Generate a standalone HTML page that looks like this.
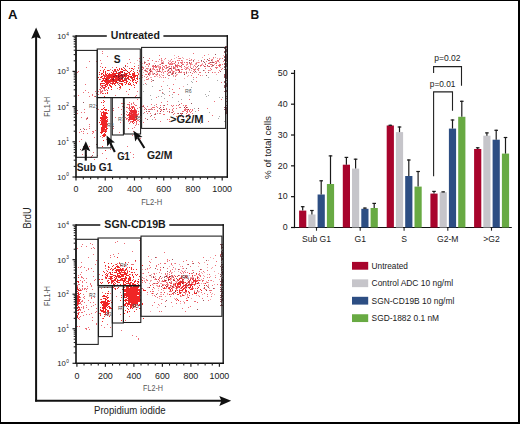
<!DOCTYPE html>
<html><head><meta charset="utf-8"><style>
html,body{margin:0;padding:0;background:#fff;}
body{width:520px;height:424px;overflow:hidden;position:relative;}
svg{position:absolute;left:0;top:0;font-family:"Liberation Sans", sans-serif;}
.frame{position:absolute;left:0;top:0;width:517px;height:421px;border-top:1px solid #000;border-left:1px solid #000;border-right:2px solid #000;border-bottom:2px solid #000;}
</style></head><body>
<svg width="520" height="424" viewBox="0 0 520 424">
<defs><filter id="jb" x="-5%" y="-5%" width="110%" height="110%"><feGaussianBlur stdDeviation="0.5"/></filter></defs><g filter="url(#jb)"><path d="M103 125h1v1h-1zM103 121h1v1h-1zM102 121h1v1h-1zM105 125h1v1h-1zM105 124h1v1h-1zM104 123h1v1h-1zM101 127h1v1h-1zM104 125h1v1h-1zM101 113h1v1h-1zM102 120h1v1h-1zM104 122h1v1h-1zM104 119h1v1h-1zM104 125h1v1h-1zM103 131h1v1h-1zM104 129h1v1h-1zM103 119h1v1h-1zM103 122h1v1h-1zM104 124h1v1h-1zM103 118h1v1h-1zM103 129h1v1h-1zM102 124h1v1h-1zM104 115h1v1h-1zM104 129h1v1h-1zM101 121h1v1h-1zM103 118h1v1h-1zM104 122h1v1h-1zM102 127h1v1h-1zM104 127h1v1h-1zM105 124h1v1h-1zM104 116h1v1h-1zM104 119h1v1h-1zM103 116h1v1h-1zM102 120h1v1h-1zM105 112h1v1h-1zM102 124h1v1h-1zM105 126h1v1h-1zM101 109h1v1h-1zM104 119h1v1h-1zM102 128h1v1h-1zM105 123h1v1h-1zM104 125h1v1h-1zM106 126h1v1h-1zM104 125h1v1h-1zM101 129h1v1h-1zM105 125h1v1h-1zM101 119h1v1h-1zM105 113h1v1h-1zM103 128h1v1h-1zM102 131h1v1h-1zM104 122h1v1h-1zM104 126h1v1h-1zM104 128h1v1h-1zM103 120h1v1h-1zM105 123h1v1h-1zM102 127h1v1h-1zM105 120h1v1h-1zM102 122h1v1h-1zM103 121h1v1h-1zM105 117h1v1h-1zM105 116h1v1h-1zM102 126h1v1h-1zM105 127h1v1h-1zM104 123h1v1h-1zM104 125h1v1h-1zM103 124h1v1h-1zM104 123h1v1h-1zM105 125h1v1h-1zM106 124h1v1h-1zM103 121h1v1h-1zM103 127h1v1h-1zM103 125h1v1h-1zM106 109h1v1h-1zM102 124h1v1h-1zM104 124h1v1h-1zM103 126h1v1h-1zM104 120h1v1h-1zM107 124h1v1h-1zM103 122h1v1h-1zM103 122h1v1h-1zM100 120h1v1h-1zM105 116h1v1h-1zM103 127h1v1h-1zM105 130h1v1h-1zM101 121h1v1h-1zM103 126h1v1h-1zM105 109h1v1h-1zM105 115h1v1h-1zM104 115h1v1h-1zM104 129h1v1h-1zM103 123h1v1h-1zM105 123h1v1h-1zM103 130h1v1h-1zM105 121h1v1h-1zM107 117h1v1h-1zM105 121h1v1h-1zM104 126h1v1h-1zM104 126h1v1h-1zM101 115h1v1h-1zM104 117h1v1h-1zM102 115h1v1h-1zM105 126h1v1h-1zM105 118h1v1h-1zM104 117h1v1h-1zM105 131h1v1h-1zM102 131h1v1h-1zM105 122h1v1h-1zM101 130h1v1h-1zM103 119h1v1h-1zM104 125h1v1h-1zM106 117h1v1h-1zM105 130h1v1h-1zM105 122h1v1h-1zM102 128h1v1h-1zM104 123h1v1h-1zM105 121h1v1h-1zM100 120h1v1h-1zM101 127h1v1h-1zM104 119h1v1h-1zM103 127h1v1h-1zM104 129h1v1h-1zM103 128h1v1h-1zM106 131h1v1h-1zM103 127h1v1h-1zM101 117h1v1h-1zM101 128h1v1h-1zM102 122h1v1h-1zM103 122h1v1h-1zM103 124h1v1h-1zM106 123h1v1h-1zM104 128h1v1h-1zM103 116h1v1h-1zM103 128h1v1h-1zM101 119h1v1h-1zM105 127h1v1h-1zM104 127h1v1h-1zM104 116h1v1h-1zM101 119h1v1h-1zM105 120h1v1h-1zM102 118h1v1h-1zM101 122h1v1h-1zM102 124h1v1h-1zM100 124h1v1h-1zM103 112h1v1h-1zM104 121h1v1h-1zM100 118h1v1h-1zM104 120h1v1h-1zM105 126h1v1h-1zM104 124h1v1h-1zM105 126h1v1h-1zM104 112h1v1h-1zM105 129h1v1h-1zM103 120h1v1h-1zM106 113h1v1h-1zM104 135h1v1h-1zM102 126h1v1h-1zM106 122h1v1h-1zM104 127h1v1h-1zM102 122h1v1h-1zM104 127h1v1h-1zM103 121h1v1h-1zM102 121h1v1h-1zM105 123h1v1h-1zM102 118h1v1h-1zM107 128h1v1h-1zM104 109h1v1h-1zM104 125h1v1h-1zM106 125h1v1h-1zM103 125h1v1h-1zM101 128h1v1h-1zM104 119h1v1h-1zM105 132h1v1h-1zM102 119h1v1h-1zM104 123h1v1h-1zM103 117h1v1h-1zM106 128h1v1h-1zM102 116h1v1h-1zM106 128h1v1h-1zM106 127h1v1h-1zM102 124h1v1h-1zM101 119h1v1h-1zM103 125h1v1h-1zM103 122h1v1h-1zM104 124h1v1h-1zM104 124h1v1h-1zM103 127h1v1h-1zM104 118h1v1h-1zM103 122h1v1h-1zM103 123h1v1h-1zM103 123h1v1h-1zM103 116h1v1h-1zM104 128h1v1h-1zM104 122h1v1h-1zM104 117h1v1h-1zM101 123h1v1h-1zM102 126h1v1h-1zM102 109h1v1h-1zM102 131h1v1h-1zM103 115h1v1h-1zM102 125h1v1h-1zM104 123h1v1h-1zM106 126h1v1h-1zM103 126h1v1h-1zM106 128h1v1h-1zM105 117h1v1h-1zM103 126h1v1h-1zM103 128h1v1h-1zM104 127h1v1h-1zM103 136h1v1h-1zM105 121h1v1h-1zM104 136h1v1h-1zM103 127h1v1h-1zM105 123h1v1h-1zM102 123h1v1h-1zM104 128h1v1h-1zM105 123h1v1h-1zM105 125h1v1h-1zM104 123h1v1h-1zM103 126h1v1h-1zM102 119h1v1h-1zM104 115h1v1h-1zM103 112h1v1h-1zM103 125h1v1h-1zM104 122h1v1h-1zM103 115h1v1h-1zM106 125h1v1h-1zM105 118h1v1h-1zM103 113h1v1h-1zM105 127h1v1h-1zM101 122h1v1h-1zM104 113h1v1h-1zM101 117h1v1h-1zM103 115h1v1h-1zM104 124h1v1h-1zM104 126h1v1h-1zM106 129h1v1h-1zM102 120h1v1h-1zM102 117h1v1h-1zM103 123h1v1h-1zM104 114h1v1h-1zM102 122h1v1h-1zM103 121h1v1h-1zM103 119h1v1h-1zM104 124h1v1h-1zM103 119h1v1h-1zM103 108h1v1h-1zM102 123h1v1h-1zM101 124h1v1h-1zM104 115h1v1h-1zM103 121h1v1h-1zM104 126h1v1h-1zM103 118h1v1h-1zM103 122h1v1h-1zM104 124h1v1h-1zM103 115h1v1h-1zM103 119h1v1h-1zM102 122h1v1h-1zM103 123h1v1h-1zM104 120h1v1h-1zM107 121h1v1h-1zM105 123h1v1h-1zM105 110h1v1h-1zM102 124h1v1h-1zM104 135h1v1h-1zM104 129h1v1h-1zM105 127h1v1h-1zM104 122h1v1h-1zM104 117h1v1h-1zM105 117h1v1h-1zM104 134h1v1h-1zM103 123h1v1h-1zM105 123h1v1h-1zM102 124h1v1h-1zM104 126h1v1h-1zM102 132h1v1h-1zM106 123h1v1h-1zM104 120h1v1h-1zM105 119h1v1h-1zM104 120h1v1h-1zM103 126h1v1h-1zM105 122h1v1h-1zM103 127h1v1h-1zM103 124h1v1h-1zM106 128h1v1h-1zM103 134h1v1h-1zM104 127h1v1h-1zM103 122h1v1h-1zM101 132h1v1h-1zM105 116h1v1h-1zM101 114h1v1h-1zM105 120h1v1h-1zM103 121h1v1h-1zM103 117h1v1h-1zM104 115h1v1h-1zM103 124h1v1h-1zM104 121h1v1h-1zM102 123h1v1h-1zM103 131h1v1h-1zM105 122h1v1h-1zM103 119h1v1h-1zM102 121h1v1h-1zM104 125h1v1h-1zM104 133h1v1h-1zM103 123h1v1h-1zM107 113h1v1h-1zM103 123h1v1h-1zM104 125h1v1h-1zM103 124h1v1h-1zM104 127h1v1h-1zM101 118h1v1h-1zM103 117h1v1h-1zM102 126h1v1h-1zM103 126h1v1h-1zM105 124h1v1h-1zM104 122h1v1h-1zM102 122h1v1h-1zM104 120h1v1h-1zM103 126h1v1h-1zM102 126h1v1h-1zM106 120h1v1h-1zM104 122h1v1h-1zM106 124h1v1h-1zM105 119h1v1h-1zM103 122h1v1h-1zM101 130h1v1h-1zM105 113h1v1h-1zM105 122h1v1h-1zM104 124h1v1h-1zM101 121h1v1h-1zM106 120h1v1h-1zM102 115h1v1h-1zM102 124h1v1h-1zM106 125h1v1h-1zM104 134h1v1h-1zM103 119h1v1h-1zM104 125h1v1h-1zM102 116h1v1h-1zM104 124h1v1h-1zM102 121h1v1h-1zM103 125h1v1h-1zM103 122h1v1h-1zM103 128h1v1h-1zM105 121h1v1h-1zM105 119h1v1h-1zM104 126h1v1h-1zM106 121h1v1h-1zM103 124h1v1h-1zM101 123h1v1h-1zM103 124h1v1h-1zM102 112h1v1h-1zM104 124h1v1h-1zM103 127h1v1h-1zM103 119h1v1h-1zM104 114h1v1h-1zM103 122h1v1h-1zM105 122h1v1h-1zM104 119h1v1h-1zM104 131h1v1h-1zM103 135h1v1h-1zM103 123h1v1h-1zM104 128h1v1h-1zM102 112h1v1h-1zM104 127h1v1h-1zM104 136h1v1h-1zM104 124h1v1h-1zM105 124h1v1h-1zM106 116h1v1h-1zM103 105h1v1h-1zM105 121h1v1h-1zM105 134h1v1h-1zM103 121h1v1h-1zM103 118h1v1h-1zM103 126h1v1h-1zM104 123h1v1h-1zM103 127h1v1h-1zM104 122h1v1h-1zM104 122h1v1h-1zM102 130h1v1h-1zM104 118h1v1h-1zM105 124h1v1h-1zM101 131h1v1h-1zM104 127h1v1h-1zM104 122h1v1h-1zM101 128h1v1h-1zM104 121h1v1h-1zM104 123h1v1h-1zM104 121h1v1h-1zM103 111h1v1h-1zM103 126h1v1h-1zM105 121h1v1h-1zM103 131h1v1h-1zM103 126h1v1h-1zM106 123h1v1h-1zM105 119h1v1h-1zM104 122h1v1h-1zM104 128h1v1h-1zM107 119h1v1h-1zM103 125h1v1h-1zM102 125h1v1h-1zM104 121h1v1h-1zM104 114h1v1h-1zM105 114h1v1h-1zM103 120h1v1h-1zM103 127h1v1h-1zM104 120h1v1h-1zM104 131h1v1h-1zM104 124h1v1h-1zM105 124h1v1h-1zM102 135h1v1h-1zM106 112h1v1h-1zM103 125h1v1h-1zM105 126h1v1h-1zM103 117h1v1h-1zM104 128h1v1h-1zM102 117h1v1h-1zM103 112h1v1h-1zM103 120h1v1h-1zM104 119h1v1h-1zM102 120h1v1h-1zM103 119h1v1h-1zM104 126h1v1h-1zM105 131h1v1h-1zM102 120h1v1h-1zM100 132h1v1h-1zM103 122h1v1h-1zM104 115h1v1h-1zM104 122h1v1h-1zM101 124h1v1h-1zM105 113h1v1h-1zM105 124h1v1h-1zM104 125h1v1h-1zM106 118h1v1h-1zM105 116h1v1h-1zM105 112h1v1h-1zM103 140h1v1h-1zM104 119h1v1h-1zM102 112h1v1h-1zM104 131h1v1h-1zM104 126h1v1h-1zM103 135h1v1h-1zM103 114h1v1h-1zM105 121h1v1h-1zM103 114h1v1h-1zM103 127h1v1h-1zM104 107h1v1h-1zM104 122h1v1h-1zM102 129h1v1h-1zM103 117h1v1h-1zM105 135h1v1h-1zM102 125h1v1h-1zM102 146h1v1h-1zM103 134h1v1h-1zM102 129h1v1h-1zM107 93h1v1h-1zM103 126h1v1h-1zM103 113h1v1h-1zM107 121h1v1h-1zM101 130h1v1h-1zM101 133h1v1h-1zM103 122h1v1h-1zM106 122h1v1h-1zM101 102h1v1h-1zM105 129h1v1h-1zM102 130h1v1h-1zM104 128h1v1h-1zM100 117h1v1h-1zM105 129h1v1h-1zM105 93h1v1h-1zM104 126h1v1h-1zM108 110h1v1h-1zM103 121h1v1h-1zM105 116h1v1h-1zM105 112h1v1h-1zM104 115h1v1h-1zM104 113h1v1h-1zM101 133h1v1h-1zM104 114h1v1h-1zM104 131h1v1h-1zM102 119h1v1h-1zM104 126h1v1h-1zM103 97h1v1h-1zM105 124h1v1h-1zM104 117h1v1h-1zM104 116h1v1h-1zM102 112h1v1h-1zM103 114h1v1h-1zM102 127h1v1h-1zM101 128h1v1h-1zM102 124h1v1h-1zM106 123h1v1h-1zM102 121h1v1h-1zM104 101h1v1h-1zM103 122h1v1h-1zM103 121h1v1h-1zM105 129h1v1h-1zM105 127h1v1h-1zM103 120h1v1h-1zM103 117h1v1h-1zM103 102h1v1h-1zM103 120h1v1h-1zM102 120h1v1h-1zM104 119h1v1h-1zM107 92h1v1h-1zM103 100h1v1h-1zM105 150h1v1h-1zM99 122h1v1h-1zM104 117h1v1h-1zM104 96h1v1h-1zM105 125h1v1h-1zM104 114h1v1h-1zM105 115h1v1h-1zM128 114h1v1h-1zM133 116h1v1h-1zM132 114h1v1h-1zM134 115h1v1h-1zM134 116h1v1h-1zM133 119h1v1h-1zM131 113h1v1h-1zM131 112h1v1h-1zM135 120h1v1h-1zM132 116h1v1h-1zM135 117h1v1h-1zM135 110h1v1h-1zM131 116h1v1h-1zM135 115h1v1h-1zM131 113h1v1h-1zM131 112h1v1h-1zM135 112h1v1h-1zM132 121h1v1h-1zM135 116h1v1h-1zM131 116h1v1h-1zM136 116h1v1h-1zM135 115h1v1h-1zM133 114h1v1h-1zM133 119h1v1h-1zM129 114h1v1h-1zM133 113h1v1h-1zM132 117h1v1h-1zM136 117h1v1h-1zM133 110h1v1h-1zM136 115h1v1h-1zM132 111h1v1h-1zM132 111h1v1h-1zM132 116h1v1h-1zM132 115h1v1h-1zM131 119h1v1h-1zM131 109h1v1h-1zM132 112h1v1h-1zM130 113h1v1h-1zM133 111h1v1h-1zM132 119h1v1h-1zM134 114h1v1h-1zM133 114h1v1h-1zM132 117h1v1h-1zM132 107h1v1h-1zM132 112h1v1h-1zM134 113h1v1h-1zM133 121h1v1h-1zM130 111h1v1h-1zM129 107h1v1h-1zM129 116h1v1h-1zM131 109h1v1h-1zM129 116h1v1h-1zM131 113h1v1h-1zM133 119h1v1h-1zM136 118h1v1h-1zM133 115h1v1h-1zM136 119h1v1h-1zM132 116h1v1h-1zM133 115h1v1h-1zM131 110h1v1h-1zM131 110h1v1h-1zM135 116h1v1h-1zM130 119h1v1h-1zM134 108h1v1h-1zM136 117h1v1h-1zM136 111h1v1h-1zM133 116h1v1h-1zM133 115h1v1h-1zM134 110h1v1h-1zM130 110h1v1h-1zM131 113h1v1h-1zM133 115h1v1h-1zM132 112h1v1h-1zM131 118h1v1h-1zM134 115h1v1h-1zM132 119h1v1h-1zM131 117h1v1h-1zM135 114h1v1h-1zM134 111h1v1h-1zM134 115h1v1h-1zM129 117h1v1h-1zM131 119h1v1h-1zM131 114h1v1h-1zM133 113h1v1h-1zM133 113h1v1h-1zM134 115h1v1h-1zM133 106h1v1h-1zM135 115h1v1h-1zM129 115h1v1h-1zM133 118h1v1h-1zM130 119h1v1h-1zM132 122h1v1h-1zM132 117h1v1h-1zM132 111h1v1h-1zM134 117h1v1h-1zM135 117h1v1h-1zM131 109h1v1h-1zM131 112h1v1h-1zM131 116h1v1h-1zM133 114h1v1h-1zM133 114h1v1h-1zM133 117h1v1h-1zM134 112h1v1h-1zM129 119h1v1h-1zM133 118h1v1h-1zM129 113h1v1h-1zM132 110h1v1h-1zM131 117h1v1h-1zM134 120h1v1h-1zM131 110h1v1h-1zM133 118h1v1h-1zM133 110h1v1h-1zM134 117h1v1h-1zM133 113h1v1h-1zM133 117h1v1h-1zM131 109h1v1h-1zM133 116h1v1h-1zM132 117h1v1h-1zM131 114h1v1h-1zM132 116h1v1h-1zM135 114h1v1h-1zM136 119h1v1h-1zM134 116h1v1h-1zM136 114h1v1h-1zM132 111h1v1h-1zM133 119h1v1h-1zM133 116h1v1h-1zM132 115h1v1h-1zM129 118h1v1h-1zM131 111h1v1h-1zM131 112h1v1h-1zM134 118h1v1h-1zM130 117h1v1h-1zM134 113h1v1h-1zM129 112h1v1h-1zM131 116h1v1h-1zM132 108h1v1h-1zM133 110h1v1h-1zM134 111h1v1h-1zM131 112h1v1h-1zM131 119h1v1h-1zM134 116h1v1h-1zM133 110h1v1h-1zM131 113h1v1h-1zM130 116h1v1h-1zM131 112h1v1h-1zM130 108h1v1h-1zM133 119h1v1h-1zM133 111h1v1h-1zM127 115h1v1h-1zM135 115h1v1h-1zM134 119h1v1h-1zM135 113h1v1h-1zM134 117h1v1h-1zM129 113h1v1h-1zM129 114h1v1h-1zM133 111h1v1h-1zM128 119h1v1h-1zM133 119h1v1h-1zM130 118h1v1h-1zM136 121h1v1h-1zM132 115h1v1h-1zM132 118h1v1h-1zM134 115h1v1h-1zM130 117h1v1h-1zM131 117h1v1h-1zM133 120h1v1h-1zM135 113h1v1h-1zM133 120h1v1h-1zM131 116h1v1h-1zM135 119h1v1h-1zM133 110h1v1h-1zM130 115h1v1h-1zM133 123h1v1h-1zM131 118h1v1h-1zM134 109h1v1h-1zM131 115h1v1h-1zM131 114h1v1h-1zM133 112h1v1h-1zM133 112h1v1h-1zM131 116h1v1h-1zM131 115h1v1h-1zM135 115h1v1h-1zM132 117h1v1h-1zM132 118h1v1h-1zM130 116h1v1h-1zM131 112h1v1h-1zM136 112h1v1h-1zM136 117h1v1h-1zM135 111h1v1h-1zM118 78h1v1h-1zM101 74h1v1h-1zM118 76h1v1h-1zM109 74h1v1h-1zM129 84h1v1h-1zM115 83h1v1h-1zM104 69h1v1h-1zM112 73h1v1h-1zM111 78h1v1h-1zM138 74h1v1h-1zM116 78h1v1h-1zM115 81h1v1h-1zM129 72h1v1h-1zM117 76h1v1h-1zM118 70h1v1h-1zM102 67h1v1h-1zM119 78h1v1h-1zM116 67h1v1h-1zM113 74h1v1h-1zM105 73h1v1h-1zM121 79h1v1h-1zM115 79h1v1h-1zM111 77h1v1h-1zM116 79h1v1h-1zM115 76h1v1h-1zM114 74h1v1h-1zM132 79h1v1h-1zM119 87h1v1h-1zM126 70h1v1h-1zM121 81h1v1h-1zM130 83h1v1h-1zM121 72h1v1h-1zM109 78h1v1h-1zM119 73h1v1h-1zM113 75h1v1h-1zM116 78h1v1h-1zM113 72h1v1h-1zM125 84h1v1h-1zM115 81h1v1h-1zM119 80h1v1h-1zM119 74h1v1h-1zM120 81h1v1h-1zM109 85h1v1h-1zM131 85h1v1h-1zM130 80h1v1h-1zM113 74h1v1h-1zM109 77h1v1h-1zM115 80h1v1h-1zM100 87h1v1h-1zM133 77h1v1h-1zM121 79h1v1h-1zM118 76h1v1h-1zM115 73h1v1h-1zM117 77h1v1h-1zM118 73h1v1h-1zM116 77h1v1h-1zM120 72h1v1h-1zM119 81h1v1h-1zM120 75h1v1h-1zM112 76h1v1h-1zM121 84h1v1h-1zM114 74h1v1h-1zM118 78h1v1h-1zM109 74h1v1h-1zM115 80h1v1h-1zM107 73h1v1h-1zM119 72h1v1h-1zM116 79h1v1h-1zM115 73h1v1h-1zM115 76h1v1h-1zM118 73h1v1h-1zM124 70h1v1h-1zM114 77h1v1h-1zM123 74h1v1h-1zM120 75h1v1h-1zM121 84h1v1h-1zM112 79h1v1h-1zM109 81h1v1h-1zM125 77h1v1h-1zM107 79h1v1h-1zM124 82h1v1h-1zM122 69h1v1h-1zM110 83h1v1h-1zM106 82h1v1h-1zM130 80h1v1h-1zM124 76h1v1h-1zM106 77h1v1h-1zM114 77h1v1h-1zM121 76h1v1h-1zM117 79h1v1h-1zM115 85h1v1h-1zM119 77h1v1h-1zM114 74h1v1h-1zM126 78h1v1h-1zM107 75h1v1h-1zM114 75h1v1h-1zM124 72h1v1h-1zM119 78h1v1h-1zM107 77h1v1h-1zM115 79h1v1h-1zM112 78h1v1h-1zM103 72h1v1h-1zM121 81h1v1h-1zM115 74h1v1h-1zM124 68h1v1h-1zM110 80h1v1h-1zM120 73h1v1h-1zM101 83h1v1h-1zM117 73h1v1h-1zM116 81h1v1h-1zM121 68h1v1h-1zM121 69h1v1h-1zM124 79h1v1h-1zM132 74h1v1h-1zM116 82h1v1h-1zM111 74h1v1h-1zM113 77h1v1h-1zM107 79h1v1h-1zM120 77h1v1h-1zM128 76h1v1h-1zM125 75h1v1h-1zM121 69h1v1h-1zM117 76h1v1h-1zM112 74h1v1h-1zM113 74h1v1h-1zM99 74h1v1h-1zM111 75h1v1h-1zM108 76h1v1h-1zM121 76h1v1h-1zM112 83h1v1h-1zM123 81h1v1h-1zM124 76h1v1h-1zM115 82h1v1h-1zM111 76h1v1h-1zM118 79h1v1h-1zM113 81h1v1h-1zM114 80h1v1h-1zM124 80h1v1h-1zM121 72h1v1h-1zM106 74h1v1h-1zM119 83h1v1h-1zM106 78h1v1h-1zM109 74h1v1h-1zM113 80h1v1h-1zM117 82h1v1h-1zM108 81h1v1h-1zM122 77h1v1h-1zM119 75h1v1h-1zM107 75h1v1h-1zM111 89h1v1h-1zM112 84h1v1h-1zM117 78h1v1h-1zM121 74h1v1h-1zM122 79h1v1h-1zM104 80h1v1h-1zM120 79h1v1h-1zM127 75h1v1h-1zM119 80h1v1h-1zM109 82h1v1h-1zM105 71h1v1h-1zM119 72h1v1h-1zM115 70h1v1h-1zM116 72h1v1h-1zM118 70h1v1h-1zM119 76h1v1h-1zM116 77h1v1h-1zM116 71h1v1h-1zM108 75h1v1h-1zM119 68h1v1h-1zM110 74h1v1h-1zM108 78h1v1h-1zM114 73h1v1h-1zM108 80h1v1h-1zM111 80h1v1h-1zM119 69h1v1h-1zM107 77h1v1h-1zM118 80h1v1h-1zM122 81h1v1h-1zM113 76h1v1h-1zM121 75h1v1h-1zM123 70h1v1h-1zM120 76h1v1h-1zM101 81h1v1h-1zM118 77h1v1h-1zM107 75h1v1h-1zM127 73h1v1h-1zM107 76h1v1h-1zM113 73h1v1h-1zM109 82h1v1h-1zM105 85h1v1h-1zM111 72h1v1h-1zM121 79h1v1h-1zM108 80h1v1h-1zM102 73h1v1h-1zM124 76h1v1h-1zM106 79h1v1h-1zM122 77h1v1h-1zM102 76h1v1h-1zM119 80h1v1h-1zM129 76h1v1h-1zM112 77h1v1h-1zM125 73h1v1h-1zM125 65h1v1h-1zM121 74h1v1h-1zM119 80h1v1h-1zM107 77h1v1h-1zM117 80h1v1h-1zM109 73h1v1h-1zM101 88h1v1h-1zM114 76h1v1h-1zM104 81h1v1h-1zM111 83h1v1h-1zM122 77h1v1h-1zM121 72h1v1h-1zM113 75h1v1h-1zM106 77h1v1h-1zM114 83h1v1h-1zM109 75h1v1h-1zM119 79h1v1h-1zM116 75h1v1h-1zM119 79h1v1h-1zM102 76h1v1h-1zM105 72h1v1h-1zM117 77h1v1h-1zM116 73h1v1h-1zM114 73h1v1h-1zM118 80h1v1h-1zM129 82h1v1h-1zM109 75h1v1h-1zM108 78h1v1h-1zM130 80h1v1h-1zM99 72h1v1h-1zM106 79h1v1h-1zM116 78h1v1h-1zM129 73h1v1h-1zM109 85h1v1h-1zM118 74h1v1h-1zM100 70h1v1h-1zM116 81h1v1h-1zM114 74h1v1h-1zM110 85h1v1h-1zM102 78h1v1h-1zM116 80h1v1h-1zM112 79h1v1h-1zM122 76h1v1h-1zM112 76h1v1h-1zM108 76h1v1h-1zM113 78h1v1h-1zM126 83h1v1h-1zM112 80h1v1h-1zM118 80h1v1h-1zM116 78h1v1h-1zM112 74h1v1h-1zM122 83h1v1h-1zM120 79h1v1h-1zM117 75h1v1h-1zM102 80h1v1h-1zM117 75h1v1h-1zM108 82h1v1h-1zM102 85h1v1h-1zM120 87h1v1h-1zM110 77h1v1h-1zM112 78h1v1h-1zM114 74h1v1h-1zM124 74h1v1h-1zM112 79h1v1h-1zM111 75h1v1h-1zM118 75h1v1h-1zM106 77h1v1h-1zM114 84h1v1h-1zM107 81h1v1h-1zM110 75h1v1h-1zM113 78h1v1h-1zM122 85h1v1h-1zM111 83h1v1h-1zM123 80h1v1h-1zM110 81h1v1h-1zM115 79h1v1h-1zM113 80h1v1h-1zM124 82h1v1h-1zM114 81h1v1h-1zM126 73h1v1h-1zM127 71h1v1h-1zM120 80h1v1h-1zM127 78h1v1h-1zM112 74h1v1h-1zM106 80h1v1h-1zM114 74h1v1h-1zM119 74h1v1h-1zM112 75h1v1h-1zM128 83h1v1h-1zM114 70h1v1h-1zM118 77h1v1h-1zM118 79h1v1h-1zM113 81h1v1h-1zM122 78h1v1h-1zM112 75h1v1h-1zM121 72h1v1h-1zM114 74h1v1h-1zM105 80h1v1h-1zM115 77h1v1h-1zM122 71h1v1h-1zM115 78h1v1h-1zM122 72h1v1h-1zM121 78h1v1h-1zM126 82h1v1h-1zM120 86h1v1h-1zM115 75h1v1h-1zM113 73h1v1h-1zM115 69h1v1h-1zM115 79h1v1h-1zM123 76h1v1h-1zM126 74h1v1h-1zM114 69h1v1h-1zM110 74h1v1h-1zM126 79h1v1h-1zM107 79h1v1h-1zM119 76h1v1h-1zM116 76h1v1h-1zM112 70h1v1h-1zM115 82h1v1h-1zM126 76h1v1h-1zM110 76h1v1h-1zM122 78h1v1h-1zM111 79h1v1h-1zM114 79h1v1h-1zM113 71h1v1h-1zM116 80h1v1h-1zM107 77h1v1h-1zM122 75h1v1h-1zM111 86h1v1h-1zM122 81h1v1h-1zM109 84h1v1h-1zM103 75h1v1h-1zM121 83h1v1h-1zM109 74h1v1h-1zM117 69h1v1h-1zM120 79h1v1h-1zM112 79h1v1h-1zM121 78h1v1h-1zM119 83h1v1h-1zM112 78h1v1h-1zM112 81h1v1h-1zM113 79h1v1h-1zM116 77h1v1h-1zM128 77h1v1h-1zM126 80h1v1h-1zM125 76h1v1h-1zM122 80h1v1h-1zM111 78h1v1h-1zM115 77h1v1h-1zM125 74h1v1h-1zM103 70h1v1h-1zM112 74h1v1h-1zM116 79h1v1h-1zM128 78h1v1h-1zM119 74h1v1h-1zM120 83h1v1h-1zM125 69h1v1h-1zM122 84h1v1h-1zM121 71h1v1h-1zM113 79h1v1h-1zM119 74h1v1h-1zM109 81h1v1h-1zM106 83h1v1h-1zM116 78h1v1h-1zM106 75h1v1h-1zM120 71h1v1h-1zM130 71h1v1h-1zM107 77h1v1h-1zM119 80h1v1h-1zM113 76h1v1h-1zM114 75h1v1h-1zM117 78h1v1h-1zM111 78h1v1h-1zM115 77h1v1h-1zM123 70h1v1h-1zM117 73h1v1h-1zM113 83h1v1h-1zM108 77h1v1h-1zM111 81h1v1h-1zM108 70h1v1h-1zM119 76h1v1h-1zM113 81h1v1h-1zM109 75h1v1h-1zM117 79h1v1h-1zM112 81h1v1h-1zM132 75h1v1h-1zM129 68h1v1h-1zM126 76h1v1h-1zM116 76h1v1h-1zM111 72h1v1h-1zM113 82h1v1h-1zM124 76h1v1h-1zM112 74h1v1h-1zM107 84h1v1h-1zM120 77h1v1h-1zM112 73h1v1h-1zM125 80h1v1h-1zM109 81h1v1h-1zM102 83h1v1h-1zM103 78h1v1h-1zM107 82h1v1h-1zM108 75h1v1h-1zM110 86h1v1h-1zM105 82h1v1h-1zM103 79h1v1h-1zM102 80h1v1h-1zM106 86h1v1h-1zM108 83h1v1h-1zM104 78h1v1h-1zM105 81h1v1h-1zM100 83h1v1h-1zM101 77h1v1h-1zM106 77h1v1h-1zM110 79h1v1h-1zM110 85h1v1h-1zM104 81h1v1h-1zM109 78h1v1h-1zM106 77h1v1h-1zM106 78h1v1h-1zM106 84h1v1h-1zM110 80h1v1h-1zM106 84h1v1h-1zM105 74h1v1h-1zM109 75h1v1h-1zM108 75h1v1h-1zM111 74h1v1h-1zM108 87h1v1h-1zM103 87h1v1h-1zM103 71h1v1h-1zM108 83h1v1h-1zM105 67h1v1h-1zM105 78h1v1h-1zM104 78h1v1h-1zM100 77h1v1h-1zM111 87h1v1h-1zM104 76h1v1h-1zM107 85h1v1h-1zM108 74h1v1h-1zM106 80h1v1h-1zM110 85h1v1h-1zM107 85h1v1h-1zM104 87h1v1h-1zM104 81h1v1h-1zM108 75h1v1h-1zM103 71h1v1h-1zM106 79h1v1h-1zM105 82h1v1h-1zM99 79h1v1h-1zM106 78h1v1h-1zM108 88h1v1h-1zM104 75h1v1h-1zM104 80h1v1h-1zM107 75h1v1h-1zM108 75h1v1h-1zM108 82h1v1h-1zM107 90h1v1h-1zM105 79h1v1h-1zM107 84h1v1h-1zM102 81h1v1h-1zM103 83h1v1h-1zM109 80h1v1h-1zM105 80h1v1h-1zM107 80h1v1h-1zM104 76h1v1h-1zM105 85h1v1h-1zM105 86h1v1h-1zM98 77h1v1h-1zM106 79h1v1h-1zM101 76h1v1h-1zM109 73h1v1h-1zM103 74h1v1h-1zM104 83h1v1h-1zM107 70h1v1h-1zM110 77h1v1h-1zM104 88h1v1h-1zM105 74h1v1h-1zM104 76h1v1h-1zM103 78h1v1h-1zM108 81h1v1h-1zM102 93h1v1h-1zM103 80h1v1h-1zM106 83h1v1h-1zM105 82h1v1h-1zM112 80h1v1h-1zM102 81h1v1h-1zM103 78h1v1h-1zM106 81h1v1h-1zM105 84h1v1h-1zM105 73h1v1h-1zM108 78h1v1h-1zM109 76h1v1h-1zM107 81h1v1h-1zM102 86h1v1h-1zM100 84h1v1h-1zM109 82h1v1h-1zM107 77h1v1h-1zM105 81h1v1h-1zM107 83h1v1h-1zM105 76h1v1h-1zM104 81h1v1h-1zM101 73h1v1h-1zM104 77h1v1h-1zM105 67h1v1h-1zM105 78h1v1h-1zM108 70h1v1h-1zM105 82h1v1h-1zM107 85h1v1h-1zM109 74h1v1h-1zM107 78h1v1h-1zM103 87h1v1h-1zM104 75h1v1h-1zM104 75h1v1h-1zM108 81h1v1h-1zM110 81h1v1h-1zM104 85h1v1h-1zM104 77h1v1h-1zM105 80h1v1h-1zM109 77h1v1h-1zM134 76h1v1h-1zM128 72h1v1h-1zM132 78h1v1h-1zM134 78h1v1h-1zM133 75h1v1h-1zM134 73h1v1h-1zM128 75h1v1h-1zM128 75h1v1h-1zM130 74h1v1h-1zM132 73h1v1h-1zM131 70h1v1h-1zM133 73h1v1h-1zM134 66h1v1h-1zM130 77h1v1h-1zM124 75h1v1h-1zM133 77h1v1h-1zM127 77h1v1h-1zM133 73h1v1h-1zM135 76h1v1h-1zM133 75h1v1h-1zM134 77h1v1h-1zM136 78h1v1h-1zM130 76h1v1h-1zM136 75h1v1h-1zM134 79h1v1h-1zM132 68h1v1h-1zM133 77h1v1h-1zM133 74h1v1h-1zM137 76h1v1h-1zM130 74h1v1h-1zM134 72h1v1h-1zM129 84h1v1h-1zM137 81h1v1h-1zM137 79h1v1h-1zM127 81h1v1h-1zM137 78h1v1h-1zM126 81h1v1h-1zM137 75h1v1h-1zM133 80h1v1h-1zM132 81h1v1h-1zM133 79h1v1h-1zM133 71h1v1h-1zM129 89h1v1h-1zM133 82h1v1h-1zM136 83h1v1h-1zM134 74h1v1h-1zM133 69h1v1h-1zM132 80h1v1h-1zM125 77h1v1h-1zM135 82h1v1h-1zM129 74h1v1h-1zM126 73h1v1h-1zM134 85h1v1h-1zM129 82h1v1h-1zM134 75h1v1h-1zM132 77h1v1h-1zM136 82h1v1h-1zM134 78h1v1h-1zM132 75h1v1h-1zM128 84h1v1h-1zM131 68h1v1h-1zM133 76h1v1h-1zM133 84h1v1h-1zM132 75h1v1h-1zM130 76h1v1h-1zM131 77h1v1h-1zM130 84h1v1h-1zM135 80h1v1h-1zM135 80h1v1h-1zM135 82h1v1h-1zM136 82h1v1h-1zM131 76h1v1h-1zM130 80h1v1h-1zM135 75h1v1h-1zM134 87h1v1h-1zM137 72h1v1h-1zM132 79h1v1h-1zM132 78h1v1h-1zM137 78h1v1h-1zM129 79h1v1h-1zM129 297h1v1h-1zM137 303h1v1h-1zM128 301h1v1h-1zM127 296h1v1h-1zM132 298h1v1h-1zM129 301h1v1h-1zM131 294h1v1h-1zM131 289h1v1h-1zM134 296h1v1h-1zM133 304h1v1h-1zM128 293h1v1h-1zM132 299h1v1h-1zM131 299h1v1h-1zM133 286h1v1h-1zM129 284h1v1h-1zM130 292h1v1h-1zM134 295h1v1h-1zM131 301h1v1h-1zM134 288h1v1h-1zM129 296h1v1h-1zM138 294h1v1h-1zM131 296h1v1h-1zM134 294h1v1h-1zM133 292h1v1h-1zM129 290h1v1h-1zM134 292h1v1h-1zM134 297h1v1h-1zM135 281h1v1h-1zM128 288h1v1h-1zM131 299h1v1h-1zM137 296h1v1h-1zM130 297h1v1h-1zM123 299h1v1h-1zM132 298h1v1h-1zM128 289h1v1h-1zM129 294h1v1h-1zM133 293h1v1h-1zM133 298h1v1h-1zM127 294h1v1h-1zM126 292h1v1h-1zM135 291h1v1h-1zM138 297h1v1h-1zM135 295h1v1h-1zM135 300h1v1h-1zM132 292h1v1h-1zM129 304h1v1h-1zM131 292h1v1h-1zM129 286h1v1h-1zM130 296h1v1h-1zM130 291h1v1h-1zM133 297h1v1h-1zM130 296h1v1h-1zM128 299h1v1h-1zM128 293h1v1h-1zM132 292h1v1h-1zM127 305h1v1h-1zM137 286h1v1h-1zM132 288h1v1h-1zM133 288h1v1h-1zM134 297h1v1h-1zM138 301h1v1h-1zM130 299h1v1h-1zM130 294h1v1h-1zM130 286h1v1h-1zM134 284h1v1h-1zM131 297h1v1h-1zM132 287h1v1h-1zM129 298h1v1h-1zM136 303h1v1h-1zM125 297h1v1h-1zM130 298h1v1h-1zM125 294h1v1h-1zM134 291h1v1h-1zM130 290h1v1h-1zM136 288h1v1h-1zM128 293h1v1h-1zM130 305h1v1h-1zM133 290h1v1h-1zM134 296h1v1h-1zM133 294h1v1h-1zM133 289h1v1h-1zM127 292h1v1h-1zM127 298h1v1h-1zM139 301h1v1h-1zM133 296h1v1h-1zM129 288h1v1h-1zM134 287h1v1h-1zM133 294h1v1h-1zM134 295h1v1h-1zM132 292h1v1h-1zM125 293h1v1h-1zM134 300h1v1h-1zM137 289h1v1h-1zM128 298h1v1h-1zM130 308h1v1h-1zM133 287h1v1h-1zM129 302h1v1h-1zM125 295h1v1h-1zM126 303h1v1h-1zM130 289h1v1h-1zM125 291h1v1h-1zM140 295h1v1h-1zM131 289h1v1h-1zM133 292h1v1h-1zM128 302h1v1h-1zM133 290h1v1h-1zM137 294h1v1h-1zM133 295h1v1h-1zM136 298h1v1h-1zM130 298h1v1h-1zM130 295h1v1h-1zM138 289h1v1h-1zM128 292h1v1h-1zM130 301h1v1h-1zM126 306h1v1h-1zM137 292h1v1h-1zM132 293h1v1h-1zM134 298h1v1h-1zM134 298h1v1h-1zM139 294h1v1h-1zM134 294h1v1h-1zM132 296h1v1h-1zM131 296h1v1h-1zM128 294h1v1h-1zM129 289h1v1h-1zM129 292h1v1h-1zM131 287h1v1h-1zM131 289h1v1h-1zM128 295h1v1h-1zM136 296h1v1h-1zM130 292h1v1h-1zM136 286h1v1h-1zM136 287h1v1h-1zM129 295h1v1h-1zM131 303h1v1h-1zM133 294h1v1h-1zM135 295h1v1h-1zM129 300h1v1h-1zM137 301h1v1h-1zM127 304h1v1h-1zM130 298h1v1h-1zM136 307h1v1h-1zM125 289h1v1h-1zM136 297h1v1h-1zM130 280h1v1h-1zM133 294h1v1h-1zM131 296h1v1h-1zM134 293h1v1h-1zM128 293h1v1h-1zM124 289h1v1h-1zM139 291h1v1h-1zM131 304h1v1h-1zM135 295h1v1h-1zM134 293h1v1h-1zM128 300h1v1h-1zM132 303h1v1h-1zM131 293h1v1h-1zM133 294h1v1h-1zM130 290h1v1h-1zM132 296h1v1h-1zM138 294h1v1h-1zM125 297h1v1h-1zM140 292h1v1h-1zM129 294h1v1h-1zM131 287h1v1h-1zM134 290h1v1h-1zM125 291h1v1h-1zM134 304h1v1h-1zM136 295h1v1h-1zM130 293h1v1h-1zM135 292h1v1h-1zM133 299h1v1h-1zM128 292h1v1h-1zM133 295h1v1h-1zM131 292h1v1h-1zM131 304h1v1h-1zM137 286h1v1h-1zM132 295h1v1h-1zM132 287h1v1h-1zM131 295h1v1h-1zM129 296h1v1h-1zM132 296h1v1h-1zM131 292h1v1h-1zM132 300h1v1h-1zM135 294h1v1h-1zM130 300h1v1h-1zM134 299h1v1h-1zM130 290h1v1h-1zM132 291h1v1h-1zM136 299h1v1h-1zM123 298h1v1h-1zM136 300h1v1h-1zM130 290h1v1h-1zM135 300h1v1h-1zM132 289h1v1h-1zM126 296h1v1h-1zM128 291h1v1h-1zM133 300h1v1h-1zM124 291h1v1h-1zM136 294h1v1h-1zM130 298h1v1h-1zM127 288h1v1h-1zM132 302h1v1h-1zM135 294h1v1h-1zM135 292h1v1h-1zM127 286h1v1h-1zM133 299h1v1h-1zM133 294h1v1h-1zM130 300h1v1h-1zM131 287h1v1h-1zM137 291h1v1h-1zM133 295h1v1h-1zM135 296h1v1h-1zM136 296h1v1h-1zM130 292h1v1h-1zM134 290h1v1h-1zM135 293h1v1h-1zM128 290h1v1h-1zM131 304h1v1h-1zM134 295h1v1h-1zM128 304h1v1h-1zM130 294h1v1h-1zM130 301h1v1h-1zM132 292h1v1h-1zM132 289h1v1h-1zM128 294h1v1h-1zM139 289h1v1h-1zM131 286h1v1h-1zM132 296h1v1h-1zM134 288h1v1h-1zM129 291h1v1h-1zM131 306h1v1h-1zM131 294h1v1h-1zM130 299h1v1h-1zM137 289h1v1h-1zM135 295h1v1h-1zM136 300h1v1h-1zM134 286h1v1h-1zM132 292h1v1h-1zM133 295h1v1h-1zM135 286h1v1h-1zM129 294h1v1h-1zM133 292h1v1h-1zM131 295h1v1h-1zM135 294h1v1h-1zM132 285h1v1h-1zM133 283h1v1h-1zM133 294h1v1h-1zM132 291h1v1h-1zM130 299h1v1h-1zM133 294h1v1h-1zM130 296h1v1h-1zM136 294h1v1h-1zM130 288h1v1h-1zM132 290h1v1h-1zM126 299h1v1h-1zM129 284h1v1h-1zM129 304h1v1h-1zM131 288h1v1h-1zM127 298h1v1h-1zM133 296h1v1h-1zM131 297h1v1h-1zM137 297h1v1h-1zM131 287h1v1h-1zM133 303h1v1h-1zM134 288h1v1h-1zM132 301h1v1h-1zM129 297h1v1h-1zM136 303h1v1h-1zM126 286h1v1h-1zM133 298h1v1h-1zM130 294h1v1h-1zM130 301h1v1h-1zM127 291h1v1h-1zM126 290h1v1h-1zM131 295h1v1h-1zM138 293h1v1h-1zM133 296h1v1h-1zM132 302h1v1h-1zM132 295h1v1h-1zM131 295h1v1h-1zM131 300h1v1h-1zM132 295h1v1h-1zM131 298h1v1h-1zM130 299h1v1h-1zM129 298h1v1h-1zM139 296h1v1h-1zM131 288h1v1h-1zM134 295h1v1h-1zM135 291h1v1h-1zM133 304h1v1h-1zM133 293h1v1h-1zM127 294h1v1h-1zM134 298h1v1h-1zM127 289h1v1h-1zM128 289h1v1h-1zM130 296h1v1h-1zM139 296h1v1h-1zM137 286h1v1h-1zM137 299h1v1h-1zM133 299h1v1h-1zM134 304h1v1h-1zM135 286h1v1h-1zM125 303h1v1h-1zM131 301h1v1h-1zM130 291h1v1h-1zM130 296h1v1h-1zM132 291h1v1h-1zM134 298h1v1h-1zM128 289h1v1h-1zM124 293h1v1h-1zM132 291h1v1h-1zM129 294h1v1h-1zM132 297h1v1h-1zM135 297h1v1h-1zM136 290h1v1h-1zM134 296h1v1h-1zM128 291h1v1h-1zM133 295h1v1h-1zM127 292h1v1h-1zM137 299h1v1h-1zM132 301h1v1h-1zM128 294h1v1h-1zM135 293h1v1h-1zM127 298h1v1h-1zM138 281h1v1h-1zM132 288h1v1h-1zM130 287h1v1h-1zM132 291h1v1h-1zM128 292h1v1h-1zM132 304h1v1h-1zM133 303h1v1h-1zM127 295h1v1h-1zM130 286h1v1h-1zM132 291h1v1h-1zM129 289h1v1h-1zM135 292h1v1h-1zM131 295h1v1h-1zM127 296h1v1h-1zM131 297h1v1h-1zM130 295h1v1h-1zM133 299h1v1h-1zM129 299h1v1h-1zM128 294h1v1h-1zM132 295h1v1h-1zM131 299h1v1h-1zM129 302h1v1h-1zM125 295h1v1h-1zM134 295h1v1h-1zM132 299h1v1h-1zM128 298h1v1h-1zM135 293h1v1h-1zM128 289h1v1h-1zM133 290h1v1h-1zM127 293h1v1h-1zM137 298h1v1h-1zM128 300h1v1h-1zM130 306h1v1h-1zM129 298h1v1h-1zM134 292h1v1h-1zM131 300h1v1h-1zM133 294h1v1h-1zM133 303h1v1h-1zM135 297h1v1h-1zM133 286h1v1h-1zM132 292h1v1h-1zM134 291h1v1h-1zM133 289h1v1h-1zM135 291h1v1h-1zM131 297h1v1h-1zM130 295h1v1h-1zM135 304h1v1h-1zM125 290h1v1h-1zM134 299h1v1h-1zM130 295h1v1h-1zM131 306h1v1h-1zM131 288h1v1h-1zM126 288h1v1h-1zM136 293h1v1h-1zM139 298h1v1h-1zM133 298h1v1h-1zM134 299h1v1h-1zM128 292h1v1h-1zM129 295h1v1h-1zM131 288h1v1h-1zM129 304h1v1h-1zM139 290h1v1h-1zM133 294h1v1h-1zM128 298h1v1h-1zM131 303h1v1h-1zM133 293h1v1h-1zM135 291h1v1h-1zM135 298h1v1h-1zM125 293h1v1h-1zM133 298h1v1h-1zM132 294h1v1h-1zM130 293h1v1h-1zM132 289h1v1h-1zM134 293h1v1h-1zM133 292h1v1h-1zM133 295h1v1h-1zM135 297h1v1h-1zM135 294h1v1h-1zM131 293h1v1h-1zM127 294h1v1h-1zM136 298h1v1h-1zM128 296h1v1h-1zM134 288h1v1h-1zM133 296h1v1h-1zM134 296h1v1h-1zM125 284h1v1h-1zM139 292h1v1h-1zM136 301h1v1h-1zM132 289h1v1h-1zM137 294h1v1h-1zM133 297h1v1h-1zM135 300h1v1h-1zM126 287h1v1h-1zM132 295h1v1h-1zM134 294h1v1h-1zM131 305h1v1h-1zM137 300h1v1h-1zM135 290h1v1h-1zM131 294h1v1h-1zM127 290h1v1h-1zM132 288h1v1h-1zM134 297h1v1h-1zM131 293h1v1h-1zM134 297h1v1h-1zM133 288h1v1h-1zM125 305h1v1h-1zM129 293h1v1h-1zM125 290h1v1h-1zM129 299h1v1h-1zM130 292h1v1h-1zM129 292h1v1h-1zM126 296h1v1h-1zM136 295h1v1h-1zM129 301h1v1h-1zM133 289h1v1h-1zM129 291h1v1h-1zM131 301h1v1h-1zM129 294h1v1h-1zM132 288h1v1h-1zM130 298h1v1h-1zM136 285h1v1h-1zM134 293h1v1h-1zM136 298h1v1h-1zM139 296h1v1h-1zM130 290h1v1h-1zM126 297h1v1h-1zM133 299h1v1h-1zM133 287h1v1h-1zM130 293h1v1h-1zM132 298h1v1h-1zM137 296h1v1h-1zM124 289h1v1h-1zM123 291h1v1h-1zM127 296h1v1h-1zM131 300h1v1h-1zM136 292h1v1h-1zM135 295h1v1h-1zM133 301h1v1h-1zM127 294h1v1h-1zM137 291h1v1h-1zM132 295h1v1h-1zM130 288h1v1h-1zM129 289h1v1h-1zM136 296h1v1h-1zM134 288h1v1h-1zM133 295h1v1h-1zM135 291h1v1h-1zM135 301h1v1h-1zM138 290h1v1h-1zM127 287h1v1h-1zM135 298h1v1h-1zM133 290h1v1h-1zM136 303h1v1h-1zM131 294h1v1h-1zM136 297h1v1h-1zM137 292h1v1h-1zM133 293h1v1h-1zM129 293h1v1h-1zM130 297h1v1h-1zM130 295h1v1h-1zM128 288h1v1h-1zM137 289h1v1h-1zM138 299h1v1h-1zM130 295h1v1h-1zM131 291h1v1h-1zM136 294h1v1h-1zM135 291h1v1h-1zM129 301h1v1h-1zM130 289h1v1h-1zM131 300h1v1h-1zM131 291h1v1h-1zM134 300h1v1h-1zM131 293h1v1h-1zM130 308h1v1h-1zM131 303h1v1h-1zM131 297h1v1h-1zM124 295h1v1h-1zM132 293h1v1h-1zM130 288h1v1h-1zM126 295h1v1h-1zM129 294h1v1h-1zM131 292h1v1h-1zM129 304h1v1h-1zM127 292h1v1h-1zM130 289h1v1h-1zM128 299h1v1h-1zM135 295h1v1h-1zM136 290h1v1h-1zM136 303h1v1h-1zM130 304h1v1h-1zM128 289h1v1h-1zM131 290h1v1h-1zM134 289h1v1h-1zM132 285h1v1h-1zM131 300h1v1h-1zM131 296h1v1h-1zM136 289h1v1h-1zM127 295h1v1h-1zM133 293h1v1h-1zM128 301h1v1h-1zM127 293h1v1h-1zM131 298h1v1h-1zM130 290h1v1h-1zM139 290h1v1h-1zM135 294h1v1h-1zM130 294h1v1h-1zM131 296h1v1h-1zM132 290h1v1h-1zM130 306h1v1h-1zM138 298h1v1h-1zM132 293h1v1h-1zM137 292h1v1h-1zM128 298h1v1h-1zM128 290h1v1h-1zM137 286h1v1h-1zM131 295h1v1h-1zM132 287h1v1h-1zM131 293h1v1h-1zM139 300h1v1h-1zM129 299h1v1h-1zM134 294h1v1h-1zM131 293h1v1h-1zM126 291h1v1h-1zM135 302h1v1h-1zM138 293h1v1h-1zM134 282h1v1h-1zM131 288h1v1h-1zM135 286h1v1h-1zM128 289h1v1h-1zM133 299h1v1h-1zM128 304h1v1h-1zM132 290h1v1h-1zM133 294h1v1h-1zM135 296h1v1h-1zM140 300h1v1h-1zM129 298h1v1h-1zM134 289h1v1h-1zM129 290h1v1h-1zM131 301h1v1h-1zM129 295h1v1h-1zM134 299h1v1h-1zM133 289h1v1h-1zM140 299h1v1h-1zM137 303h1v1h-1zM137 297h1v1h-1zM133 298h1v1h-1zM126 299h1v1h-1zM128 297h1v1h-1zM128 298h1v1h-1zM130 307h1v1h-1zM132 297h1v1h-1zM128 293h1v1h-1zM131 293h1v1h-1zM130 290h1v1h-1zM134 293h1v1h-1zM128 296h1v1h-1zM128 294h1v1h-1zM130 290h1v1h-1zM131 290h1v1h-1zM127 296h1v1h-1zM130 287h1v1h-1zM130 295h1v1h-1zM133 296h1v1h-1zM132 298h1v1h-1zM130 290h1v1h-1zM134 292h1v1h-1zM132 298h1v1h-1zM135 301h1v1h-1zM129 293h1v1h-1zM134 287h1v1h-1zM127 298h1v1h-1zM129 290h1v1h-1zM135 297h1v1h-1zM135 293h1v1h-1zM130 293h1v1h-1zM133 284h1v1h-1zM129 298h1v1h-1zM129 294h1v1h-1zM132 297h1v1h-1zM130 289h1v1h-1zM138 286h1v1h-1zM132 294h1v1h-1zM139 305h1v1h-1zM135 289h1v1h-1zM129 291h1v1h-1zM130 296h1v1h-1zM129 293h1v1h-1zM137 302h1v1h-1zM125 290h1v1h-1zM130 301h1v1h-1zM130 304h1v1h-1zM133 302h1v1h-1zM128 293h1v1h-1zM135 297h1v1h-1zM125 293h1v1h-1zM132 298h1v1h-1zM129 303h1v1h-1zM132 302h1v1h-1zM133 295h1v1h-1zM130 289h1v1h-1zM135 298h1v1h-1zM135 293h1v1h-1zM128 293h1v1h-1zM130 294h1v1h-1zM135 290h1v1h-1zM130 298h1v1h-1zM135 306h1v1h-1zM134 290h1v1h-1zM128 291h1v1h-1zM132 296h1v1h-1zM131 291h1v1h-1zM131 294h1v1h-1zM134 295h1v1h-1zM129 289h1v1h-1zM137 294h1v1h-1zM131 294h1v1h-1zM136 293h1v1h-1zM132 293h1v1h-1zM134 289h1v1h-1zM132 300h1v1h-1zM136 298h1v1h-1zM133 302h1v1h-1zM134 302h1v1h-1zM127 289h1v1h-1zM135 293h1v1h-1zM130 290h1v1h-1zM137 288h1v1h-1zM132 287h1v1h-1zM131 306h1v1h-1zM128 303h1v1h-1zM128 286h1v1h-1zM133 289h1v1h-1zM126 300h1v1h-1zM129 289h1v1h-1zM132 294h1v1h-1zM136 295h1v1h-1zM137 300h1v1h-1zM138 300h1v1h-1zM132 297h1v1h-1zM132 287h1v1h-1zM127 298h1v1h-1zM127 294h1v1h-1zM128 296h1v1h-1zM131 292h1v1h-1zM128 283h1v1h-1zM132 288h1v1h-1zM130 296h1v1h-1zM135 298h1v1h-1zM137 287h1v1h-1zM134 302h1v1h-1zM133 289h1v1h-1zM133 292h1v1h-1zM129 300h1v1h-1zM131 289h1v1h-1zM129 304h1v1h-1zM128 298h1v1h-1zM132 300h1v1h-1zM131 290h1v1h-1zM129 289h1v1h-1zM130 301h1v1h-1zM134 294h1v1h-1zM134 296h1v1h-1zM136 303h1v1h-1zM130 294h1v1h-1zM131 301h1v1h-1zM133 298h1v1h-1zM135 291h1v1h-1zM132 301h1v1h-1zM135 299h1v1h-1zM131 293h1v1h-1zM128 293h1v1h-1zM131 287h1v1h-1zM136 291h1v1h-1zM132 298h1v1h-1zM130 285h1v1h-1zM135 297h1v1h-1zM131 300h1v1h-1zM135 290h1v1h-1zM131 286h1v1h-1zM131 302h1v1h-1zM128 299h1v1h-1zM126 293h1v1h-1zM135 303h1v1h-1zM133 298h1v1h-1zM138 282h1v1h-1zM125 304h1v1h-1zM132 296h1v1h-1zM132 291h1v1h-1zM132 294h1v1h-1zM134 298h1v1h-1zM135 297h1v1h-1zM128 302h1v1h-1zM133 292h1v1h-1zM139 289h1v1h-1zM127 292h1v1h-1zM133 299h1v1h-1zM132 298h1v1h-1zM129 291h1v1h-1zM132 288h1v1h-1zM132 293h1v1h-1zM134 289h1v1h-1zM130 292h1v1h-1zM130 289h1v1h-1zM131 288h1v1h-1zM134 298h1v1h-1zM132 294h1v1h-1zM128 290h1v1h-1zM131 290h1v1h-1zM127 295h1v1h-1zM131 292h1v1h-1zM129 294h1v1h-1zM129 292h1v1h-1zM132 298h1v1h-1zM134 291h1v1h-1zM136 289h1v1h-1zM131 301h1v1h-1zM140 295h1v1h-1zM130 293h1v1h-1zM127 294h1v1h-1zM130 291h1v1h-1zM136 291h1v1h-1zM138 299h1v1h-1zM134 292h1v1h-1zM130 284h1v1h-1zM133 293h1v1h-1zM133 291h1v1h-1zM133 287h1v1h-1zM124 297h1v1h-1zM136 293h1v1h-1zM131 287h1v1h-1zM128 298h1v1h-1zM129 294h1v1h-1zM131 305h1v1h-1zM135 288h1v1h-1zM130 289h1v1h-1zM126 291h1v1h-1zM136 295h1v1h-1zM134 294h1v1h-1zM130 295h1v1h-1zM131 304h1v1h-1zM138 296h1v1h-1zM134 285h1v1h-1zM131 307h1v1h-1zM129 299h1v1h-1zM136 293h1v1h-1zM131 292h1v1h-1zM134 295h1v1h-1zM137 300h1v1h-1zM132 308h1v1h-1zM130 291h1v1h-1zM131 290h1v1h-1zM130 294h1v1h-1zM135 287h1v1h-1zM126 291h1v1h-1zM130 297h1v1h-1zM129 302h1v1h-1zM130 293h1v1h-1zM132 300h1v1h-1zM133 295h1v1h-1zM130 295h1v1h-1zM133 293h1v1h-1zM131 285h1v1h-1zM130 300h1v1h-1zM137 294h1v1h-1zM124 304h1v1h-1zM131 307h1v1h-1zM130 300h1v1h-1zM129 301h1v1h-1zM136 289h1v1h-1zM136 309h1v1h-1zM131 288h1v1h-1zM133 292h1v1h-1zM126 289h1v1h-1zM132 287h1v1h-1zM136 297h1v1h-1zM131 302h1v1h-1zM128 298h1v1h-1zM127 293h1v1h-1zM134 292h1v1h-1zM131 298h1v1h-1zM137 301h1v1h-1zM133 293h1v1h-1zM126 303h1v1h-1zM138 284h1v1h-1zM135 294h1v1h-1zM134 296h1v1h-1zM131 294h1v1h-1zM131 300h1v1h-1zM131 292h1v1h-1zM134 298h1v1h-1zM133 296h1v1h-1zM137 300h1v1h-1zM132 293h1v1h-1zM134 285h1v1h-1zM130 291h1v1h-1zM132 293h1v1h-1zM133 306h1v1h-1zM132 293h1v1h-1zM136 299h1v1h-1zM135 301h1v1h-1zM130 291h1v1h-1zM129 295h1v1h-1zM135 289h1v1h-1zM130 288h1v1h-1zM139 299h1v1h-1zM132 288h1v1h-1zM128 291h1v1h-1zM132 288h1v1h-1zM131 301h1v1h-1zM132 295h1v1h-1zM124 293h1v1h-1zM131 291h1v1h-1zM126 294h1v1h-1zM128 292h1v1h-1zM126 294h1v1h-1zM135 290h1v1h-1zM133 287h1v1h-1zM134 297h1v1h-1zM130 299h1v1h-1zM128 295h1v1h-1zM138 294h1v1h-1zM127 300h1v1h-1zM133 293h1v1h-1zM125 285h1v1h-1zM126 302h1v1h-1zM133 290h1v1h-1zM136 302h1v1h-1zM128 297h1v1h-1zM126 296h1v1h-1zM138 287h1v1h-1zM132 291h1v1h-1zM131 295h1v1h-1zM133 299h1v1h-1zM133 300h1v1h-1zM135 300h1v1h-1zM129 297h1v1h-1zM130 290h1v1h-1zM139 296h1v1h-1zM132 284h1v1h-1zM131 298h1v1h-1zM131 292h1v1h-1zM137 293h1v1h-1zM130 294h1v1h-1zM131 300h1v1h-1zM134 294h1v1h-1zM130 293h1v1h-1zM138 293h1v1h-1zM134 287h1v1h-1zM133 298h1v1h-1zM136 296h1v1h-1zM134 296h1v1h-1zM135 305h1v1h-1zM132 290h1v1h-1zM134 294h1v1h-1zM134 298h1v1h-1zM132 292h1v1h-1zM133 288h1v1h-1zM133 290h1v1h-1zM133 295h1v1h-1zM131 288h1v1h-1zM132 291h1v1h-1zM131 298h1v1h-1zM135 288h1v1h-1zM135 301h1v1h-1zM136 296h1v1h-1zM131 303h1v1h-1zM130 287h1v1h-1zM132 296h1v1h-1zM128 288h1v1h-1zM139 295h1v1h-1zM134 292h1v1h-1zM126 294h1v1h-1zM136 291h1v1h-1zM125 294h1v1h-1zM131 295h1v1h-1zM125 293h1v1h-1zM128 303h1v1h-1zM131 303h1v1h-1zM130 277h1v1h-1zM120 300h1v1h-1zM135 303h1v1h-1zM130 280h1v1h-1zM128 299h1v1h-1zM138 292h1v1h-1zM128 289h1v1h-1zM136 303h1v1h-1zM121 306h1v1h-1zM126 283h1v1h-1zM122 289h1v1h-1zM143 318h1v1h-1zM124 290h1v1h-1zM131 299h1v1h-1zM128 282h1v1h-1zM128 290h1v1h-1zM121 297h1v1h-1zM123 280h1v1h-1zM139 304h1v1h-1zM138 297h1v1h-1zM128 295h1v1h-1zM123 302h1v1h-1zM132 293h1v1h-1zM121 295h1v1h-1zM139 308h1v1h-1zM135 292h1v1h-1zM131 300h1v1h-1zM132 305h1v1h-1zM127 275h1v1h-1zM118 287h1v1h-1zM123 301h1v1h-1zM136 296h1v1h-1zM133 296h1v1h-1zM131 291h1v1h-1zM128 306h1v1h-1zM129 295h1v1h-1zM137 304h1v1h-1zM129 298h1v1h-1zM125 297h1v1h-1zM132 295h1v1h-1zM131 299h1v1h-1zM117 288h1v1h-1zM131 291h1v1h-1zM125 293h1v1h-1zM139 293h1v1h-1zM127 291h1v1h-1zM124 300h1v1h-1zM125 304h1v1h-1zM135 301h1v1h-1zM136 295h1v1h-1zM121 295h1v1h-1zM134 282h1v1h-1zM124 305h1v1h-1zM133 307h1v1h-1zM134 296h1v1h-1zM133 303h1v1h-1zM130 294h1v1h-1zM132 293h1v1h-1zM143 289h1v1h-1zM123 284h1v1h-1zM136 292h1v1h-1zM131 294h1v1h-1zM132 283h1v1h-1zM131 290h1v1h-1zM136 301h1v1h-1zM124 287h1v1h-1zM134 306h1v1h-1zM135 294h1v1h-1zM136 275h1v1h-1zM128 287h1v1h-1zM125 300h1v1h-1zM132 298h1v1h-1zM130 301h1v1h-1zM135 290h1v1h-1zM136 287h1v1h-1zM140 284h1v1h-1zM129 286h1v1h-1zM131 307h1v1h-1zM127 311h1v1h-1zM138 299h1v1h-1zM127 303h1v1h-1zM115 289h1v1h-1zM136 295h1v1h-1zM144 290h1v1h-1zM124 294h1v1h-1zM134 311h1v1h-1zM121 297h1v1h-1zM137 290h1v1h-1zM128 285h1v1h-1zM135 303h1v1h-1zM134 298h1v1h-1zM136 294h1v1h-1zM134 303h1v1h-1zM137 300h1v1h-1zM131 302h1v1h-1zM122 280h1v1h-1zM139 297h1v1h-1zM125 290h1v1h-1zM130 296h1v1h-1zM127 304h1v1h-1zM121 320h1v1h-1zM125 310h1v1h-1zM134 281h1v1h-1zM124 296h1v1h-1zM132 292h1v1h-1zM131 297h1v1h-1zM124 296h1v1h-1zM143 290h1v1h-1zM125 301h1v1h-1zM138 305h1v1h-1zM127 295h1v1h-1zM132 294h1v1h-1zM133 305h1v1h-1zM134 295h1v1h-1zM129 311h1v1h-1zM124 313h1v1h-1zM135 296h1v1h-1zM127 312h1v1h-1zM137 304h1v1h-1zM142 280h1v1h-1zM131 293h1v1h-1zM127 296h1v1h-1zM133 300h1v1h-1zM130 284h1v1h-1zM134 301h1v1h-1zM142 304h1v1h-1zM131 285h1v1h-1zM145 290h1v1h-1zM132 302h1v1h-1zM133 307h1v1h-1zM125 289h1v1h-1zM132 285h1v1h-1zM127 308h1v1h-1zM132 295h1v1h-1zM127 296h1v1h-1zM130 286h1v1h-1zM135 284h1v1h-1zM138 292h1v1h-1zM118 282h1v1h-1zM132 288h1v1h-1zM140 308h1v1h-1zM142 303h1v1h-1zM138 290h1v1h-1zM138 292h1v1h-1zM130 283h1v1h-1zM131 299h1v1h-1zM130 286h1v1h-1zM135 304h1v1h-1zM130 302h1v1h-1zM136 287h1v1h-1zM130 279h1v1h-1zM125 299h1v1h-1zM126 299h1v1h-1zM133 277h1v1h-1zM128 309h1v1h-1zM131 297h1v1h-1zM127 281h1v1h-1zM108 291h1v1h-1zM118 271h1v1h-1zM120 265h1v1h-1zM130 285h1v1h-1zM114 277h1v1h-1zM113 280h1v1h-1zM113 275h1v1h-1zM129 278h1v1h-1zM117 267h1v1h-1zM108 282h1v1h-1zM123 276h1v1h-1zM129 276h1v1h-1zM114 275h1v1h-1zM119 275h1v1h-1zM138 279h1v1h-1zM122 274h1v1h-1zM115 270h1v1h-1zM106 273h1v1h-1zM108 266h1v1h-1zM113 265h1v1h-1zM130 282h1v1h-1zM112 286h1v1h-1zM125 262h1v1h-1zM120 270h1v1h-1zM107 274h1v1h-1zM128 278h1v1h-1zM109 272h1v1h-1zM114 282h1v1h-1zM119 270h1v1h-1zM113 265h1v1h-1zM113 280h1v1h-1zM105 277h1v1h-1zM119 280h1v1h-1zM111 280h1v1h-1zM131 288h1v1h-1zM107 275h1v1h-1zM118 276h1v1h-1zM112 280h1v1h-1zM137 283h1v1h-1zM112 272h1v1h-1zM125 276h1v1h-1zM114 282h1v1h-1zM123 281h1v1h-1zM118 282h1v1h-1zM116 270h1v1h-1zM120 268h1v1h-1zM129 279h1v1h-1zM107 276h1v1h-1zM126 274h1v1h-1zM123 272h1v1h-1zM119 275h1v1h-1zM123 270h1v1h-1zM111 277h1v1h-1zM116 278h1v1h-1zM116 269h1v1h-1zM125 277h1v1h-1zM125 274h1v1h-1zM117 282h1v1h-1zM107 285h1v1h-1zM123 275h1v1h-1zM120 279h1v1h-1zM114 277h1v1h-1zM112 266h1v1h-1zM121 276h1v1h-1zM124 278h1v1h-1zM125 280h1v1h-1zM112 282h1v1h-1zM140 272h1v1h-1zM110 279h1v1h-1zM126 281h1v1h-1zM131 268h1v1h-1zM122 278h1v1h-1zM129 271h1v1h-1zM120 274h1v1h-1zM118 275h1v1h-1zM118 266h1v1h-1zM119 276h1v1h-1zM117 257h1v1h-1zM114 272h1v1h-1zM113 284h1v1h-1zM127 275h1v1h-1zM124 293h1v1h-1zM112 278h1v1h-1zM115 283h1v1h-1zM128 275h1v1h-1zM124 271h1v1h-1zM108 280h1v1h-1zM132 274h1v1h-1zM116 266h1v1h-1zM136 269h1v1h-1zM112 274h1v1h-1zM129 276h1v1h-1zM119 276h1v1h-1zM126 275h1v1h-1zM121 275h1v1h-1zM111 283h1v1h-1zM114 268h1v1h-1zM116 276h1v1h-1zM126 268h1v1h-1zM110 276h1v1h-1zM122 270h1v1h-1zM111 276h1v1h-1zM118 267h1v1h-1zM113 283h1v1h-1zM112 281h1v1h-1zM108 283h1v1h-1zM132 272h1v1h-1zM114 279h1v1h-1zM110 278h1v1h-1zM129 277h1v1h-1zM122 275h1v1h-1zM127 271h1v1h-1zM132 275h1v1h-1zM117 267h1v1h-1zM116 277h1v1h-1zM129 267h1v1h-1zM119 272h1v1h-1zM110 276h1v1h-1zM114 280h1v1h-1zM99 279h1v1h-1zM105 265h1v1h-1zM123 274h1v1h-1zM120 270h1v1h-1zM112 272h1v1h-1zM119 271h1v1h-1zM116 271h1v1h-1zM121 269h1v1h-1zM104 262h1v1h-1zM119 276h1v1h-1zM127 272h1v1h-1zM111 268h1v1h-1zM125 272h1v1h-1zM127 275h1v1h-1zM117 266h1v1h-1zM114 280h1v1h-1zM115 279h1v1h-1zM107 281h1v1h-1zM140 281h1v1h-1zM122 269h1v1h-1zM116 272h1v1h-1zM121 265h1v1h-1zM113 280h1v1h-1zM121 279h1v1h-1zM126 269h1v1h-1zM109 278h1v1h-1zM120 276h1v1h-1zM113 281h1v1h-1zM123 282h1v1h-1zM117 279h1v1h-1zM119 270h1v1h-1zM119 267h1v1h-1zM118 276h1v1h-1zM125 270h1v1h-1zM110 272h1v1h-1zM104 272h1v1h-1zM139 276h1v1h-1zM114 272h1v1h-1zM133 269h1v1h-1zM119 275h1v1h-1zM114 272h1v1h-1zM107 271h1v1h-1zM129 283h1v1h-1zM117 279h1v1h-1zM123 276h1v1h-1zM118 282h1v1h-1zM124 274h1v1h-1zM118 280h1v1h-1zM115 272h1v1h-1zM117 273h1v1h-1zM129 277h1v1h-1zM119 273h1v1h-1zM130 278h1v1h-1zM135 280h1v1h-1zM118 273h1v1h-1zM117 276h1v1h-1zM125 278h1v1h-1zM131 267h1v1h-1zM120 268h1v1h-1zM112 272h1v1h-1zM115 270h1v1h-1zM108 282h1v1h-1zM117 281h1v1h-1zM111 263h1v1h-1zM115 280h1v1h-1zM115 278h1v1h-1zM111 283h1v1h-1zM123 281h1v1h-1zM117 282h1v1h-1zM120 273h1v1h-1zM115 276h1v1h-1zM113 269h1v1h-1zM120 279h1v1h-1zM117 280h1v1h-1zM131 269h1v1h-1zM121 270h1v1h-1zM115 276h1v1h-1zM102 279h1v1h-1zM126 278h1v1h-1zM124 285h1v1h-1zM117 281h1v1h-1zM130 278h1v1h-1zM106 275h1v1h-1zM117 267h1v1h-1zM119 280h1v1h-1zM118 275h1v1h-1zM131 272h1v1h-1zM112 276h1v1h-1zM128 279h1v1h-1zM120 273h1v1h-1zM129 280h1v1h-1zM106 277h1v1h-1zM101 283h1v1h-1zM124 272h1v1h-1zM110 274h1v1h-1zM106 278h1v1h-1zM116 266h1v1h-1zM119 282h1v1h-1zM110 274h1v1h-1zM133 276h1v1h-1zM115 276h1v1h-1zM125 270h1v1h-1zM119 267h1v1h-1zM108 267h1v1h-1zM126 277h1v1h-1zM125 282h1v1h-1zM120 277h1v1h-1zM123 278h1v1h-1zM111 274h1v1h-1zM118 276h1v1h-1zM114 275h1v1h-1zM122 276h1v1h-1zM124 280h1v1h-1zM124 281h1v1h-1zM126 283h1v1h-1zM124 272h1v1h-1zM137 281h1v1h-1zM129 279h1v1h-1zM120 269h1v1h-1zM123 274h1v1h-1zM116 264h1v1h-1zM131 269h1v1h-1zM111 278h1v1h-1zM124 271h1v1h-1zM119 277h1v1h-1zM121 278h1v1h-1zM125 274h1v1h-1zM107 287h1v1h-1zM117 270h1v1h-1zM125 279h1v1h-1zM115 288h1v1h-1zM102 282h1v1h-1zM119 277h1v1h-1zM122 274h1v1h-1zM122 269h1v1h-1zM116 285h1v1h-1zM100 282h1v1h-1zM103 271h1v1h-1zM126 273h1v1h-1zM115 268h1v1h-1zM119 275h1v1h-1zM115 267h1v1h-1zM121 278h1v1h-1zM128 278h1v1h-1zM131 282h1v1h-1zM98 284h1v1h-1zM119 270h1v1h-1zM123 281h1v1h-1zM108 269h1v1h-1zM125 273h1v1h-1zM130 277h1v1h-1zM115 268h1v1h-1zM124 266h1v1h-1zM110 269h1v1h-1zM132 285h1v1h-1zM118 273h1v1h-1zM125 282h1v1h-1zM113 287h1v1h-1zM118 282h1v1h-1zM102 275h1v1h-1zM114 286h1v1h-1zM118 269h1v1h-1zM134 272h1v1h-1zM119 269h1v1h-1zM125 277h1v1h-1zM117 273h1v1h-1zM115 272h1v1h-1zM109 282h1v1h-1zM126 268h1v1h-1zM111 278h1v1h-1zM137 274h1v1h-1zM117 274h1v1h-1zM121 275h1v1h-1zM128 281h1v1h-1zM124 284h1v1h-1zM118 273h1v1h-1zM142 265h1v1h-1zM108 263h1v1h-1zM122 270h1v1h-1zM127 264h1v1h-1zM118 273h1v1h-1zM111 281h1v1h-1zM116 278h1v1h-1zM116 276h1v1h-1zM116 276h1v1h-1zM119 272h1v1h-1zM123 275h1v1h-1zM112 270h1v1h-1zM123 283h1v1h-1zM110 273h1v1h-1zM123 281h1v1h-1zM125 269h1v1h-1zM120 280h1v1h-1zM121 274h1v1h-1zM111 276h1v1h-1zM119 276h1v1h-1zM131 282h1v1h-1zM114 277h1v1h-1zM117 276h1v1h-1zM132 280h1v1h-1zM120 272h1v1h-1zM118 277h1v1h-1zM116 281h1v1h-1zM120 269h1v1h-1zM135 260h1v1h-1zM117 275h1v1h-1zM127 281h1v1h-1zM130 284h1v1h-1zM122 276h1v1h-1zM127 275h1v1h-1zM110 273h1v1h-1zM124 279h1v1h-1zM111 282h1v1h-1zM122 268h1v1h-1zM123 281h1v1h-1zM124 274h1v1h-1zM113 281h1v1h-1zM121 275h1v1h-1zM116 270h1v1h-1zM105 274h1v1h-1zM128 280h1v1h-1zM114 284h1v1h-1zM118 270h1v1h-1zM127 283h1v1h-1zM117 269h1v1h-1zM119 263h1v1h-1zM120 284h1v1h-1zM122 272h1v1h-1zM125 273h1v1h-1zM129 274h1v1h-1zM135 274h1v1h-1zM121 271h1v1h-1zM110 277h1v1h-1zM122 270h1v1h-1zM124 273h1v1h-1zM115 275h1v1h-1zM122 279h1v1h-1zM129 278h1v1h-1zM114 272h1v1h-1zM122 269h1v1h-1zM118 273h1v1h-1zM106 305h1v1h-1zM105 310h1v1h-1zM103 310h1v1h-1zM106 303h1v1h-1zM102 301h1v1h-1zM105 310h1v1h-1zM100 309h1v1h-1zM105 298h1v1h-1zM107 307h1v1h-1zM106 299h1v1h-1zM102 310h1v1h-1zM109 307h1v1h-1zM104 302h1v1h-1zM101 311h1v1h-1zM105 312h1v1h-1zM103 311h1v1h-1zM103 308h1v1h-1zM109 301h1v1h-1zM107 305h1v1h-1zM103 306h1v1h-1zM107 301h1v1h-1zM104 302h1v1h-1zM103 304h1v1h-1zM107 302h1v1h-1zM108 303h1v1h-1zM103 311h1v1h-1zM109 301h1v1h-1zM107 298h1v1h-1zM104 303h1v1h-1zM107 298h1v1h-1zM104 301h1v1h-1zM105 298h1v1h-1zM102 321h1v1h-1zM106 296h1v1h-1zM107 297h1v1h-1zM100 315h1v1h-1zM108 300h1v1h-1zM102 308h1v1h-1zM110 308h1v1h-1zM107 298h1v1h-1zM100 307h1v1h-1zM108 306h1v1h-1zM105 313h1v1h-1zM103 311h1v1h-1zM107 301h1v1h-1zM105 306h1v1h-1zM106 299h1v1h-1zM104 306h1v1h-1zM105 305h1v1h-1zM106 304h1v1h-1zM104 311h1v1h-1zM103 303h1v1h-1zM103 298h1v1h-1zM106 305h1v1h-1zM105 308h1v1h-1zM105 309h1v1h-1zM110 307h1v1h-1zM104 314h1v1h-1zM107 295h1v1h-1zM108 306h1v1h-1zM107 298h1v1h-1zM103 301h1v1h-1zM106 299h1v1h-1zM103 310h1v1h-1zM103 306h1v1h-1zM103 295h1v1h-1zM105 304h1v1h-1zM101 311h1v1h-1zM107 310h1v1h-1zM104 298h1v1h-1zM105 306h1v1h-1zM105 302h1v1h-1zM102 301h1v1h-1zM105 302h1v1h-1zM109 303h1v1h-1zM106 302h1v1h-1zM105 299h1v1h-1zM104 296h1v1h-1zM100 313h1v1h-1zM102 307h1v1h-1zM105 302h1v1h-1zM107 302h1v1h-1zM106 303h1v1h-1zM107 310h1v1h-1zM105 311h1v1h-1zM106 314h1v1h-1zM105 296h1v1h-1zM106 306h1v1h-1zM104 304h1v1h-1zM104 298h1v1h-1zM109 301h1v1h-1zM102 296h1v1h-1zM103 305h1v1h-1zM109 308h1v1h-1zM103 298h1v1h-1zM102 305h1v1h-1zM107 302h1v1h-1zM109 316h1v1h-1zM105 293h1v1h-1zM108 304h1v1h-1zM107 311h1v1h-1zM102 305h1v1h-1zM105 301h1v1h-1zM107 304h1v1h-1zM104 316h1v1h-1zM105 314h1v1h-1zM105 311h1v1h-1zM103 306h1v1h-1zM108 293h1v1h-1zM106 303h1v1h-1zM108 306h1v1h-1zM105 298h1v1h-1zM104 301h1v1h-1zM104 306h1v1h-1zM102 311h1v1h-1zM104 308h1v1h-1zM100 302h1v1h-1zM104 303h1v1h-1zM103 307h1v1h-1zM106 299h1v1h-1zM100 309h1v1h-1zM104 311h1v1h-1zM107 304h1v1h-1zM101 303h1v1h-1zM103 312h1v1h-1zM101 310h1v1h-1zM101 302h1v1h-1zM101 301h1v1h-1zM104 307h1v1h-1zM103 309h1v1h-1zM109 306h1v1h-1zM102 304h1v1h-1zM105 303h1v1h-1zM108 312h1v1h-1zM110 308h1v1h-1zM107 300h1v1h-1zM103 310h1v1h-1zM105 299h1v1h-1zM104 287h1v1h-1zM105 298h1v1h-1zM105 298h1v1h-1zM103 302h1v1h-1zM102 302h1v1h-1zM108 310h1v1h-1zM107 303h1v1h-1zM105 301h1v1h-1zM105 300h1v1h-1zM101 299h1v1h-1zM110 307h1v1h-1zM103 304h1v1h-1zM104 312h1v1h-1zM105 301h1v1h-1zM107 307h1v1h-1zM103 301h1v1h-1zM105 296h1v1h-1zM103 311h1v1h-1zM107 311h1v1h-1zM104 302h1v1h-1zM104 302h1v1h-1zM108 304h1v1h-1zM108 301h1v1h-1zM106 314h1v1h-1zM103 301h1v1h-1zM103 296h1v1h-1zM104 301h1v1h-1zM111 302h1v1h-1zM100 310h1v1h-1zM107 305h1v1h-1zM106 309h1v1h-1zM104 305h1v1h-1zM105 314h1v1h-1zM109 306h1v1h-1zM102 310h1v1h-1zM105 312h1v1h-1zM105 306h1v1h-1zM107 301h1v1h-1zM103 318h1v1h-1zM103 310h1v1h-1zM107 310h1v1h-1zM108 297h1v1h-1zM107 293h1v1h-1zM105 307h1v1h-1zM108 311h1v1h-1zM103 303h1v1h-1zM105 301h1v1h-1zM103 301h1v1h-1zM108 313h1v1h-1zM107 315h1v1h-1zM105 299h1v1h-1zM103 306h1v1h-1zM108 312h1v1h-1zM103 310h1v1h-1zM104 308h1v1h-1zM107 313h1v1h-1zM104 306h1v1h-1zM106 303h1v1h-1zM105 308h1v1h-1zM101 301h1v1h-1zM111 308h1v1h-1zM104 295h1v1h-1zM77 304h1v1h-1zM77 281h1v1h-1zM77 307h1v1h-1zM78 307h1v1h-1zM77 295h1v1h-1zM78 300h1v1h-1zM77 301h1v1h-1zM79 309h1v1h-1zM79 294h1v1h-1zM78 290h1v1h-1zM77 300h1v1h-1zM78 282h1v1h-1zM77 300h1v1h-1zM77 293h1v1h-1zM79 301h1v1h-1zM78 313h1v1h-1zM77 297h1v1h-1zM78 318h1v1h-1zM78 300h1v1h-1zM77 301h1v1h-1zM77 303h1v1h-1zM78 294h1v1h-1zM77 289h1v1h-1zM77 316h1v1h-1zM77 305h1v1h-1zM78 310h1v1h-1zM77 291h1v1h-1zM78 306h1v1h-1zM77 307h1v1h-1zM77 298h1v1h-1zM79 303h1v1h-1zM78 296h1v1h-1zM77 307h1v1h-1zM78 293h1v1h-1zM78 298h1v1h-1zM78 297h1v1h-1zM77 281h1v1h-1zM78 295h1v1h-1zM78 281h1v1h-1zM78 306h1v1h-1zM77 288h1v1h-1zM78 294h1v1h-1zM77 300h1v1h-1zM77 315h1v1h-1zM77 315h1v1h-1zM78 289h1v1h-1zM77 299h1v1h-1zM79 309h1v1h-1zM80 293h1v1h-1zM77 317h1v1h-1zM79 290h1v1h-1zM77 293h1v1h-1zM78 302h1v1h-1zM77 304h1v1h-1zM77 296h1v1h-1zM78 314h1v1h-1zM77 299h1v1h-1zM79 299h1v1h-1zM79 300h1v1h-1zM78 300h1v1h-1zM78 313h1v1h-1zM79 296h1v1h-1zM80 290h1v1h-1zM78 303h1v1h-1zM78 298h1v1h-1zM78 299h1v1h-1zM78 296h1v1h-1zM78 292h1v1h-1zM79 297h1v1h-1zM77 308h1v1h-1zM77 287h1v1h-1zM77 291h1v1h-1zM77 291h1v1h-1zM77 302h1v1h-1zM77 297h1v1h-1zM77 305h1v1h-1zM77 304h1v1h-1zM79 297h1v1h-1zM77 303h1v1h-1zM77 302h1v1h-1zM77 301h1v1h-1zM79 307h1v1h-1zM77 295h1v1h-1zM77 297h1v1h-1zM77 291h1v1h-1zM77 301h1v1h-1zM78 298h1v1h-1zM77 317h1v1h-1zM78 301h1v1h-1zM78 277h1v1h-1zM77 302h1v1h-1zM77 299h1v1h-1zM77 310h1v1h-1zM78 296h1v1h-1zM77 315h1v1h-1zM78 300h1v1h-1zM78 309h1v1h-1zM78 302h1v1h-1zM77 298h1v1h-1zM77 307h1v1h-1zM177 279h1v1h-1zM198 282h1v1h-1zM196 273h1v1h-1zM169 294h1v1h-1zM199 285h1v1h-1zM192 288h1v1h-1zM178 286h1v1h-1zM170 278h1v1h-1zM183 289h1v1h-1zM183 279h1v1h-1zM190 285h1v1h-1zM189 284h1v1h-1zM179 290h1v1h-1zM195 279h1v1h-1zM170 290h1v1h-1zM185 285h1v1h-1zM172 290h1v1h-1zM183 286h1v1h-1zM185 282h1v1h-1zM185 286h1v1h-1zM189 287h1v1h-1zM169 282h1v1h-1zM179 291h1v1h-1zM175 291h1v1h-1zM192 289h1v1h-1zM204 285h1v1h-1zM185 291h1v1h-1zM186 290h1v1h-1zM180 292h1v1h-1zM185 276h1v1h-1zM192 284h1v1h-1zM173 284h1v1h-1zM179 291h1v1h-1zM185 285h1v1h-1zM181 281h1v1h-1zM175 283h1v1h-1zM179 279h1v1h-1zM177 290h1v1h-1zM186 285h1v1h-1zM185 284h1v1h-1zM170 289h1v1h-1zM204 288h1v1h-1zM188 297h1v1h-1zM169 288h1v1h-1zM178 284h1v1h-1zM165 285h1v1h-1zM186 277h1v1h-1zM179 283h1v1h-1zM171 288h1v1h-1zM198 287h1v1h-1zM192 289h1v1h-1zM181 288h1v1h-1zM195 283h1v1h-1zM180 278h1v1h-1zM163 281h1v1h-1zM190 287h1v1h-1zM184 292h1v1h-1zM164 292h1v1h-1zM182 289h1v1h-1zM195 281h1v1h-1zM173 287h1v1h-1zM181 282h1v1h-1zM180 281h1v1h-1zM183 283h1v1h-1zM199 280h1v1h-1zM187 285h1v1h-1zM197 280h1v1h-1zM177 294h1v1h-1zM175 283h1v1h-1zM178 280h1v1h-1zM194 293h1v1h-1zM180 281h1v1h-1zM168 288h1v1h-1zM176 288h1v1h-1zM157 283h1v1h-1zM188 287h1v1h-1zM153 287h1v1h-1zM183 285h1v1h-1zM178 283h1v1h-1zM183 288h1v1h-1zM150 285h1v1h-1zM191 284h1v1h-1zM194 280h1v1h-1zM201 290h1v1h-1zM177 299h1v1h-1zM196 293h1v1h-1zM170 285h1v1h-1zM186 290h1v1h-1zM182 279h1v1h-1zM194 284h1v1h-1zM186 283h1v1h-1zM180 278h1v1h-1zM188 282h1v1h-1zM164 287h1v1h-1zM181 290h1v1h-1zM190 279h1v1h-1zM180 285h1v1h-1zM182 280h1v1h-1zM182 290h1v1h-1zM194 292h1v1h-1zM189 273h1v1h-1zM179 282h1v1h-1zM152 293h1v1h-1zM191 285h1v1h-1zM185 287h1v1h-1zM179 292h1v1h-1zM200 289h1v1h-1zM176 286h1v1h-1zM191 289h1v1h-1zM175 290h1v1h-1zM189 288h1v1h-1zM177 285h1v1h-1zM162 285h1v1h-1zM177 284h1v1h-1zM179 283h1v1h-1zM182 286h1v1h-1zM175 284h1v1h-1zM181 287h1v1h-1zM186 283h1v1h-1zM173 277h1v1h-1zM169 287h1v1h-1zM172 293h1v1h-1zM180 283h1v1h-1zM180 282h1v1h-1zM175 285h1v1h-1zM167 286h1v1h-1zM181 281h1v1h-1zM192 287h1v1h-1zM192 282h1v1h-1zM169 279h1v1h-1zM166 276h1v1h-1zM197 283h1v1h-1zM183 282h1v1h-1zM180 293h1v1h-1zM164 280h1v1h-1zM183 281h1v1h-1zM188 291h1v1h-1zM190 289h1v1h-1zM180 290h1v1h-1zM173 279h1v1h-1zM179 284h1v1h-1zM194 280h1v1h-1zM193 281h1v1h-1zM169 277h1v1h-1zM181 278h1v1h-1zM184 285h1v1h-1zM177 276h1v1h-1zM176 287h1v1h-1zM164 288h1v1h-1zM182 282h1v1h-1zM184 288h1v1h-1zM181 281h1v1h-1zM189 282h1v1h-1zM185 290h1v1h-1zM195 293h1v1h-1zM192 286h1v1h-1zM179 286h1v1h-1zM187 300h1v1h-1zM188 281h1v1h-1zM197 277h1v1h-1zM192 279h1v1h-1zM171 283h1v1h-1zM179 278h1v1h-1zM188 284h1v1h-1zM195 280h1v1h-1zM163 288h1v1h-1zM179 290h1v1h-1zM158 279h1v1h-1zM182 295h1v1h-1zM169 276h1v1h-1zM177 292h1v1h-1zM197 278h1v1h-1zM175 276h1v1h-1zM173 280h1v1h-1zM186 291h1v1h-1zM205 283h1v1h-1zM190 286h1v1h-1zM183 295h1v1h-1zM189 293h1v1h-1zM185 289h1v1h-1zM187 285h1v1h-1zM175 283h1v1h-1zM182 283h1v1h-1zM178 282h1v1h-1zM190 284h1v1h-1zM180 284h1v1h-1zM195 282h1v1h-1zM196 281h1v1h-1zM197 288h1v1h-1zM177 287h1v1h-1zM193 280h1v1h-1zM179 287h1v1h-1zM179 284h1v1h-1zM182 287h1v1h-1zM189 292h1v1h-1zM178 300h1v1h-1zM178 294h1v1h-1zM180 278h1v1h-1zM177 283h1v1h-1zM192 275h1v1h-1z" fill="#ee1010" fill-opacity="0.9"/>
<path d="M104 114h1v1h-1zM97 120h1v1h-1zM104 130h1v1h-1zM101 120h1v1h-1zM105 122h1v1h-1zM107 144h1v1h-1zM101 97h1v1h-1zM106 139h1v1h-1zM106 130h1v1h-1zM102 112h1v1h-1zM106 110h1v1h-1zM98 109h1v1h-1zM111 144h1v1h-1zM101 112h1v1h-1zM104 112h1v1h-1zM107 120h1v1h-1zM100 136h1v1h-1zM102 123h1v1h-1zM103 117h1v1h-1zM104 112h1v1h-1zM98 94h1v1h-1zM100 111h1v1h-1zM103 121h1v1h-1zM105 122h1v1h-1zM101 112h1v1h-1zM136 122h1v1h-1zM132 113h1v1h-1zM140 115h1v1h-1zM131 111h1v1h-1zM134 116h1v1h-1zM133 123h1v1h-1zM131 117h1v1h-1zM137 108h1v1h-1zM136 124h1v1h-1zM128 108h1v1h-1zM129 104h1v1h-1zM134 104h1v1h-1zM134 122h1v1h-1zM127 112h1v1h-1zM126 118h1v1h-1zM130 113h1v1h-1zM132 117h1v1h-1zM131 114h1v1h-1zM131 115h1v1h-1zM129 114h1v1h-1zM126 111h1v1h-1zM138 114h1v1h-1zM128 115h1v1h-1zM129 105h1v1h-1zM130 118h1v1h-1zM134 113h1v1h-1zM129 108h1v1h-1zM137 115h1v1h-1zM129 102h1v1h-1zM128 128h1v1h-1zM129 114h1v1h-1zM133 113h1v1h-1zM131 106h1v1h-1zM129 123h1v1h-1zM130 119h1v1h-1zM127 112h1v1h-1zM133 120h1v1h-1zM129 117h1v1h-1zM134 110h1v1h-1zM134 109h1v1h-1zM130 114h1v1h-1zM124 113h1v1h-1zM129 106h1v1h-1zM131 118h1v1h-1zM131 121h1v1h-1zM129 107h1v1h-1zM137 116h1v1h-1zM135 109h1v1h-1zM135 115h1v1h-1zM134 114h1v1h-1zM136 110h1v1h-1zM129 106h1v1h-1zM136 110h1v1h-1zM129 109h1v1h-1zM131 107h1v1h-1zM131 111h1v1h-1zM131 109h1v1h-1zM132 111h1v1h-1zM133 115h1v1h-1zM133 102h1v1h-1zM131 110h1v1h-1zM135 105h1v1h-1zM130 112h1v1h-1zM131 119h1v1h-1zM131 119h1v1h-1zM128 104h1v1h-1zM136 116h1v1h-1zM134 115h1v1h-1zM134 107h1v1h-1zM135 111h1v1h-1zM135 114h1v1h-1zM126 107h1v1h-1zM136 113h1v1h-1zM131 115h1v1h-1zM131 111h1v1h-1zM133 115h1v1h-1zM137 114h1v1h-1zM138 124h1v1h-1zM138 120h1v1h-1zM133 115h1v1h-1zM132 110h1v1h-1zM132 110h1v1h-1zM138 117h1v1h-1zM131 103h1v1h-1zM132 112h1v1h-1zM129 108h1v1h-1zM125 117h1v1h-1zM132 128h1v1h-1zM132 113h1v1h-1zM137 115h1v1h-1zM133 112h1v1h-1zM130 122h1v1h-1zM136 123h1v1h-1zM131 114h1v1h-1zM129 119h1v1h-1zM128 117h1v1h-1zM136 122h1v1h-1zM129 120h1v1h-1zM130 110h1v1h-1zM128 120h1v1h-1zM138 111h1v1h-1zM130 112h1v1h-1zM140 120h1v1h-1zM131 104h1v1h-1zM130 121h1v1h-1zM138 113h1v1h-1zM130 111h1v1h-1zM126 119h1v1h-1zM129 120h1v1h-1zM127 107h1v1h-1zM133 106h1v1h-1zM136 113h1v1h-1zM127 118h1v1h-1zM136 95h1v1h-1zM140 117h1v1h-1zM135 96h1v1h-1zM129 109h1v1h-1zM137 99h1v1h-1zM128 94h1v1h-1zM131 116h1v1h-1zM124 107h1v1h-1zM134 127h1v1h-1zM135 110h1v1h-1zM127 104h1v1h-1zM129 114h1v1h-1zM132 128h1v1h-1zM133 103h1v1h-1zM139 121h1v1h-1zM132 106h1v1h-1zM124 103h1v1h-1zM136 105h1v1h-1zM126 114h1v1h-1zM133 118h1v1h-1zM135 125h1v1h-1zM128 121h1v1h-1zM128 119h1v1h-1zM133 115h1v1h-1zM136 112h1v1h-1zM137 120h1v1h-1zM133 107h1v1h-1zM129 108h1v1h-1zM131 112h1v1h-1zM145 118h1v1h-1zM135 105h1v1h-1zM129 110h1v1h-1zM133 103h1v1h-1zM139 107h1v1h-1zM137 91h1v1h-1zM132 115h1v1h-1zM133 118h1v1h-1zM117 78h1v1h-1zM112 67h1v1h-1zM105 75h1v1h-1zM107 56h1v1h-1zM129 68h1v1h-1zM110 82h1v1h-1zM110 83h1v1h-1zM113 80h1v1h-1zM119 77h1v1h-1zM100 66h1v1h-1zM117 88h1v1h-1zM112 82h1v1h-1zM119 81h1v1h-1zM127 66h1v1h-1zM120 76h1v1h-1zM114 71h1v1h-1zM110 69h1v1h-1zM134 78h1v1h-1zM125 70h1v1h-1zM119 89h1v1h-1zM117 70h1v1h-1zM115 70h1v1h-1zM104 76h1v1h-1zM114 71h1v1h-1zM109 70h1v1h-1zM120 88h1v1h-1zM115 95h1v1h-1zM102 80h1v1h-1zM106 76h1v1h-1zM118 82h1v1h-1zM129 73h1v1h-1zM105 76h1v1h-1zM120 72h1v1h-1zM126 91h1v1h-1zM104 80h1v1h-1zM127 63h1v1h-1zM120 76h1v1h-1zM104 88h1v1h-1zM120 74h1v1h-1zM122 83h1v1h-1zM125 82h1v1h-1zM121 68h1v1h-1zM113 79h1v1h-1zM114 69h1v1h-1zM100 79h1v1h-1zM118 73h1v1h-1zM113 71h1v1h-1zM110 77h1v1h-1zM111 83h1v1h-1zM116 79h1v1h-1zM103 93h1v1h-1zM104 90h1v1h-1zM102 87h1v1h-1zM102 91h1v1h-1zM103 88h1v1h-1zM100 85h1v1h-1zM103 93h1v1h-1zM103 85h1v1h-1zM102 90h1v1h-1zM101 91h1v1h-1zM102 87h1v1h-1zM100 92h1v1h-1zM103 87h1v1h-1zM101 92h1v1h-1zM104 89h1v1h-1zM106 89h1v1h-1zM100 93h1v1h-1zM102 91h1v1h-1zM103 87h1v1h-1zM100 89h1v1h-1zM105 87h1v1h-1zM105 90h1v1h-1zM100 90h1v1h-1zM104 87h1v1h-1zM98 91h1v1h-1zM100 91h1v1h-1zM99 89h1v1h-1zM101 85h1v1h-1zM102 90h1v1h-1zM101 86h1v1h-1zM130 62h1v1h-1zM102 53h1v1h-1zM101 63h1v1h-1zM102 51h1v1h-1zM129 59h1v1h-1zM100 60h1v1h-1zM160 71h1v1h-1zM138 67h1v1h-1zM166 68h1v1h-1zM169 72h1v1h-1zM143 67h1v1h-1zM156 66h1v1h-1zM153 67h1v1h-1zM181 63h1v1h-1zM156 74h1v1h-1zM141 69h1v1h-1zM144 70h1v1h-1zM160 68h1v1h-1zM147 71h1v1h-1zM148 78h1v1h-1zM164 67h1v1h-1zM174 67h1v1h-1zM165 65h1v1h-1zM176 70h1v1h-1zM138 73h1v1h-1zM156 67h1v1h-1zM167 74h1v1h-1zM175 66h1v1h-1zM141 61h1v1h-1zM138 65h1v1h-1zM172 74h1v1h-1zM162 68h1v1h-1zM178 69h1v1h-1zM146 77h1v1h-1zM173 71h1v1h-1zM149 72h1v1h-1zM171 66h1v1h-1zM170 68h1v1h-1zM181 63h1v1h-1zM171 74h1v1h-1zM178 65h1v1h-1zM171 70h1v1h-1zM179 60h1v1h-1zM152 60h1v1h-1zM180 58h1v1h-1zM172 64h1v1h-1zM179 58h1v1h-1zM160 67h1v1h-1zM191 75h1v1h-1zM175 76h1v1h-1zM153 74h1v1h-1zM142 69h1v1h-1zM170 63h1v1h-1zM177 60h1v1h-1zM184 62h1v1h-1zM140 62h1v1h-1zM149 63h1v1h-1zM181 67h1v1h-1zM149 75h1v1h-1zM155 65h1v1h-1zM157 73h1v1h-1zM175 64h1v1h-1zM144 76h1v1h-1zM156 61h1v1h-1zM146 68h1v1h-1zM178 70h1v1h-1zM181 69h1v1h-1zM172 61h1v1h-1zM147 68h1v1h-1zM166 68h1v1h-1zM180 72h1v1h-1zM147 79h1v1h-1zM162 65h1v1h-1zM161 72h1v1h-1zM174 67h1v1h-1zM187 62h1v1h-1zM141 66h1v1h-1zM178 72h1v1h-1zM165 71h1v1h-1zM175 64h1v1h-1zM159 68h1v1h-1zM175 62h1v1h-1zM161 58h1v1h-1zM173 66h1v1h-1zM163 77h1v1h-1zM184 72h1v1h-1zM171 69h1v1h-1zM171 64h1v1h-1zM173 73h1v1h-1zM166 67h1v1h-1zM174 63h1v1h-1zM181 60h1v1h-1zM157 74h1v1h-1zM178 63h1v1h-1zM138 68h1v1h-1zM148 66h1v1h-1zM159 70h1v1h-1zM169 66h1v1h-1zM146 79h1v1h-1zM148 73h1v1h-1zM146 74h1v1h-1zM162 67h1v1h-1zM154 66h1v1h-1zM172 61h1v1h-1zM159 75h1v1h-1zM155 66h1v1h-1zM173 72h1v1h-1zM177 66h1v1h-1zM168 75h1v1h-1zM146 64h1v1h-1zM160 67h1v1h-1zM157 71h1v1h-1zM172 63h1v1h-1zM179 70h1v1h-1zM176 66h1v1h-1zM172 63h1v1h-1zM182 62h1v1h-1zM160 64h1v1h-1zM153 65h1v1h-1zM159 59h1v1h-1zM146 71h1v1h-1zM150 68h1v1h-1zM166 65h1v1h-1zM165 77h1v1h-1zM177 65h1v1h-1zM171 62h1v1h-1zM186 62h1v1h-1zM171 59h1v1h-1zM145 62h1v1h-1zM168 69h1v1h-1zM169 64h1v1h-1zM151 71h1v1h-1zM179 66h1v1h-1zM156 67h1v1h-1zM177 67h1v1h-1zM171 70h1v1h-1zM139 71h1v1h-1zM185 69h1v1h-1zM147 76h1v1h-1zM153 74h1v1h-1zM152 66h1v1h-1zM180 62h1v1h-1zM143 68h1v1h-1zM162 69h1v1h-1zM168 62h1v1h-1zM153 68h1v1h-1zM161 58h1v1h-1zM180 66h1v1h-1zM189 69h1v1h-1zM141 71h1v1h-1zM168 69h1v1h-1zM147 71h1v1h-1zM149 63h1v1h-1zM163 75h1v1h-1zM149 75h1v1h-1zM179 66h1v1h-1zM189 63h1v1h-1zM175 69h1v1h-1zM147 64h1v1h-1zM168 72h1v1h-1zM139 58h1v1h-1zM157 69h1v1h-1zM163 63h1v1h-1zM163 69h1v1h-1zM149 64h1v1h-1zM191 62h1v1h-1zM163 66h1v1h-1zM141 67h1v1h-1zM150 70h1v1h-1zM178 56h1v1h-1zM177 69h1v1h-1zM161 60h1v1h-1zM150 69h1v1h-1zM166 68h1v1h-1zM178 62h1v1h-1zM148 66h1v1h-1zM142 75h1v1h-1zM173 67h1v1h-1zM151 79h1v1h-1zM163 72h1v1h-1zM148 74h1v1h-1zM162 62h1v1h-1zM167 71h1v1h-1zM139 70h1v1h-1zM170 64h1v1h-1zM168 63h1v1h-1zM153 66h1v1h-1zM145 83h1v1h-1zM145 74h1v1h-1zM172 61h1v1h-1zM154 76h1v1h-1zM177 67h1v1h-1zM155 67h1v1h-1zM176 65h1v1h-1zM181 69h1v1h-1zM142 67h1v1h-1zM183 64h1v1h-1zM179 72h1v1h-1zM148 60h1v1h-1zM190 67h1v1h-1zM168 63h1v1h-1zM161 63h1v1h-1zM150 71h1v1h-1zM154 69h1v1h-1zM182 69h1v1h-1zM174 68h1v1h-1zM205 66h1v1h-1zM195 66h1v1h-1zM216 68h1v1h-1zM204 55h1v1h-1zM191 59h1v1h-1zM209 60h1v1h-1zM201 61h1v1h-1zM182 62h1v1h-1zM201 65h1v1h-1zM218 60h1v1h-1zM192 73h1v1h-1zM219 70h1v1h-1zM182 64h1v1h-1zM211 64h1v1h-1zM209 58h1v1h-1zM200 72h1v1h-1zM218 72h1v1h-1zM220 64h1v1h-1zM216 62h1v1h-1zM193 71h1v1h-1zM187 64h1v1h-1zM218 72h1v1h-1zM217 60h1v1h-1zM196 63h1v1h-1zM218 60h1v1h-1zM222 64h1v1h-1zM212 59h1v1h-1zM213 62h1v1h-1zM211 69h1v1h-1zM211 66h1v1h-1zM194 70h1v1h-1zM203 65h1v1h-1zM181 72h1v1h-1zM215 67h1v1h-1zM208 70h1v1h-1zM222 68h1v1h-1zM213 57h1v1h-1zM212 72h1v1h-1zM204 66h1v1h-1zM215 61h1v1h-1zM193 53h1v1h-1zM198 62h1v1h-1zM195 69h1v1h-1zM208 66h1v1h-1zM196 67h1v1h-1zM194 65h1v1h-1zM193 69h1v1h-1zM209 63h1v1h-1zM190 64h1v1h-1zM197 69h1v1h-1zM220 65h1v1h-1zM198 70h1v1h-1zM205 72h1v1h-1zM216 65h1v1h-1zM210 68h1v1h-1zM218 65h1v1h-1zM190 63h1v1h-1zM216 63h1v1h-1zM204 59h1v1h-1zM206 61h1v1h-1zM218 61h1v1h-1zM199 72h1v1h-1zM220 64h1v1h-1zM200 65h1v1h-1zM217 67h1v1h-1zM219 59h1v1h-1zM193 69h1v1h-1zM216 67h1v1h-1zM194 72h1v1h-1zM205 68h1v1h-1zM221 69h1v1h-1zM186 68h1v1h-1zM219 66h1v1h-1zM186 73h1v1h-1zM222 58h1v1h-1zM208 63h1v1h-1zM219 64h1v1h-1zM217 60h1v1h-1zM193 61h1v1h-1zM210 64h1v1h-1zM187 67h1v1h-1zM211 62h1v1h-1zM193 71h1v1h-1zM215 63h1v1h-1zM220 64h1v1h-1zM196 77h1v1h-1zM224 60h1v1h-1zM194 69h1v1h-1zM219 65h1v1h-1zM216 65h1v1h-1zM178 94h1v1h-1zM149 73h1v1h-1zM159 55h1v1h-1zM149 58h1v1h-1zM172 72h1v1h-1zM184 66h1v1h-1zM200 75h1v1h-1zM223 61h1v1h-1zM184 74h1v1h-1zM172 89h1v1h-1zM159 90h1v1h-1zM171 68h1v1h-1zM193 77h1v1h-1zM165 58h1v1h-1zM221 69h1v1h-1zM151 81h1v1h-1zM186 68h1v1h-1zM169 88h1v1h-1zM170 71h1v1h-1zM221 69h1v1h-1zM175 61h1v1h-1zM196 81h1v1h-1zM179 71h1v1h-1zM161 86h1v1h-1zM179 88h1v1h-1zM173 84h1v1h-1zM144 63h1v1h-1zM221 82h1v1h-1zM198 74h1v1h-1zM181 62h1v1h-1zM147 106h1v1h-1zM154 109h1v1h-1zM177 113h1v1h-1zM157 110h1v1h-1zM166 109h1v1h-1zM156 106h1v1h-1zM176 105h1v1h-1zM147 113h1v1h-1zM172 106h1v1h-1zM172 109h1v1h-1zM181 113h1v1h-1zM152 107h1v1h-1zM180 116h1v1h-1zM153 107h1v1h-1zM145 108h1v1h-1zM185 105h1v1h-1zM190 116h1v1h-1zM163 111h1v1h-1zM150 113h1v1h-1zM150 113h1v1h-1zM163 107h1v1h-1zM192 109h1v1h-1zM183 117h1v1h-1zM185 106h1v1h-1zM151 108h1v1h-1zM176 108h1v1h-1zM173 111h1v1h-1zM169 119h1v1h-1zM156 104h1v1h-1zM154 107h1v1h-1zM155 119h1v1h-1zM157 110h1v1h-1zM143 105h1v1h-1zM187 111h1v1h-1zM160 105h1v1h-1zM161 110h1v1h-1zM187 109h1v1h-1zM186 115h1v1h-1zM161 109h1v1h-1zM154 107h1v1h-1zM160 109h1v1h-1zM172 110h1v1h-1zM157 107h1v1h-1zM173 108h1v1h-1zM182 116h1v1h-1zM181 103h1v1h-1zM161 102h1v1h-1zM155 113h1v1h-1zM171 112h1v1h-1zM187 110h1v1h-1zM149 109h1v1h-1zM163 109h1v1h-1zM169 109h1v1h-1zM192 110h1v1h-1zM179 107h1v1h-1zM154 107h1v1h-1zM181 114h1v1h-1zM174 113h1v1h-1zM142 106h1v1h-1zM144 109h1v1h-1zM151 104h1v1h-1zM144 112h1v1h-1zM159 113h1v1h-1zM154 114h1v1h-1zM163 105h1v1h-1zM148 111h1v1h-1zM164 114h1v1h-1zM186 109h1v1h-1zM144 107h1v1h-1zM189 111h1v1h-1zM150 109h1v1h-1zM160 113h1v1h-1zM184 109h1v1h-1zM166 108h1v1h-1zM173 108h1v1h-1zM173 114h1v1h-1zM191 111h1v1h-1zM190 109h1v1h-1zM171 105h1v1h-1zM169 112h1v1h-1zM180 107h1v1h-1zM173 105h1v1h-1zM140 112h1v1h-1zM173 111h1v1h-1zM176 116h1v1h-1zM152 109h1v1h-1zM148 109h1v1h-1zM198 110h1v1h-1zM163 114h1v1h-1zM167 111h1v1h-1zM167 119h1v1h-1zM160 111h1v1h-1zM192 113h1v1h-1zM182 113h1v1h-1zM157 111h1v1h-1zM182 111h1v1h-1zM186 113h1v1h-1zM186 105h1v1h-1zM187 112h1v1h-1zM181 113h1v1h-1zM187 107h1v1h-1zM184 107h1v1h-1zM188 109h1v1h-1zM187 107h1v1h-1zM183 105h1v1h-1zM190 112h1v1h-1zM187 111h1v1h-1zM185 108h1v1h-1zM185 110h1v1h-1zM185 109h1v1h-1zM186 111h1v1h-1zM186 109h1v1h-1zM186 113h1v1h-1zM188 114h1v1h-1zM184 110h1v1h-1zM186 116h1v1h-1zM189 110h1v1h-1zM189 114h1v1h-1zM183 111h1v1h-1zM186 107h1v1h-1zM214 101h1v1h-1zM207 108h1v1h-1zM167 104h1v1h-1zM208 121h1v1h-1zM212 115h1v1h-1zM156 97h1v1h-1zM189 99h1v1h-1zM169 95h1v1h-1zM154 117h1v1h-1zM160 121h1v1h-1zM169 121h1v1h-1zM167 101h1v1h-1zM174 92h1v1h-1zM178 105h1v1h-1zM143 122h1v1h-1zM173 92h1v1h-1zM221 99h1v1h-1zM162 92h1v1h-1zM150 116h1v1h-1zM190 109h1v1h-1zM86 67h1v1h-1zM95 91h1v1h-1zM85 84h1v1h-1zM89 61h1v1h-1zM96 61h1v1h-1zM78 71h1v1h-1zM77 72h1v1h-1zM85 90h1v1h-1zM85 149h1v1h-1zM92 131h1v1h-1zM81 112h1v1h-1zM86 118h1v1h-1zM89 126h1v1h-1zM83 133h1v1h-1zM96 105h1v1h-1zM83 92h1v1h-1zM78 95h1v1h-1zM85 148h1v1h-1zM90 157h1v1h-1zM93 131h1v1h-1zM88 92h1v1h-1zM84 109h1v1h-1zM89 96h1v1h-1zM87 117h1v1h-1zM86 119h1v1h-1zM79 141h1v1h-1zM93 132h1v1h-1zM79 132h1v1h-1zM94 159h1v1h-1zM92 95h1v1h-1zM94 137h1v1h-1zM82 154h1v1h-1zM93 152h1v1h-1zM81 131h1v1h-1zM84 112h1v1h-1zM92 133h1v1h-1zM83 128h1v1h-1zM95 130h1v1h-1zM95 130h1v1h-1zM96 93h1v1h-1zM86 129h1v1h-1zM91 157h1v1h-1zM89 124h1v1h-1zM89 128h1v1h-1zM91 156h1v1h-1zM77 113h1v1h-1zM94 96h1v1h-1zM92 94h1v1h-1zM89 146h1v1h-1zM81 117h1v1h-1zM81 139h1v1h-1zM87 133h1v1h-1zM83 131h1v1h-1zM102 137h1v1h-1zM127 146h1v1h-1zM102 153h1v1h-1zM119 132h1v1h-1zM133 154h1v1h-1zM106 158h1v1h-1zM132 135h1v1h-1zM97 155h1v1h-1zM133 131h1v1h-1zM130 152h1v1h-1zM124 154h1v1h-1zM140 138h1v1h-1zM133 157h1v1h-1zM110 149h1v1h-1zM127 155h1v1h-1zM118 107h1v1h-1zM115 117h1v1h-1zM113 128h1v1h-1zM122 106h1v1h-1zM120 122h1v1h-1zM113 126h1v1h-1zM121 109h1v1h-1zM113 108h1v1h-1zM121 114h1v1h-1zM121 103h1v1h-1zM113 110h1v1h-1zM122 103h1v1h-1zM118 273h1v1h-1zM132 285h1v1h-1zM130 280h1v1h-1zM107 280h1v1h-1zM135 261h1v1h-1zM150 267h1v1h-1zM91 286h1v1h-1zM120 265h1v1h-1zM113 280h1v1h-1zM123 268h1v1h-1zM133 264h1v1h-1zM109 267h1v1h-1zM110 277h1v1h-1zM117 263h1v1h-1zM114 256h1v1h-1zM121 272h1v1h-1zM127 270h1v1h-1zM124 264h1v1h-1zM120 273h1v1h-1zM105 276h1v1h-1zM121 272h1v1h-1zM114 288h1v1h-1zM120 265h1v1h-1zM109 276h1v1h-1zM117 265h1v1h-1zM111 279h1v1h-1zM121 280h1v1h-1zM119 262h1v1h-1zM130 274h1v1h-1zM112 269h1v1h-1zM108 278h1v1h-1zM114 275h1v1h-1zM123 269h1v1h-1zM124 270h1v1h-1zM105 268h1v1h-1zM105 278h1v1h-1zM127 267h1v1h-1zM127 273h1v1h-1zM131 264h1v1h-1zM120 264h1v1h-1zM111 282h1v1h-1zM95 264h1v1h-1zM125 278h1v1h-1zM110 255h1v1h-1zM99 274h1v1h-1zM133 279h1v1h-1zM111 282h1v1h-1zM117 276h1v1h-1zM117 284h1v1h-1zM113 254h1v1h-1zM115 242h1v1h-1zM132 251h1v1h-1zM128 262h1v1h-1zM117 241h1v1h-1zM108 273h1v1h-1zM117 279h1v1h-1zM132 264h1v1h-1zM139 240h1v1h-1zM115 264h1v1h-1zM101 279h1v1h-1zM105 266h1v1h-1zM110 257h1v1h-1zM118 253h1v1h-1zM106 270h1v1h-1zM124 243h1v1h-1zM104 308h1v1h-1zM100 299h1v1h-1zM110 300h1v1h-1zM110 327h1v1h-1zM110 293h1v1h-1zM104 327h1v1h-1zM103 298h1v1h-1zM99 313h1v1h-1zM106 297h1v1h-1zM102 318h1v1h-1zM101 325h1v1h-1zM110 307h1v1h-1zM100 314h1v1h-1zM102 292h1v1h-1zM108 314h1v1h-1zM77 285h1v1h-1zM77 313h1v1h-1zM77 285h1v1h-1zM78 312h1v1h-1zM83 294h1v1h-1zM80 310h1v1h-1zM78 312h1v1h-1zM77 295h1v1h-1zM79 307h1v1h-1zM81 301h1v1h-1zM77 286h1v1h-1zM79 299h1v1h-1zM78 284h1v1h-1zM78 304h1v1h-1zM78 301h1v1h-1zM78 318h1v1h-1zM79 284h1v1h-1zM80 289h1v1h-1zM80 299h1v1h-1zM82 285h1v1h-1zM80 303h1v1h-1zM84 302h1v1h-1zM77 296h1v1h-1zM82 301h1v1h-1zM82 289h1v1h-1zM82 277h1v1h-1zM78 294h1v1h-1zM77 313h1v1h-1zM77 302h1v1h-1zM83 308h1v1h-1zM77 288h1v1h-1zM81 312h1v1h-1zM79 326h1v1h-1zM80 267h1v1h-1zM77 308h1v1h-1zM85 288h1v1h-1zM84 296h1v1h-1zM81 290h1v1h-1zM82 286h1v1h-1zM78 309h1v1h-1zM78 290h1v1h-1zM78 306h1v1h-1zM83 315h1v1h-1zM83 297h1v1h-1zM77 285h1v1h-1zM77 297h1v1h-1zM79 309h1v1h-1zM79 307h1v1h-1zM82 281h1v1h-1zM82 288h1v1h-1zM79 312h1v1h-1zM81 277h1v1h-1zM79 312h1v1h-1zM78 296h1v1h-1zM79 319h1v1h-1zM77 285h1v1h-1zM78 302h1v1h-1zM78 275h1v1h-1zM80 280h1v1h-1zM81 266h1v1h-1zM77 326h1v1h-1zM86 314h1v1h-1zM91 268h1v1h-1zM88 268h1v1h-1zM91 285h1v1h-1zM84 280h1v1h-1zM93 305h1v1h-1zM82 312h1v1h-1zM80 316h1v1h-1zM89 314h1v1h-1zM89 329h1v1h-1zM90 293h1v1h-1zM88 300h1v1h-1zM82 282h1v1h-1zM92 317h1v1h-1zM96 308h1v1h-1zM87 288h1v1h-1zM91 306h1v1h-1zM95 312h1v1h-1zM84 280h1v1h-1zM77 315h1v1h-1zM85 288h1v1h-1zM78 295h1v1h-1zM94 280h1v1h-1zM91 313h1v1h-1zM90 302h1v1h-1zM81 307h1v1h-1zM88 327h1v1h-1zM87 286h1v1h-1zM95 304h1v1h-1zM83 306h1v1h-1zM80 274h1v1h-1zM94 293h1v1h-1zM93 276h1v1h-1zM86 278h1v1h-1zM93 302h1v1h-1zM84 288h1v1h-1zM81 276h1v1h-1zM90 283h1v1h-1zM79 288h1v1h-1zM86 329h1v1h-1zM84 289h1v1h-1zM96 311h1v1h-1zM86 289h1v1h-1zM81 272h1v1h-1zM86 305h1v1h-1zM79 294h1v1h-1zM80 302h1v1h-1zM83 307h1v1h-1zM92 289h1v1h-1zM84 267h1v1h-1zM81 304h1v1h-1zM93 271h1v1h-1zM96 324h1v1h-1zM84 298h1v1h-1zM90 284h1v1h-1zM84 311h1v1h-1zM86 291h1v1h-1zM88 269h1v1h-1zM86 282h1v1h-1zM80 297h1v1h-1zM91 297h1v1h-1zM86 307h1v1h-1zM85 328h1v1h-1zM81 262h1v1h-1zM88 309h1v1h-1zM84 289h1v1h-1zM83 278h1v1h-1zM92 320h1v1h-1zM82 300h1v1h-1zM86 270h1v1h-1zM91 298h1v1h-1zM96 323h1v1h-1zM95 279h1v1h-1zM79 317h1v1h-1zM79 308h1v1h-1zM80 309h1v1h-1zM78 267h1v1h-1zM94 297h1v1h-1zM86 328h1v1h-1zM92 244h1v1h-1zM91 248h1v1h-1zM86 246h1v1h-1zM81 246h1v1h-1zM82 244h1v1h-1zM94 248h1v1h-1zM88 257h1v1h-1zM90 243h1v1h-1zM96 260h1v1h-1zM93 247h1v1h-1zM93 254h1v1h-1zM77 248h1v1h-1zM165 280h1v1h-1zM191 285h1v1h-1zM195 280h1v1h-1zM173 293h1v1h-1zM212 285h1v1h-1zM181 273h1v1h-1zM220 285h1v1h-1zM190 266h1v1h-1zM190 306h1v1h-1zM174 280h1v1h-1zM208 280h1v1h-1zM194 301h1v1h-1zM154 273h1v1h-1zM191 283h1v1h-1zM178 280h1v1h-1zM180 285h1v1h-1zM168 279h1v1h-1zM182 271h1v1h-1zM186 260h1v1h-1zM190 280h1v1h-1zM154 295h1v1h-1zM154 302h1v1h-1zM163 294h1v1h-1zM176 298h1v1h-1zM173 292h1v1h-1zM171 263h1v1h-1zM185 286h1v1h-1zM186 298h1v1h-1zM163 267h1v1h-1zM183 275h1v1h-1zM176 282h1v1h-1zM161 292h1v1h-1zM175 299h1v1h-1zM183 292h1v1h-1zM172 275h1v1h-1zM167 273h1v1h-1zM187 283h1v1h-1zM156 266h1v1h-1zM160 263h1v1h-1zM160 267h1v1h-1zM192 270h1v1h-1zM166 280h1v1h-1zM178 286h1v1h-1zM193 288h1v1h-1zM171 294h1v1h-1zM185 275h1v1h-1zM207 270h1v1h-1zM187 294h1v1h-1zM180 285h1v1h-1zM180 288h1v1h-1zM182 282h1v1h-1zM192 263h1v1h-1zM183 279h1v1h-1zM217 284h1v1h-1zM165 288h1v1h-1zM170 270h1v1h-1zM172 287h1v1h-1zM201 292h1v1h-1zM182 280h1v1h-1zM182 294h1v1h-1zM175 293h1v1h-1zM162 281h1v1h-1zM193 288h1v1h-1zM182 276h1v1h-1zM142 277h1v1h-1zM161 278h1v1h-1zM209 274h1v1h-1zM194 281h1v1h-1zM156 283h1v1h-1zM192 270h1v1h-1zM155 278h1v1h-1zM192 276h1v1h-1zM186 286h1v1h-1zM178 286h1v1h-1zM203 280h1v1h-1zM184 271h1v1h-1zM163 281h1v1h-1zM194 275h1v1h-1zM150 291h1v1h-1zM157 283h1v1h-1zM187 272h1v1h-1zM184 292h1v1h-1zM172 289h1v1h-1zM180 272h1v1h-1zM166 275h1v1h-1zM204 293h1v1h-1zM182 266h1v1h-1zM168 278h1v1h-1zM183 268h1v1h-1zM169 277h1v1h-1zM214 288h1v1h-1zM193 282h1v1h-1zM152 291h1v1h-1zM164 263h1v1h-1zM192 278h1v1h-1zM178 287h1v1h-1zM173 286h1v1h-1zM203 278h1v1h-1zM171 282h1v1h-1zM190 278h1v1h-1zM179 275h1v1h-1zM176 287h1v1h-1zM162 280h1v1h-1zM149 275h1v1h-1zM179 287h1v1h-1zM157 281h1v1h-1zM159 285h1v1h-1zM183 286h1v1h-1zM173 267h1v1h-1zM167 268h1v1h-1zM164 281h1v1h-1zM199 275h1v1h-1zM162 284h1v1h-1zM147 292h1v1h-1zM197 291h1v1h-1zM176 289h1v1h-1zM171 291h1v1h-1zM165 273h1v1h-1zM185 277h1v1h-1zM191 273h1v1h-1zM183 272h1v1h-1zM176 303h1v1h-1zM157 269h1v1h-1zM146 279h1v1h-1zM209 277h1v1h-1zM196 280h1v1h-1zM165 301h1v1h-1zM199 263h1v1h-1zM159 286h1v1h-1zM190 279h1v1h-1zM184 287h1v1h-1zM171 291h1v1h-1zM161 289h1v1h-1zM195 284h1v1h-1zM171 281h1v1h-1zM150 262h1v1h-1zM192 273h1v1h-1zM184 282h1v1h-1zM143 273h1v1h-1zM172 286h1v1h-1zM179 269h1v1h-1zM167 283h1v1h-1zM153 277h1v1h-1zM167 261h1v1h-1zM211 290h1v1h-1zM169 291h1v1h-1zM157 297h1v1h-1zM170 283h1v1h-1zM166 282h1v1h-1zM184 282h1v1h-1zM161 289h1v1h-1zM188 282h1v1h-1zM198 274h1v1h-1zM202 280h1v1h-1zM207 277h1v1h-1zM173 284h1v1h-1zM199 296h1v1h-1zM169 274h1v1h-1zM192 294h1v1h-1zM191 278h1v1h-1zM202 281h1v1h-1zM181 288h1v1h-1zM167 259h1v1h-1zM182 289h1v1h-1zM186 287h1v1h-1zM181 292h1v1h-1zM180 296h1v1h-1zM179 289h1v1h-1zM167 284h1v1h-1zM186 283h1v1h-1zM207 282h1v1h-1zM199 285h1v1h-1zM199 273h1v1h-1zM170 291h1v1h-1zM162 285h1v1h-1zM189 283h1v1h-1zM186 287h1v1h-1zM173 286h1v1h-1zM168 277h1v1h-1zM147 280h1v1h-1zM145 282h1v1h-1zM182 271h1v1h-1zM179 284h1v1h-1zM171 273h1v1h-1zM175 286h1v1h-1zM195 301h1v1h-1zM186 275h1v1h-1zM184 302h1v1h-1zM180 295h1v1h-1zM198 277h1v1h-1zM207 264h1v1h-1zM174 275h1v1h-1zM181 282h1v1h-1zM200 276h1v1h-1zM215 265h1v1h-1zM182 308h1v1h-1zM176 288h1v1h-1zM195 278h1v1h-1zM192 261h1v1h-1zM168 287h1v1h-1zM147 268h1v1h-1zM185 293h1v1h-1zM200 275h1v1h-1zM187 264h1v1h-1zM149 287h1v1h-1zM170 271h1v1h-1zM141 279h1v1h-1zM157 293h1v1h-1zM179 293h1v1h-1zM176 300h1v1h-1zM177 280h1v1h-1zM186 285h1v1h-1zM148 272h1v1h-1zM173 285h1v1h-1zM154 274h1v1h-1zM163 285h1v1h-1zM169 287h1v1h-1zM185 272h1v1h-1zM172 269h1v1h-1zM180 290h1v1h-1zM158 264h1v1h-1zM188 279h1v1h-1zM177 286h1v1h-1zM185 291h1v1h-1zM169 260h1v1h-1zM168 278h1v1h-1zM170 285h1v1h-1zM173 294h1v1h-1zM165 281h1v1h-1zM171 302h1v1h-1zM159 272h1v1h-1zM170 289h1v1h-1zM178 280h1v1h-1zM149 261h1v1h-1zM173 279h1v1h-1zM212 285h1v1h-1zM186 291h1v1h-1zM160 269h1v1h-1zM170 296h1v1h-1zM197 276h1v1h-1zM153 291h1v1h-1zM199 271h1v1h-1zM209 274h1v1h-1zM192 279h1v1h-1zM171 275h1v1h-1zM191 288h1v1h-1zM193 279h1v1h-1zM161 303h1v1h-1zM211 280h1v1h-1zM155 296h1v1h-1zM180 282h1v1h-1zM194 285h1v1h-1zM180 301h1v1h-1zM141 288h1v1h-1zM158 282h1v1h-1zM174 284h1v1h-1zM195 288h1v1h-1zM183 277h1v1h-1zM190 284h1v1h-1zM206 290h1v1h-1zM164 252h1v1h-1zM207 286h1v1h-1zM181 275h1v1h-1zM179 278h1v1h-1zM189 295h1v1h-1zM188 291h1v1h-1zM183 285h1v1h-1zM153 283h1v1h-1zM179 281h1v1h-1zM173 285h1v1h-1zM166 280h1v1h-1zM152 305h1v1h-1zM160 270h1v1h-1zM167 277h1v1h-1zM156 257h1v1h-1zM210 292h1v1h-1zM170 287h1v1h-1zM156 265h1v1h-1zM184 287h1v1h-1zM164 281h1v1h-1zM198 283h1v1h-1zM181 287h1v1h-1zM152 284h1v1h-1zM165 263h1v1h-1zM195 280h1v1h-1zM197 302h1v1h-1zM145 269h1v1h-1zM199 296h1v1h-1zM185 285h1v1h-1zM191 288h1v1h-1zM152 289h1v1h-1zM197 277h1v1h-1zM159 277h1v1h-1zM166 287h1v1h-1zM193 282h1v1h-1zM171 264h1v1h-1zM169 272h1v1h-1zM167 285h1v1h-1zM160 276h1v1h-1zM155 279h1v1h-1zM215 255h1v1h-1zM193 284h1v1h-1zM188 307h1v1h-1zM159 311h1v1h-1zM186 300h1v1h-1zM161 311h1v1h-1zM198 280h1v1h-1zM158 304h1v1h-1zM185 311h1v1h-1zM211 296h1v1h-1zM198 262h1v1h-1zM207 294h1v1h-1zM148 256h1v1h-1zM149 265h1v1h-1zM202 298h1v1h-1zM196 274h1v1h-1zM216 261h1v1h-1zM159 278h1v1h-1zM161 296h1v1h-1zM207 296h1v1h-1zM166 286h1v1h-1zM166 284h1v1h-1zM183 261h1v1h-1zM208 300h1v1h-1zM203 257h1v1h-1zM159 296h1v1h-1zM205 289h1v1h-1zM215 277h1v1h-1zM159 280h1v1h-1zM165 274h1v1h-1zM203 271h1v1h-1zM198 287h1v1h-1zM142 282h1v1h-1zM210 290h1v1h-1zM209 290h1v1h-1zM220 254h1v1h-1zM175 263h1v1h-1zM201 269h1v1h-1zM194 291h1v1h-1zM142 288h1v1h-1zM112 299h1v1h-1zM125 320h1v1h-1zM107 324h1v1h-1zM101 288h1v1h-1zM136 336h1v1h-1zM138 339h1v1h-1zM129 316h1v1h-1zM120 314h1v1h-1zM138 338h1v1h-1zM116 296h1v1h-1zM121 308h1v1h-1zM132 335h1v1h-1zM124 290h1v1h-1zM120 292h1v1h-1zM121 330h1v1h-1z" fill="#e4303c" fill-opacity="0.7"/>
<path d="M118 72h1v1h-1zM128 79h1v1h-1zM113 79h1v1h-1zM131 76h1v1h-1zM122 75h1v1h-1zM116 81h1v1h-1zM137 77h1v1h-1zM119 80h1v1h-1zM118 79h1v1h-1zM124 73h1v1h-1zM113 76h1v1h-1zM124 78h1v1h-1zM127 71h1v1h-1zM122 74h1v1h-1zM120 78h1v1h-1zM114 76h1v1h-1zM113 78h1v1h-1zM115 75h1v1h-1zM121 74h1v1h-1zM126 74h1v1h-1zM124 78h1v1h-1zM113 76h1v1h-1zM115 75h1v1h-1zM118 84h1v1h-1zM117 83h1v1h-1zM122 71h1v1h-1zM106 79h1v1h-1zM108 79h1v1h-1zM125 78h1v1h-1zM118 76h1v1h-1zM121 75h1v1h-1zM116 75h1v1h-1zM126 74h1v1h-1zM122 72h1v1h-1zM115 71h1v1h-1zM118 79h1v1h-1zM121 75h1v1h-1zM123 75h1v1h-1zM122 78h1v1h-1zM123 67h1v1h-1zM112 79h1v1h-1zM119 85h1v1h-1zM118 74h1v1h-1zM128 79h1v1h-1zM131 78h1v1h-1zM118 79h1v1h-1zM115 75h1v1h-1zM116 76h1v1h-1zM124 75h1v1h-1zM121 75h1v1h-1zM125 66h1v1h-1zM118 77h1v1h-1zM113 80h1v1h-1zM121 81h1v1h-1zM125 79h1v1h-1zM119 72h1v1h-1zM118 75h1v1h-1zM121 75h1v1h-1zM137 70h1v1h-1zM126 75h1v1h-1zM121 77h1v1h-1zM122 74h1v1h-1zM122 75h1v1h-1zM119 76h1v1h-1zM120 75h1v1h-1zM122 76h1v1h-1zM121 78h1v1h-1zM122 75h1v1h-1zM122 75h1v1h-1zM118 74h1v1h-1zM119 78h1v1h-1zM121 75h1v1h-1zM121 77h1v1h-1zM122 77h1v1h-1zM123 77h1v1h-1zM210 62h1v1h-1zM198 68h1v1h-1zM175 73h1v1h-1zM198 65h1v1h-1zM191 68h1v1h-1zM149 70h1v1h-1zM158 71h1v1h-1zM143 57h1v1h-1zM169 75h1v1h-1zM154 73h1v1h-1zM178 69h1v1h-1zM197 66h1v1h-1zM145 70h1v1h-1zM155 65h1v1h-1zM206 75h1v1h-1zM207 65h1v1h-1zM186 72h1v1h-1zM189 60h1v1h-1zM144 62h1v1h-1zM150 71h1v1h-1zM189 62h1v1h-1zM195 71h1v1h-1zM169 68h1v1h-1zM148 74h1v1h-1zM212 62h1v1h-1zM213 62h1v1h-1zM173 68h1v1h-1zM139 78h1v1h-1zM220 71h1v1h-1zM211 60h1v1h-1zM215 54h1v1h-1zM190 72h1v1h-1zM179 71h1v1h-1zM181 65h1v1h-1zM159 69h1v1h-1zM175 65h1v1h-1zM184 74h1v1h-1zM201 60h1v1h-1zM167 67h1v1h-1zM172 73h1v1h-1zM203 61h1v1h-1zM203 70h1v1h-1zM170 72h1v1h-1zM204 62h1v1h-1zM162 63h1v1h-1zM193 60h1v1h-1zM168 70h1v1h-1zM150 69h1v1h-1zM205 64h1v1h-1zM159 71h1v1h-1zM207 59h1v1h-1zM172 73h1v1h-1zM208 60h1v1h-1zM209 66h1v1h-1zM170 68h1v1h-1zM153 80h1v1h-1zM208 72h1v1h-1zM213 65h1v1h-1zM204 66h1v1h-1zM212 65h1v1h-1zM143 106h1v1h-1zM180 113h1v1h-1zM149 111h1v1h-1zM172 112h1v1h-1zM182 113h1v1h-1zM169 111h1v1h-1zM163 109h1v1h-1zM155 114h1v1h-1zM164 109h1v1h-1zM198 108h1v1h-1zM184 107h1v1h-1zM191 103h1v1h-1zM178 113h1v1h-1zM151 115h1v1h-1zM146 111h1v1h-1zM146 109h1v1h-1zM164 105h1v1h-1zM147 119h1v1h-1zM160 111h1v1h-1zM179 104h1v1h-1zM159 108h1v1h-1zM160 107h1v1h-1zM188 109h1v1h-1zM187 115h1v1h-1zM186 107h1v1h-1zM96 144h1v1h-1zM96 108h1v1h-1zM87 118h1v1h-1zM83 146h1v1h-1zM80 129h1v1h-1zM92 155h1v1h-1zM77 110h1v1h-1zM86 155h1v1h-1zM80 149h1v1h-1zM84 129h1v1h-1zM95 96h1v1h-1zM83 102h1v1h-1zM224 77h1v1h-1zM224 74h1v1h-1zM224 56h1v1h-1zM225 82h1v1h-1zM225 64h1v1h-1zM224 60h1v1h-1zM225 79h1v1h-1zM226 78h1v1h-1zM225 75h1v1h-1zM225 62h1v1h-1zM225 57h1v1h-1zM226 54h1v1h-1zM225 57h1v1h-1zM226 72h1v1h-1zM225 61h1v1h-1zM226 85h1v1h-1zM225 69h1v1h-1zM226 56h1v1h-1zM225 50h1v1h-1zM225 78h1v1h-1zM225 64h1v1h-1zM226 66h1v1h-1zM225 81h1v1h-1zM226 61h1v1h-1zM225 72h1v1h-1zM226 84h1v1h-1zM225 58h1v1h-1zM225 58h1v1h-1zM225 65h1v1h-1zM226 84h1v1h-1zM226 66h1v1h-1zM226 51h1v1h-1zM226 72h1v1h-1zM226 63h1v1h-1zM226 47h1v1h-1zM226 80h1v1h-1zM225 80h1v1h-1zM225 77h1v1h-1zM225 63h1v1h-1zM225 79h1v1h-1zM226 49h1v1h-1zM226 55h1v1h-1zM225 63h1v1h-1zM225 83h1v1h-1zM226 72h1v1h-1zM225 50h1v1h-1zM224 67h1v1h-1zM225 64h1v1h-1zM226 63h1v1h-1zM225 63h1v1h-1zM225 85h1v1h-1zM225 68h1v1h-1zM225 56h1v1h-1zM225 66h1v1h-1zM225 87h1v1h-1zM225 54h1v1h-1zM224 52h1v1h-1zM225 78h1v1h-1zM226 55h1v1h-1zM226 64h1v1h-1zM225 68h1v1h-1zM224 48h1v1h-1zM226 74h1v1h-1zM225 84h1v1h-1zM226 58h1v1h-1zM224 69h1v1h-1zM225 55h1v1h-1zM224 66h1v1h-1zM224 76h1v1h-1zM225 57h1v1h-1zM225 55h1v1h-1zM225 53h1v1h-1zM226 65h1v1h-1zM226 60h1v1h-1zM226 71h1v1h-1zM225 62h1v1h-1zM225 54h1v1h-1zM226 74h1v1h-1zM225 72h1v1h-1zM224 60h1v1h-1zM225 81h1v1h-1zM224 64h1v1h-1zM226 78h1v1h-1zM226 58h1v1h-1zM225 75h1v1h-1zM225 76h1v1h-1zM225 77h1v1h-1zM225 80h1v1h-1zM226 61h1v1h-1zM226 46h1v1h-1zM226 47h1v1h-1zM225 62h1v1h-1zM226 59h1v1h-1zM225 78h1v1h-1zM225 77h1v1h-1zM225 47h1v1h-1zM226 55h1v1h-1zM225 46h1v1h-1zM225 73h1v1h-1zM226 72h1v1h-1zM225 76h1v1h-1zM226 54h1v1h-1zM225 71h1v1h-1zM226 54h1v1h-1zM225 60h1v1h-1zM224 60h1v1h-1zM226 70h1v1h-1zM225 76h1v1h-1zM225 77h1v1h-1zM225 50h1v1h-1zM225 67h1v1h-1zM225 83h1v1h-1zM226 57h1v1h-1zM226 75h1v1h-1zM225 56h1v1h-1zM226 86h1v1h-1zM224 59h1v1h-1zM225 54h1v1h-1zM225 83h1v1h-1zM224 81h1v1h-1zM225 46h1v1h-1zM226 57h1v1h-1zM225 50h1v1h-1zM225 51h1v1h-1zM225 56h1v1h-1zM225 64h1v1h-1zM225 68h1v1h-1zM226 76h1v1h-1zM225 84h1v1h-1zM226 69h1v1h-1zM225 59h1v1h-1zM225 83h1v1h-1zM225 50h1v1h-1zM226 83h1v1h-1zM224 75h1v1h-1zM225 68h1v1h-1zM226 60h1v1h-1zM225 73h1v1h-1zM225 72h1v1h-1zM225 87h1v1h-1zM225 75h1v1h-1zM224 57h1v1h-1zM225 52h1v1h-1zM225 53h1v1h-1zM226 50h1v1h-1zM225 82h1v1h-1zM225 55h1v1h-1zM226 65h1v1h-1zM226 60h1v1h-1zM225 86h1v1h-1zM225 86h1v1h-1zM226 54h1v1h-1zM225 85h1v1h-1zM225 81h1v1h-1zM226 77h1v1h-1zM225 50h1v1h-1zM226 50h1v1h-1zM226 76h1v1h-1zM225 74h1v1h-1zM225 77h1v1h-1zM224 85h1v1h-1zM225 79h1v1h-1zM225 80h1v1h-1zM225 68h1v1h-1zM224 66h1v1h-1zM224 82h1v1h-1zM226 63h1v1h-1zM226 85h1v1h-1zM226 49h1v1h-1zM226 76h1v1h-1zM225 46h1v1h-1zM226 64h1v1h-1zM225 80h1v1h-1zM225 47h1v1h-1zM226 57h1v1h-1zM224 51h1v1h-1zM226 77h1v1h-1zM225 52h1v1h-1zM226 73h1v1h-1zM225 51h1v1h-1zM225 85h1v1h-1zM224 63h1v1h-1zM224 87h1v1h-1zM224 86h1v1h-1zM226 76h1v1h-1zM224 75h1v1h-1zM225 66h1v1h-1zM225 67h1v1h-1zM226 51h1v1h-1zM226 63h1v1h-1zM225 56h1v1h-1zM225 73h1v1h-1zM225 83h1v1h-1zM225 67h1v1h-1zM226 55h1v1h-1zM224 59h1v1h-1zM225 51h1v1h-1zM225 47h1v1h-1zM226 66h1v1h-1zM226 75h1v1h-1zM226 108h1v1h-1zM225 107h1v1h-1zM225 102h1v1h-1zM225 108h1v1h-1zM225 97h1v1h-1zM226 109h1v1h-1zM226 91h1v1h-1zM225 90h1v1h-1zM226 108h1v1h-1zM225 109h1v1h-1zM225 103h1v1h-1zM226 105h1v1h-1zM225 103h1v1h-1zM225 108h1v1h-1zM225 91h1v1h-1zM225 99h1v1h-1zM225 103h1v1h-1zM225 98h1v1h-1zM225 98h1v1h-1zM226 90h1v1h-1zM224 107h1v1h-1zM225 100h1v1h-1zM225 97h1v1h-1zM225 88h1v1h-1zM226 113h1v1h-1zM225 100h1v1h-1zM225 89h1v1h-1zM226 110h1v1h-1zM225 94h1v1h-1zM226 109h1v1h-1zM225 98h1v1h-1zM225 109h1v1h-1zM226 111h1v1h-1zM225 104h1v1h-1zM226 107h1v1h-1zM225 91h1v1h-1zM224 107h1v1h-1zM224 109h1v1h-1zM225 100h1v1h-1zM226 113h1v1h-1zM225 90h1v1h-1zM225 99h1v1h-1zM225 113h1v1h-1zM226 91h1v1h-1zM225 97h1v1h-1zM225 96h1v1h-1zM225 109h1v1h-1zM225 107h1v1h-1zM225 113h1v1h-1zM226 96h1v1h-1zM225 90h1v1h-1zM225 104h1v1h-1zM225 97h1v1h-1zM224 91h1v1h-1zM225 92h1v1h-1zM225 104h1v1h-1zM226 101h1v1h-1zM225 103h1v1h-1zM225 109h1v1h-1zM225 95h1v1h-1zM225 112h1v1h-1zM225 93h1v1h-1zM225 93h1v1h-1zM225 98h1v1h-1zM226 98h1v1h-1zM225 98h1v1h-1zM226 112h1v1h-1zM225 112h1v1h-1zM225 114h1v1h-1zM225 106h1v1h-1zM167 271h1v1h-1zM203 300h1v1h-1zM193 272h1v1h-1zM206 285h1v1h-1zM161 286h1v1h-1zM166 286h1v1h-1zM196 292h1v1h-1zM156 279h1v1h-1zM178 269h1v1h-1zM186 287h1v1h-1zM150 275h1v1h-1zM155 268h1v1h-1zM156 294h1v1h-1zM164 277h1v1h-1zM197 290h1v1h-1zM206 260h1v1h-1zM193 263h1v1h-1zM165 276h1v1h-1zM166 300h1v1h-1zM174 292h1v1h-1zM174 280h1v1h-1zM188 285h1v1h-1zM188 264h1v1h-1zM188 284h1v1h-1zM189 280h1v1h-1zM186 268h1v1h-1zM200 269h1v1h-1zM206 290h1v1h-1zM176 278h1v1h-1zM193 278h1v1h-1zM154 283h1v1h-1zM153 276h1v1h-1zM213 288h1v1h-1zM168 280h1v1h-1zM165 280h1v1h-1zM149 287h1v1h-1zM178 275h1v1h-1zM165 306h1v1h-1zM169 276h1v1h-1zM166 276h1v1h-1zM204 287h1v1h-1zM186 284h1v1h-1zM155 257h1v1h-1zM208 287h1v1h-1zM182 283h1v1h-1zM182 281h1v1h-1zM172 259h1v1h-1zM189 281h1v1h-1zM197 283h1v1h-1zM172 286h1v1h-1zM181 276h1v1h-1zM170 276h1v1h-1zM172 276h1v1h-1zM197 309h1v1h-1zM175 291h1v1h-1zM168 279h1v1h-1zM163 267h1v1h-1zM160 276h1v1h-1zM181 277h1v1h-1zM153 277h1v1h-1zM222 292h1v1h-1zM221 267h1v1h-1zM221 267h1v1h-1zM220 305h1v1h-1zM221 252h1v1h-1zM221 244h1v1h-1zM222 252h1v1h-1zM221 302h1v1h-1zM222 280h1v1h-1zM221 285h1v1h-1zM222 256h1v1h-1zM221 269h1v1h-1zM221 299h1v1h-1zM221 260h1v1h-1zM222 253h1v1h-1zM220 244h1v1h-1zM221 279h1v1h-1zM221 278h1v1h-1zM221 257h1v1h-1zM221 269h1v1h-1zM221 300h1v1h-1zM221 290h1v1h-1zM220 274h1v1h-1zM220 256h1v1h-1zM221 267h1v1h-1zM221 301h1v1h-1zM221 262h1v1h-1zM220 266h1v1h-1zM222 277h1v1h-1zM222 282h1v1h-1zM221 270h1v1h-1zM222 271h1v1h-1zM221 257h1v1h-1zM222 247h1v1h-1zM221 282h1v1h-1zM222 272h1v1h-1zM221 270h1v1h-1zM221 246h1v1h-1zM221 304h1v1h-1zM221 265h1v1h-1zM221 304h1v1h-1zM221 269h1v1h-1zM222 296h1v1h-1zM221 285h1v1h-1zM221 265h1v1h-1zM222 266h1v1h-1zM222 274h1v1h-1zM222 252h1v1h-1zM221 246h1v1h-1zM222 299h1v1h-1zM221 272h1v1h-1zM222 267h1v1h-1zM221 252h1v1h-1zM222 293h1v1h-1zM221 289h1v1h-1zM222 285h1v1h-1zM220 284h1v1h-1zM222 273h1v1h-1zM221 283h1v1h-1zM221 257h1v1h-1zM222 305h1v1h-1zM221 285h1v1h-1zM221 246h1v1h-1zM221 262h1v1h-1zM222 252h1v1h-1zM221 282h1v1h-1zM222 305h1v1h-1zM222 255h1v1h-1zM221 281h1v1h-1zM221 281h1v1h-1zM221 258h1v1h-1zM222 298h1v1h-1zM222 284h1v1h-1zM222 259h1v1h-1zM221 295h1v1h-1zM221 244h1v1h-1zM221 294h1v1h-1zM221 268h1v1h-1zM222 272h1v1h-1zM221 281h1v1h-1zM222 272h1v1h-1zM222 287h1v1h-1zM221 282h1v1h-1zM221 247h1v1h-1zM221 246h1v1h-1zM221 296h1v1h-1zM222 256h1v1h-1zM221 265h1v1h-1zM221 252h1v1h-1zM222 253h1v1h-1zM221 260h1v1h-1zM221 251h1v1h-1zM221 296h1v1h-1zM220 255h1v1h-1zM220 295h1v1h-1zM222 259h1v1h-1zM222 254h1v1h-1zM221 289h1v1h-1zM221 248h1v1h-1zM220 255h1v1h-1zM222 299h1v1h-1zM221 246h1v1h-1zM221 256h1v1h-1zM222 300h1v1h-1zM222 292h1v1h-1zM222 295h1v1h-1zM221 288h1v1h-1zM220 287h1v1h-1zM221 305h1v1h-1zM222 272h1v1h-1zM222 280h1v1h-1zM221 244h1v1h-1zM221 259h1v1h-1zM222 300h1v1h-1zM221 291h1v1h-1zM221 253h1v1h-1zM221 280h1v1h-1zM222 269h1v1h-1zM222 264h1v1h-1zM221 254h1v1h-1zM221 279h1v1h-1zM220 301h1v1h-1zM220 289h1v1h-1zM221 302h1v1h-1zM221 245h1v1h-1zM222 267h1v1h-1zM222 285h1v1h-1zM221 284h1v1h-1zM222 264h1v1h-1zM221 284h1v1h-1zM221 246h1v1h-1zM221 270h1v1h-1zM220 276h1v1h-1zM221 262h1v1h-1zM222 289h1v1h-1zM220 281h1v1h-1zM222 281h1v1h-1zM222 258h1v1h-1zM221 264h1v1h-1zM221 253h1v1h-1zM221 275h1v1h-1zM222 291h1v1h-1zM220 291h1v1h-1zM221 260h1v1h-1zM220 297h1v1h-1zM221 259h1v1h-1zM221 293h1v1h-1zM222 300h1v1h-1zM222 296h1v1h-1zM221 247h1v1h-1zM221 252h1v1h-1zM221 252h1v1h-1zM221 247h1v1h-1zM221 297h1v1h-1zM221 275h1v1h-1zM222 244h1v1h-1zM222 277h1v1h-1zM220 299h1v1h-1zM222 250h1v1h-1zM222 279h1v1h-1z" fill="#6a1020" fill-opacity="0.7"/>
<path d="M171 73h1v1h-1zM152 68h1v1h-1zM163 73h1v1h-1zM179 65h1v1h-1zM155 76h1v1h-1zM137 60h1v1h-1zM177 67h1v1h-1zM144 63h1v1h-1zM159 69h1v1h-1zM161 59h1v1h-1zM176 57h1v1h-1zM177 66h1v1h-1zM174 63h1v1h-1zM184 78h1v1h-1zM159 64h1v1h-1zM152 72h1v1h-1zM132 74h1v1h-1zM177 64h1v1h-1zM186 67h1v1h-1zM153 74h1v1h-1zM144 80h1v1h-1zM177 74h1v1h-1zM182 61h1v1h-1zM172 74h1v1h-1zM152 65h1v1h-1zM167 67h1v1h-1zM161 63h1v1h-1zM173 73h1v1h-1zM173 67h1v1h-1zM148 79h1v1h-1zM142 77h1v1h-1zM186 71h1v1h-1zM168 60h1v1h-1zM174 71h1v1h-1zM141 66h1v1h-1zM160 67h1v1h-1zM163 62h1v1h-1zM171 69h1v1h-1zM149 70h1v1h-1zM152 73h1v1h-1zM182 63h1v1h-1zM176 69h1v1h-1zM148 73h1v1h-1zM160 66h1v1h-1zM176 75h1v1h-1zM145 66h1v1h-1zM181 60h1v1h-1zM157 69h1v1h-1zM184 73h1v1h-1zM165 65h1v1h-1zM159 77h1v1h-1zM154 63h1v1h-1zM152 69h1v1h-1zM187 76h1v1h-1zM157 66h1v1h-1zM175 72h1v1h-1zM167 70h1v1h-1zM175 72h1v1h-1zM175 70h1v1h-1zM147 72h1v1h-1zM159 69h1v1h-1zM139 61h1v1h-1zM157 70h1v1h-1zM139 71h1v1h-1zM150 73h1v1h-1zM150 74h1v1h-1zM151 71h1v1h-1zM168 66h1v1h-1zM146 77h1v1h-1zM174 58h1v1h-1zM188 75h1v1h-1zM164 71h1v1h-1zM179 69h1v1h-1zM158 66h1v1h-1zM178 70h1v1h-1zM157 76h1v1h-1zM168 78h1v1h-1zM163 69h1v1h-1zM168 67h1v1h-1zM161 62h1v1h-1zM145 69h1v1h-1zM175 75h1v1h-1zM182 57h1v1h-1zM160 66h1v1h-1zM142 63h1v1h-1zM145 71h1v1h-1zM162 71h1v1h-1zM163 61h1v1h-1zM158 67h1v1h-1zM183 72h1v1h-1zM169 66h1v1h-1zM182 64h1v1h-1zM183 86h1v1h-1zM163 81h1v1h-1zM152 71h1v1h-1zM175 68h1v1h-1zM149 69h1v1h-1zM167 73h1v1h-1zM165 65h1v1h-1zM161 77h1v1h-1zM152 74h1v1h-1zM168 67h1v1h-1zM155 74h1v1h-1zM152 74h1v1h-1zM178 58h1v1h-1zM158 67h1v1h-1zM146 68h1v1h-1zM141 73h1v1h-1zM187 63h1v1h-1zM170 60h1v1h-1zM167 67h1v1h-1zM148 63h1v1h-1zM186 59h1v1h-1zM159 74h1v1h-1zM169 75h1v1h-1zM153 73h1v1h-1zM163 66h1v1h-1zM169 63h1v1h-1zM171 67h1v1h-1zM158 61h1v1h-1zM175 79h1v1h-1zM176 72h1v1h-1zM184 72h1v1h-1zM186 64h1v1h-1zM168 73h1v1h-1zM177 70h1v1h-1zM151 70h1v1h-1zM143 72h1v1h-1zM134 63h1v1h-1zM161 74h1v1h-1zM163 73h1v1h-1zM141 67h1v1h-1zM166 66h1v1h-1zM173 61h1v1h-1zM175 67h1v1h-1zM173 71h1v1h-1zM169 61h1v1h-1zM176 65h1v1h-1zM134 68h1v1h-1zM154 69h1v1h-1zM149 69h1v1h-1zM151 77h1v1h-1zM186 67h1v1h-1zM184 66h1v1h-1zM152 68h1v1h-1zM156 69h1v1h-1zM146 71h1v1h-1zM140 64h1v1h-1zM155 61h1v1h-1zM153 69h1v1h-1zM180 66h1v1h-1zM146 64h1v1h-1zM173 76h1v1h-1zM181 71h1v1h-1zM147 60h1v1h-1zM176 69h1v1h-1zM168 66h1v1h-1zM148 68h1v1h-1zM169 71h1v1h-1zM152 66h1v1h-1zM142 66h1v1h-1zM149 63h1v1h-1zM171 66h1v1h-1zM153 65h1v1h-1zM150 77h1v1h-1zM174 55h1v1h-1zM174 71h1v1h-1zM179 70h1v1h-1zM151 71h1v1h-1zM157 65h1v1h-1zM162 70h1v1h-1zM159 67h1v1h-1zM164 66h1v1h-1zM151 71h1v1h-1zM162 75h1v1h-1zM149 74h1v1h-1zM173 63h1v1h-1zM171 63h1v1h-1zM172 71h1v1h-1zM169 69h1v1h-1zM186 65h1v1h-1zM158 65h1v1h-1zM144 61h1v1h-1zM165 71h1v1h-1zM147 69h1v1h-1zM154 66h1v1h-1zM149 70h1v1h-1zM166 65h1v1h-1zM149 64h1v1h-1zM159 71h1v1h-1zM186 69h1v1h-1zM182 60h1v1h-1zM168 66h1v1h-1zM146 70h1v1h-1zM175 70h1v1h-1zM190 72h1v1h-1zM156 72h1v1h-1zM165 68h1v1h-1zM177 70h1v1h-1zM172 70h1v1h-1zM164 59h1v1h-1zM175 68h1v1h-1zM178 60h1v1h-1zM161 61h1v1h-1zM150 72h1v1h-1zM155 70h1v1h-1zM156 66h1v1h-1zM175 62h1v1h-1zM160 64h1v1h-1zM183 58h1v1h-1zM176 74h1v1h-1zM159 66h1v1h-1zM160 76h1v1h-1zM162 60h1v1h-1zM187 76h1v1h-1zM170 61h1v1h-1zM148 65h1v1h-1zM156 75h1v1h-1zM178 65h1v1h-1zM156 71h1v1h-1zM212 61h1v1h-1zM216 61h1v1h-1zM209 62h1v1h-1zM219 62h1v1h-1zM186 71h1v1h-1zM187 59h1v1h-1zM213 65h1v1h-1zM198 60h1v1h-1zM204 70h1v1h-1zM195 68h1v1h-1zM223 55h1v1h-1zM224 63h1v1h-1zM197 62h1v1h-1zM214 72h1v1h-1zM202 75h1v1h-1zM195 63h1v1h-1zM191 60h1v1h-1zM217 60h1v1h-1zM188 68h1v1h-1zM212 66h1v1h-1zM194 59h1v1h-1zM181 66h1v1h-1zM191 63h1v1h-1zM209 60h1v1h-1zM219 65h1v1h-1zM217 58h1v1h-1zM210 70h1v1h-1zM209 70h1v1h-1zM190 65h1v1h-1zM217 61h1v1h-1zM187 63h1v1h-1zM195 64h1v1h-1zM211 69h1v1h-1zM202 57h1v1h-1zM201 64h1v1h-1zM191 64h1v1h-1zM188 66h1v1h-1zM196 64h1v1h-1zM216 74h1v1h-1zM199 62h1v1h-1zM224 56h1v1h-1zM209 60h1v1h-1zM196 62h1v1h-1zM212 60h1v1h-1zM208 54h1v1h-1zM204 66h1v1h-1zM185 67h1v1h-1zM191 70h1v1h-1zM213 62h1v1h-1zM212 72h1v1h-1zM219 66h1v1h-1zM200 66h1v1h-1zM188 72h1v1h-1zM214 62h1v1h-1zM205 63h1v1h-1zM211 59h1v1h-1zM196 63h1v1h-1zM224 75h1v1h-1zM193 67h1v1h-1zM190 66h1v1h-1zM215 57h1v1h-1zM214 64h1v1h-1zM205 64h1v1h-1zM212 64h1v1h-1zM213 58h1v1h-1zM186 69h1v1h-1zM199 62h1v1h-1zM202 64h1v1h-1zM220 67h1v1h-1zM198 69h1v1h-1zM219 58h1v1h-1zM190 60h1v1h-1zM202 63h1v1h-1zM192 68h1v1h-1zM209 62h1v1h-1zM199 62h1v1h-1zM200 65h1v1h-1zM184 68h1v1h-1zM215 72h1v1h-1zM199 68h1v1h-1zM196 72h1v1h-1zM189 58h1v1h-1zM192 64h1v1h-1zM209 66h1v1h-1zM187 68h1v1h-1zM207 66h1v1h-1zM208 63h1v1h-1zM189 70h1v1h-1zM220 58h1v1h-1zM193 66h1v1h-1zM172 293h1v1h-1zM190 277h1v1h-1zM164 284h1v1h-1zM188 281h1v1h-1zM174 283h1v1h-1zM156 285h1v1h-1zM189 283h1v1h-1zM155 283h1v1h-1zM175 286h1v1h-1zM169 291h1v1h-1zM199 291h1v1h-1zM182 295h1v1h-1zM177 281h1v1h-1zM149 283h1v1h-1zM202 273h1v1h-1zM193 270h1v1h-1zM183 301h1v1h-1zM178 271h1v1h-1zM183 281h1v1h-1zM193 277h1v1h-1zM143 278h1v1h-1zM189 293h1v1h-1zM183 283h1v1h-1zM191 281h1v1h-1zM168 285h1v1h-1zM199 278h1v1h-1zM187 276h1v1h-1zM163 284h1v1h-1zM151 274h1v1h-1zM154 277h1v1h-1zM159 305h1v1h-1zM189 283h1v1h-1zM151 259h1v1h-1zM186 276h1v1h-1zM198 279h1v1h-1zM151 276h1v1h-1zM147 269h1v1h-1zM192 277h1v1h-1zM191 277h1v1h-1zM173 277h1v1h-1zM167 276h1v1h-1zM207 282h1v1h-1zM202 294h1v1h-1zM175 281h1v1h-1zM168 284h1v1h-1zM187 282h1v1h-1zM161 273h1v1h-1zM210 299h1v1h-1zM153 276h1v1h-1zM177 288h1v1h-1zM175 285h1v1h-1zM185 294h1v1h-1zM151 293h1v1h-1zM186 288h1v1h-1zM147 280h1v1h-1zM172 289h1v1h-1zM191 289h1v1h-1zM152 295h1v1h-1zM179 292h1v1h-1zM177 276h1v1h-1zM192 278h1v1h-1zM173 293h1v1h-1zM186 300h1v1h-1zM201 272h1v1h-1zM147 294h1v1h-1zM189 280h1v1h-1zM171 277h1v1h-1zM213 281h1v1h-1zM150 291h1v1h-1zM176 286h1v1h-1zM170 282h1v1h-1zM164 279h1v1h-1zM184 295h1v1h-1zM188 292h1v1h-1zM159 286h1v1h-1zM185 292h1v1h-1zM165 281h1v1h-1zM167 294h1v1h-1zM199 278h1v1h-1zM174 285h1v1h-1zM159 281h1v1h-1zM194 290h1v1h-1zM164 276h1v1h-1zM175 268h1v1h-1zM183 284h1v1h-1zM151 280h1v1h-1zM164 280h1v1h-1zM160 296h1v1h-1zM158 290h1v1h-1zM181 296h1v1h-1zM176 283h1v1h-1zM179 264h1v1h-1zM171 272h1v1h-1zM174 298h1v1h-1zM162 287h1v1h-1zM198 292h1v1h-1zM169 266h1v1h-1zM185 288h1v1h-1zM171 278h1v1h-1zM212 267h1v1h-1zM167 277h1v1h-1zM146 276h1v1h-1zM161 294h1v1h-1zM142 269h1v1h-1zM182 268h1v1h-1zM153 273h1v1h-1zM174 287h1v1h-1zM164 280h1v1h-1zM191 281h1v1h-1zM192 277h1v1h-1zM187 295h1v1h-1zM150 311h1v1h-1zM171 279h1v1h-1zM174 287h1v1h-1zM153 283h1v1h-1zM165 296h1v1h-1zM143 289h1v1h-1zM171 276h1v1h-1zM180 280h1v1h-1zM178 285h1v1h-1zM201 279h1v1h-1zM210 257h1v1h-1zM214 294h1v1h-1zM208 285h1v1h-1zM183 273h1v1h-1zM204 272h1v1h-1zM161 283h1v1h-1zM182 286h1v1h-1zM154 279h1v1h-1zM187 294h1v1h-1zM192 287h1v1h-1zM172 277h1v1h-1zM167 282h1v1h-1zM188 278h1v1h-1zM218 273h1v1h-1zM193 281h1v1h-1zM174 279h1v1h-1zM208 280h1v1h-1zM188 284h1v1h-1zM192 288h1v1h-1zM210 276h1v1h-1zM161 299h1v1h-1zM203 283h1v1h-1zM171 285h1v1h-1zM203 275h1v1h-1zM206 282h1v1h-1zM170 279h1v1h-1zM151 277h1v1h-1zM159 285h1v1h-1zM192 283h1v1h-1zM181 287h1v1h-1zM209 288h1v1h-1zM208 282h1v1h-1zM184 277h1v1h-1zM189 275h1v1h-1zM187 277h1v1h-1zM170 294h1v1h-1zM180 290h1v1h-1zM172 265h1v1h-1zM206 281h1v1h-1zM164 292h1v1h-1zM155 276h1v1h-1zM200 276h1v1h-1zM200 280h1v1h-1zM173 283h1v1h-1zM167 293h1v1h-1zM199 283h1v1h-1zM189 288h1v1h-1zM211 268h1v1h-1zM198 291h1v1h-1zM171 283h1v1h-1zM170 294h1v1h-1zM154 288h1v1h-1zM203 288h1v1h-1zM168 278h1v1h-1zM199 274h1v1h-1zM144 280h1v1h-1zM147 287h1v1h-1zM160 292h1v1h-1zM175 269h1v1h-1zM162 277h1v1h-1zM160 294h1v1h-1zM157 286h1v1h-1zM166 288h1v1h-1zM149 268h1v1h-1zM187 296h1v1h-1zM150 280h1v1h-1zM167 274h1v1h-1zM196 283h1v1h-1zM150 281h1v1h-1zM204 276h1v1h-1zM167 275h1v1h-1zM180 277h1v1h-1zM195 275h1v1h-1zM148 287h1v1h-1zM183 285h1v1h-1zM166 278h1v1h-1zM161 281h1v1h-1zM168 288h1v1h-1zM177 288h1v1h-1zM210 280h1v1h-1zM171 286h1v1h-1zM219 279h1v1h-1zM211 294h1v1h-1zM158 286h1v1h-1zM204 283h1v1h-1zM180 303h1v1h-1zM184 303h1v1h-1zM159 298h1v1h-1zM167 260h1v1h-1zM161 278h1v1h-1zM176 290h1v1h-1zM191 288h1v1h-1zM162 299h1v1h-1zM201 283h1v1h-1zM166 282h1v1h-1zM173 276h1v1h-1zM177 276h1v1h-1zM190 277h1v1h-1zM187 286h1v1h-1zM181 288h1v1h-1zM157 307h1v1h-1zM163 290h1v1h-1zM178 279h1v1h-1zM212 293h1v1h-1zM172 288h1v1h-1zM191 298h1v1h-1zM197 281h1v1h-1zM172 272h1v1h-1zM182 291h1v1h-1zM169 289h1v1h-1zM180 278h1v1h-1zM153 293h1v1h-1zM156 273h1v1h-1zM182 289h1v1h-1zM208 260h1v1h-1zM214 284h1v1h-1zM180 286h1v1h-1zM170 280h1v1h-1zM198 266h1v1h-1zM175 288h1v1h-1zM144 281h1v1h-1zM208 286h1v1h-1zM191 289h1v1h-1zM182 286h1v1h-1zM161 281h1v1h-1zM214 271h1v1h-1zM174 271h1v1h-1zM167 275h1v1h-1zM153 285h1v1h-1zM158 288h1v1h-1zM213 258h1v1h-1zM174 263h1v1h-1zM175 286h1v1h-1zM182 294h1v1h-1zM180 266h1v1h-1zM207 274h1v1h-1zM175 286h1v1h-1zM160 283h1v1h-1zM207 267h1v1h-1zM144 278h1v1h-1zM174 271h1v1h-1zM185 270h1v1h-1zM189 282h1v1h-1zM181 270h1v1h-1zM173 287h1v1h-1zM142 273h1v1h-1zM197 302h1v1h-1zM191 282h1v1h-1zM156 279h1v1h-1zM172 287h1v1h-1zM172 306h1v1h-1zM204 262h1v1h-1zM154 283h1v1h-1zM197 286h1v1h-1zM204 288h1v1h-1zM187 297h1v1h-1zM168 277h1v1h-1zM157 285h1v1h-1zM186 292h1v1h-1zM206 289h1v1h-1zM202 280h1v1h-1zM158 290h1v1h-1zM198 295h1v1h-1zM174 278h1v1h-1zM170 286h1v1h-1zM176 281h1v1h-1zM183 280h1v1h-1zM184 277h1v1h-1zM146 280h1v1h-1zM215 275h1v1h-1zM196 295h1v1h-1zM167 285h1v1h-1zM208 284h1v1h-1zM163 284h1v1h-1zM183 279h1v1h-1zM171 275h1v1h-1zM189 285h1v1h-1zM184 278h1v1h-1zM187 280h1v1h-1z" fill="#ea4a55" fill-opacity="0.5"/>
<path d="M191 81h1v1h-1zM143 84h1v1h-1zM173 75h1v1h-1zM172 94h1v1h-1zM169 91h1v1h-1zM193 79h1v1h-1zM143 91h1v1h-1zM192 82h1v1h-1zM158 96h1v1h-1zM217 80h1v1h-1zM190 89h1v1h-1zM168 75h1v1h-1zM169 91h1v1h-1zM191 87h1v1h-1zM152 80h1v1h-1zM167 85h1v1h-1zM172 97h1v1h-1zM151 99h1v1h-1zM161 96h1v1h-1zM162 89h1v1h-1zM173 75h1v1h-1zM208 95h1v1h-1zM164 94h1v1h-1zM181 99h1v1h-1zM146 84h1v1h-1zM160 90h1v1h-1zM206 96h1v1h-1zM187 84h1v1h-1zM208 77h1v1h-1zM163 93h1v1h-1zM162 93h1v1h-1zM222 97h1v1h-1zM224 121h1v1h-1zM152 119h1v1h-1zM143 113h1v1h-1zM209 112h1v1h-1zM187 118h1v1h-1zM154 105h1v1h-1zM164 98h1v1h-1zM157 113h1v1h-1zM189 116h1v1h-1zM194 108h1v1h-1zM218 118h1v1h-1zM189 95h1v1h-1zM219 97h1v1h-1zM150 95h1v1h-1zM200 123h1v1h-1zM195 111h1v1h-1zM219 116h1v1h-1zM178 101h1v1h-1zM205 94h1v1h-1zM151 109h1v1h-1zM209 91h1v1h-1zM198 121h1v1h-1zM152 86h1v1h-1z" fill="#707070" fill-opacity="0.6"/></g>
<rect x="76" y="50.4" width="21.200000000000003" height="106.9" fill="none" stroke="#1a1a1a" stroke-width="1.05"/>
<rect x="97.2" y="49" width="43.10000000000001" height="48.599999999999994" fill="none" stroke="#1a1a1a" stroke-width="1.05"/>
<rect x="141.6" y="47.4" width="84.0" height="81.0" fill="none" stroke="#1a1a1a" stroke-width="1.05"/>
<rect x="97.2" y="97.6" width="13.799999999999997" height="50.30000000000001" fill="none" stroke="#1a1a1a" stroke-width="1.05"/>
<rect x="112.3" y="97.6" width="11.100000000000009" height="37.400000000000006" fill="none" stroke="#1a1a1a" stroke-width="1.05"/>
<rect x="124.2" y="97.6" width="16.39999999999999" height="36.400000000000006" fill="none" stroke="#1a1a1a" stroke-width="1.05"/>
<line x1="76" y1="35.3" x2="76" y2="177.8" stroke="#111" stroke-width="1.6"/>
<line x1="75.2" y1="177" x2="228.0" y2="177" stroke="#111" stroke-width="1.6"/>
<line x1="227.3" y1="35.3" x2="227.3" y2="177.8" stroke="#111" stroke-width="1.4"/>
<line x1="76" y1="36.0" x2="106.8" y2="36.0" stroke="#111" stroke-width="1.5"/>
<line x1="163.4" y1="36.0" x2="228.0" y2="36.0" stroke="#111" stroke-width="1.5"/>
<text x="110.8" y="38.9" font-size="10.6" font-weight="bold" text-anchor="start" fill="#1a1a1a" textLength="49.1" lengthAdjust="spacingAndGlyphs">Untreated</text>
<line x1="72.5" y1="177.0" x2="76" y2="177.0" stroke="#222" stroke-width="1.2"/>
<text x="65.8" y="179.9" font-size="8" font-weight="normal" text-anchor="end" fill="#1a1a1a" textLength="8.6" lengthAdjust="spacingAndGlyphs">10</text>
<text x="66.3" y="176.4" font-size="4.8" font-weight="normal" text-anchor="start" fill="#1a1a1a">0</text>
<line x1="73.7" y1="166.40374415262787" x2="76" y2="166.40374415262787" stroke="#222" stroke-width="1.1"/>
<line x1="73.7" y1="160.2053318338679" x2="76" y2="160.2053318338679" stroke="#222" stroke-width="1.1"/>
<line x1="73.7" y1="155.80748830525573" x2="76" y2="155.80748830525573" stroke="#222" stroke-width="1.1"/>
<line x1="73.7" y1="152.39625584737215" x2="76" y2="152.39625584737215" stroke="#222" stroke-width="1.1"/>
<line x1="73.7" y1="149.60907598649575" x2="76" y2="149.60907598649575" stroke="#222" stroke-width="1.1"/>
<line x1="73.7" y1="147.25254899149814" x2="76" y2="147.25254899149814" stroke="#222" stroke-width="1.1"/>
<line x1="73.7" y1="145.2112324578836" x2="76" y2="145.2112324578836" stroke="#222" stroke-width="1.1"/>
<line x1="73.7" y1="143.41066366773578" x2="76" y2="143.41066366773578" stroke="#222" stroke-width="1.1"/>
<line x1="72.5" y1="141.8" x2="76" y2="141.8" stroke="#222" stroke-width="1.2"/>
<text x="65.8" y="144.70000000000002" font-size="8" font-weight="normal" text-anchor="end" fill="#1a1a1a" textLength="8.6" lengthAdjust="spacingAndGlyphs">10</text>
<text x="66.3" y="141.20000000000002" font-size="4.8" font-weight="normal" text-anchor="start" fill="#1a1a1a">1</text>
<line x1="73.7" y1="131.20374415262788" x2="76" y2="131.20374415262788" stroke="#222" stroke-width="1.1"/>
<line x1="73.7" y1="125.0053318338679" x2="76" y2="125.0053318338679" stroke="#222" stroke-width="1.1"/>
<line x1="73.7" y1="120.60748830525573" x2="76" y2="120.60748830525573" stroke="#222" stroke-width="1.1"/>
<line x1="73.7" y1="117.19625584737214" x2="76" y2="117.19625584737214" stroke="#222" stroke-width="1.1"/>
<line x1="73.7" y1="114.40907598649575" x2="76" y2="114.40907598649575" stroke="#222" stroke-width="1.1"/>
<line x1="73.7" y1="112.05254899149817" x2="76" y2="112.05254899149817" stroke="#222" stroke-width="1.1"/>
<line x1="73.7" y1="110.0112324578836" x2="76" y2="110.0112324578836" stroke="#222" stroke-width="1.1"/>
<line x1="73.7" y1="108.21066366773577" x2="76" y2="108.21066366773577" stroke="#222" stroke-width="1.1"/>
<line x1="72.5" y1="106.6" x2="76" y2="106.6" stroke="#222" stroke-width="1.2"/>
<text x="65.8" y="109.5" font-size="8" font-weight="normal" text-anchor="end" fill="#1a1a1a" textLength="8.6" lengthAdjust="spacingAndGlyphs">10</text>
<text x="66.3" y="106.0" font-size="4.8" font-weight="normal" text-anchor="start" fill="#1a1a1a">2</text>
<line x1="73.7" y1="96.00374415262786" x2="76" y2="96.00374415262786" stroke="#222" stroke-width="1.1"/>
<line x1="73.7" y1="89.80533183386788" x2="76" y2="89.80533183386788" stroke="#222" stroke-width="1.1"/>
<line x1="73.7" y1="85.40748830525571" x2="76" y2="85.40748830525571" stroke="#222" stroke-width="1.1"/>
<line x1="73.7" y1="81.99625584737213" x2="76" y2="81.99625584737213" stroke="#222" stroke-width="1.1"/>
<line x1="73.7" y1="79.20907598649573" x2="76" y2="79.20907598649573" stroke="#222" stroke-width="1.1"/>
<line x1="73.7" y1="76.85254899149815" x2="76" y2="76.85254899149815" stroke="#222" stroke-width="1.1"/>
<line x1="73.7" y1="74.81123245788358" x2="76" y2="74.81123245788358" stroke="#222" stroke-width="1.1"/>
<line x1="73.7" y1="73.01066366773576" x2="76" y2="73.01066366773576" stroke="#222" stroke-width="1.1"/>
<line x1="72.5" y1="71.39999999999999" x2="76" y2="71.39999999999999" stroke="#222" stroke-width="1.2"/>
<text x="65.8" y="74.3" font-size="8" font-weight="normal" text-anchor="end" fill="#1a1a1a" textLength="8.6" lengthAdjust="spacingAndGlyphs">10</text>
<text x="66.3" y="70.8" font-size="4.8" font-weight="normal" text-anchor="start" fill="#1a1a1a">3</text>
<line x1="73.7" y1="60.80374415262785" x2="76" y2="60.80374415262785" stroke="#222" stroke-width="1.1"/>
<line x1="73.7" y1="54.60533183386787" x2="76" y2="54.60533183386787" stroke="#222" stroke-width="1.1"/>
<line x1="73.7" y1="50.20748830525571" x2="76" y2="50.20748830525571" stroke="#222" stroke-width="1.1"/>
<line x1="73.7" y1="46.79625584737212" x2="76" y2="46.79625584737212" stroke="#222" stroke-width="1.1"/>
<line x1="73.7" y1="44.00907598649573" x2="76" y2="44.00907598649573" stroke="#222" stroke-width="1.1"/>
<line x1="73.7" y1="41.65254899149815" x2="76" y2="41.65254899149815" stroke="#222" stroke-width="1.1"/>
<line x1="73.7" y1="39.611232457883574" x2="76" y2="39.611232457883574" stroke="#222" stroke-width="1.1"/>
<line x1="73.7" y1="37.81066366773575" x2="76" y2="37.81066366773575" stroke="#222" stroke-width="1.1"/>
<line x1="72.5" y1="36.19999999999999" x2="76" y2="36.19999999999999" stroke="#222" stroke-width="1.2"/>
<text x="65.8" y="39.09999999999999" font-size="8" font-weight="normal" text-anchor="end" fill="#1a1a1a" textLength="8.6" lengthAdjust="spacingAndGlyphs">10</text>
<text x="66.3" y="35.59999999999999" font-size="4.8" font-weight="normal" text-anchor="start" fill="#1a1a1a">4</text>
<line x1="76.0" y1="177" x2="76.0" y2="180.5" stroke="#222" stroke-width="1.2"/>
<text x="76.0" y="192.2" font-size="8.9" font-weight="normal" text-anchor="middle" fill="#1a1a1a">0</text>
<line x1="83.31" y1="177" x2="83.31" y2="179.3" stroke="#222" stroke-width="1.1"/>
<line x1="90.62" y1="177" x2="90.62" y2="179.3" stroke="#222" stroke-width="1.1"/>
<line x1="97.93" y1="177" x2="97.93" y2="179.3" stroke="#222" stroke-width="1.1"/>
<line x1="105.24" y1="177" x2="105.24" y2="180.5" stroke="#222" stroke-width="1.2"/>
<text x="105.24" y="192.2" font-size="8.9" font-weight="normal" text-anchor="middle" fill="#1a1a1a">200</text>
<line x1="112.55" y1="177" x2="112.55" y2="179.3" stroke="#222" stroke-width="1.1"/>
<line x1="119.86" y1="177" x2="119.86" y2="179.3" stroke="#222" stroke-width="1.1"/>
<line x1="127.17" y1="177" x2="127.17" y2="179.3" stroke="#222" stroke-width="1.1"/>
<line x1="134.48" y1="177" x2="134.48" y2="180.5" stroke="#222" stroke-width="1.2"/>
<text x="134.48" y="192.2" font-size="8.9" font-weight="normal" text-anchor="middle" fill="#1a1a1a">400</text>
<line x1="141.79" y1="177" x2="141.79" y2="179.3" stroke="#222" stroke-width="1.1"/>
<line x1="149.1" y1="177" x2="149.1" y2="179.3" stroke="#222" stroke-width="1.1"/>
<line x1="156.41" y1="177" x2="156.41" y2="179.3" stroke="#222" stroke-width="1.1"/>
<line x1="163.72" y1="177" x2="163.72" y2="180.5" stroke="#222" stroke-width="1.2"/>
<text x="163.72" y="192.2" font-size="8.9" font-weight="normal" text-anchor="middle" fill="#1a1a1a">600</text>
<line x1="171.03" y1="177" x2="171.03" y2="179.3" stroke="#222" stroke-width="1.1"/>
<line x1="178.34" y1="177" x2="178.34" y2="179.3" stroke="#222" stroke-width="1.1"/>
<line x1="185.64999999999998" y1="177" x2="185.64999999999998" y2="179.3" stroke="#222" stroke-width="1.1"/>
<line x1="192.95999999999998" y1="177" x2="192.95999999999998" y2="180.5" stroke="#222" stroke-width="1.2"/>
<text x="192.95999999999998" y="192.2" font-size="8.9" font-weight="normal" text-anchor="middle" fill="#1a1a1a">800</text>
<line x1="200.26999999999998" y1="177" x2="200.26999999999998" y2="179.3" stroke="#222" stroke-width="1.1"/>
<line x1="207.57999999999998" y1="177" x2="207.57999999999998" y2="179.3" stroke="#222" stroke-width="1.1"/>
<line x1="214.89" y1="177" x2="214.89" y2="179.3" stroke="#222" stroke-width="1.1"/>
<line x1="222.2" y1="177" x2="222.2" y2="180.5" stroke="#222" stroke-width="1.2"/>
<text x="222.2" y="192.2" font-size="8.9" font-weight="normal" text-anchor="middle" fill="#1a1a1a">1000</text>
<text x="89" y="108" font-size="5.2" font-weight="normal" text-anchor="start" fill="#555">R2</text>
<text x="185" y="93" font-size="5.2" font-weight="normal" text-anchor="start" fill="#555">R6</text>
<text x="118" y="121" font-size="5.2" font-weight="normal" text-anchor="start" fill="#555">R7</text>
<text x="107" y="127" font-size="5.2" font-weight="normal" text-anchor="start" fill="#555">R3</text>
<text x="135" y="120" font-size="5.2" font-weight="normal" text-anchor="start" fill="#555">R5</text>
<rect x="76" y="239.3" width="22.200000000000003" height="105.09999999999997" fill="none" stroke="#1a1a1a" stroke-width="1.05"/>
<rect x="98" y="238" width="42.69999999999999" height="47.5" fill="none" stroke="#1a1a1a" stroke-width="1.05"/>
<rect x="141" y="236.1" width="80.9" height="80.20000000000002" fill="none" stroke="#1a1a1a" stroke-width="1.05"/>
<rect x="98.5" y="287" width="13.799999999999997" height="49.60000000000002" fill="none" stroke="#1a1a1a" stroke-width="1.05"/>
<rect x="112.3" y="286" width="11.100000000000009" height="37" fill="none" stroke="#1a1a1a" stroke-width="1.05"/>
<rect x="123.4" y="286" width="17.400000000000006" height="36.5" fill="none" stroke="#1a1a1a" stroke-width="1.05"/>
<line x1="76" y1="224.3" x2="76" y2="364.1" stroke="#111" stroke-width="1.6"/>
<line x1="75.2" y1="363.3" x2="223.89999999999998" y2="363.3" stroke="#111" stroke-width="1.6"/>
<line x1="223.2" y1="224.3" x2="223.2" y2="364.1" stroke="#111" stroke-width="1.4"/>
<line x1="76" y1="225" x2="100.3" y2="225" stroke="#111" stroke-width="1.5"/>
<line x1="169.3" y1="225" x2="223.89999999999998" y2="225" stroke="#111" stroke-width="1.5"/>
<text x="104.3" y="228.3" font-size="10.6" font-weight="bold" text-anchor="start" fill="#1a1a1a" textLength="61.5" lengthAdjust="spacingAndGlyphs">SGN-CD19B</text>
<line x1="72.5" y1="363.3" x2="76" y2="363.3" stroke="#222" stroke-width="1.2"/>
<text x="65.8" y="366.2" font-size="8" font-weight="normal" text-anchor="end" fill="#1a1a1a" textLength="8.6" lengthAdjust="spacingAndGlyphs">10</text>
<text x="66.3" y="362.7" font-size="4.8" font-weight="normal" text-anchor="start" fill="#1a1a1a">0</text>
<line x1="73.7" y1="352.89941364980945" x2="76" y2="352.89941364980945" stroke="#222" stroke-width="1.1"/>
<line x1="73.7" y1="346.8154606494357" x2="76" y2="346.8154606494357" stroke="#222" stroke-width="1.1"/>
<line x1="73.7" y1="342.49882729961894" x2="76" y2="342.49882729961894" stroke="#222" stroke-width="1.1"/>
<line x1="73.7" y1="339.15058635019057" x2="76" y2="339.15058635019057" stroke="#222" stroke-width="1.1"/>
<line x1="73.7" y1="336.4148742992451" x2="76" y2="336.4148742992451" stroke="#222" stroke-width="1.1"/>
<line x1="73.7" y1="334.10186271750746" x2="76" y2="334.10186271750746" stroke="#222" stroke-width="1.1"/>
<line x1="73.7" y1="332.0982409494284" x2="76" y2="332.0982409494284" stroke="#222" stroke-width="1.1"/>
<line x1="73.7" y1="330.3309212988713" x2="76" y2="330.3309212988713" stroke="#222" stroke-width="1.1"/>
<line x1="72.5" y1="328.75" x2="76" y2="328.75" stroke="#222" stroke-width="1.2"/>
<text x="65.8" y="331.65" font-size="8" font-weight="normal" text-anchor="end" fill="#1a1a1a" textLength="8.6" lengthAdjust="spacingAndGlyphs">10</text>
<text x="66.3" y="328.15" font-size="4.8" font-weight="normal" text-anchor="start" fill="#1a1a1a">1</text>
<line x1="73.7" y1="318.34941364980943" x2="76" y2="318.34941364980943" stroke="#222" stroke-width="1.1"/>
<line x1="73.7" y1="312.2654606494357" x2="76" y2="312.2654606494357" stroke="#222" stroke-width="1.1"/>
<line x1="73.7" y1="307.9488272996189" x2="76" y2="307.9488272996189" stroke="#222" stroke-width="1.1"/>
<line x1="73.7" y1="304.60058635019055" x2="76" y2="304.60058635019055" stroke="#222" stroke-width="1.1"/>
<line x1="73.7" y1="301.8648742992451" x2="76" y2="301.8648742992451" stroke="#222" stroke-width="1.1"/>
<line x1="73.7" y1="299.55186271750745" x2="76" y2="299.55186271750745" stroke="#222" stroke-width="1.1"/>
<line x1="73.7" y1="297.54824094942836" x2="76" y2="297.54824094942836" stroke="#222" stroke-width="1.1"/>
<line x1="73.7" y1="295.7809212988713" x2="76" y2="295.7809212988713" stroke="#222" stroke-width="1.1"/>
<line x1="72.5" y1="294.20000000000005" x2="76" y2="294.20000000000005" stroke="#222" stroke-width="1.2"/>
<text x="65.8" y="297.1" font-size="8" font-weight="normal" text-anchor="end" fill="#1a1a1a" textLength="8.6" lengthAdjust="spacingAndGlyphs">10</text>
<text x="66.3" y="293.6" font-size="4.8" font-weight="normal" text-anchor="start" fill="#1a1a1a">2</text>
<line x1="73.7" y1="283.7994136498095" x2="76" y2="283.7994136498095" stroke="#222" stroke-width="1.1"/>
<line x1="73.7" y1="277.7154606494357" x2="76" y2="277.7154606494357" stroke="#222" stroke-width="1.1"/>
<line x1="73.7" y1="273.398827299619" x2="76" y2="273.398827299619" stroke="#222" stroke-width="1.1"/>
<line x1="73.7" y1="270.0505863501906" x2="76" y2="270.0505863501906" stroke="#222" stroke-width="1.1"/>
<line x1="73.7" y1="267.31487429924516" x2="76" y2="267.31487429924516" stroke="#222" stroke-width="1.1"/>
<line x1="73.7" y1="265.0018627175075" x2="76" y2="265.0018627175075" stroke="#222" stroke-width="1.1"/>
<line x1="73.7" y1="262.9982409494284" x2="76" y2="262.9982409494284" stroke="#222" stroke-width="1.1"/>
<line x1="73.7" y1="261.23092129887135" x2="76" y2="261.23092129887135" stroke="#222" stroke-width="1.1"/>
<line x1="72.5" y1="259.65000000000003" x2="76" y2="259.65000000000003" stroke="#222" stroke-width="1.2"/>
<text x="65.8" y="262.55" font-size="8" font-weight="normal" text-anchor="end" fill="#1a1a1a" textLength="8.6" lengthAdjust="spacingAndGlyphs">10</text>
<text x="66.3" y="259.05" font-size="4.8" font-weight="normal" text-anchor="start" fill="#1a1a1a">3</text>
<line x1="73.7" y1="249.2494136498095" x2="76" y2="249.2494136498095" stroke="#222" stroke-width="1.1"/>
<line x1="73.7" y1="243.1654606494357" x2="76" y2="243.1654606494357" stroke="#222" stroke-width="1.1"/>
<line x1="73.7" y1="238.84882729961893" x2="76" y2="238.84882729961893" stroke="#222" stroke-width="1.1"/>
<line x1="73.7" y1="235.5005863501906" x2="76" y2="235.5005863501906" stroke="#222" stroke-width="1.1"/>
<line x1="73.7" y1="232.76487429924515" x2="76" y2="232.76487429924515" stroke="#222" stroke-width="1.1"/>
<line x1="73.7" y1="230.45186271750745" x2="76" y2="230.45186271750745" stroke="#222" stroke-width="1.1"/>
<line x1="73.7" y1="228.4482409494284" x2="76" y2="228.4482409494284" stroke="#222" stroke-width="1.1"/>
<line x1="73.7" y1="226.68092129887137" x2="76" y2="226.68092129887137" stroke="#222" stroke-width="1.1"/>
<line x1="72.5" y1="225.10000000000002" x2="76" y2="225.10000000000002" stroke="#222" stroke-width="1.2"/>
<text x="65.8" y="228.00000000000003" font-size="8" font-weight="normal" text-anchor="end" fill="#1a1a1a" textLength="8.6" lengthAdjust="spacingAndGlyphs">10</text>
<text x="66.3" y="224.50000000000003" font-size="4.8" font-weight="normal" text-anchor="start" fill="#1a1a1a">4</text>
<line x1="76.9" y1="363.3" x2="76.9" y2="366.8" stroke="#222" stroke-width="1.2"/>
<text x="76.9" y="378.5" font-size="8.9" font-weight="normal" text-anchor="middle" fill="#1a1a1a">0</text>
<line x1="84.025" y1="363.3" x2="84.025" y2="365.6" stroke="#222" stroke-width="1.1"/>
<line x1="91.15" y1="363.3" x2="91.15" y2="365.6" stroke="#222" stroke-width="1.1"/>
<line x1="98.275" y1="363.3" x2="98.275" y2="365.6" stroke="#222" stroke-width="1.1"/>
<line x1="105.4" y1="363.3" x2="105.4" y2="366.8" stroke="#222" stroke-width="1.2"/>
<text x="105.4" y="378.5" font-size="8.9" font-weight="normal" text-anchor="middle" fill="#1a1a1a">200</text>
<line x1="112.525" y1="363.3" x2="112.525" y2="365.6" stroke="#222" stroke-width="1.1"/>
<line x1="119.65" y1="363.3" x2="119.65" y2="365.6" stroke="#222" stroke-width="1.1"/>
<line x1="126.775" y1="363.3" x2="126.775" y2="365.6" stroke="#222" stroke-width="1.1"/>
<line x1="133.9" y1="363.3" x2="133.9" y2="366.8" stroke="#222" stroke-width="1.2"/>
<text x="133.9" y="378.5" font-size="8.9" font-weight="normal" text-anchor="middle" fill="#1a1a1a">400</text>
<line x1="141.025" y1="363.3" x2="141.025" y2="365.6" stroke="#222" stroke-width="1.1"/>
<line x1="148.15" y1="363.3" x2="148.15" y2="365.6" stroke="#222" stroke-width="1.1"/>
<line x1="155.275" y1="363.3" x2="155.275" y2="365.6" stroke="#222" stroke-width="1.1"/>
<line x1="162.39999999999998" y1="363.3" x2="162.39999999999998" y2="366.8" stroke="#222" stroke-width="1.2"/>
<text x="162.39999999999998" y="378.5" font-size="8.9" font-weight="normal" text-anchor="middle" fill="#1a1a1a">600</text>
<line x1="169.52499999999998" y1="363.3" x2="169.52499999999998" y2="365.6" stroke="#222" stroke-width="1.1"/>
<line x1="176.64999999999998" y1="363.3" x2="176.64999999999998" y2="365.6" stroke="#222" stroke-width="1.1"/>
<line x1="183.77499999999998" y1="363.3" x2="183.77499999999998" y2="365.6" stroke="#222" stroke-width="1.1"/>
<line x1="190.89999999999998" y1="363.3" x2="190.89999999999998" y2="366.8" stroke="#222" stroke-width="1.2"/>
<text x="190.89999999999998" y="378.5" font-size="8.9" font-weight="normal" text-anchor="middle" fill="#1a1a1a">800</text>
<line x1="198.02499999999998" y1="363.3" x2="198.02499999999998" y2="365.6" stroke="#222" stroke-width="1.1"/>
<line x1="205.15" y1="363.3" x2="205.15" y2="365.6" stroke="#222" stroke-width="1.1"/>
<line x1="212.275" y1="363.3" x2="212.275" y2="365.6" stroke="#222" stroke-width="1.1"/>
<line x1="219.4" y1="363.3" x2="219.4" y2="366.8" stroke="#222" stroke-width="1.2"/>
<text x="219.4" y="378.5" font-size="8.9" font-weight="normal" text-anchor="middle" fill="#1a1a1a">1000</text>
<text x="89" y="297" font-size="5.2" font-weight="normal" text-anchor="start" fill="#555">R2</text>
<text x="120" y="267" font-size="5.2" font-weight="normal" text-anchor="start" fill="#555">R4</text>
<text x="182" y="279" font-size="5.2" font-weight="normal" text-anchor="start" fill="#555">R6</text>
<text x="105" y="316" font-size="5.2" font-weight="normal" text-anchor="start" fill="#555">R3</text>
<text x="118" y="310" font-size="5.2" font-weight="normal" text-anchor="start" fill="#555">R7</text>
<text x="132" y="308" font-size="5.2" font-weight="normal" text-anchor="start" fill="#555">R5</text>
<text x="49.8" y="106.7" font-size="8.2" font-weight="normal" text-anchor="middle" fill="#555" textLength="20" lengthAdjust="spacingAndGlyphs" transform="rotate(-90 49.8 106.7)">FL1-H</text>
<text x="49.8" y="296" font-size="8.2" font-weight="normal" text-anchor="middle" fill="#555" textLength="20" lengthAdjust="spacingAndGlyphs" transform="rotate(-90 49.8 296)">FL1-H</text>
<text x="151.7" y="205.2" font-size="8.2" font-weight="normal" text-anchor="middle" fill="#555" textLength="21" lengthAdjust="spacingAndGlyphs">FL2-H</text>
<text x="153" y="390.6" font-size="8.2" font-weight="normal" text-anchor="middle" fill="#555" textLength="20" lengthAdjust="spacingAndGlyphs">FL2-H</text>
<text x="113.8" y="62.9" font-size="10.2" font-weight="bold" text-anchor="start" fill="#1a1a1a">S</text>
<text x="76.8" y="170.5" font-size="10.4" font-weight="bold" text-anchor="start" fill="#1a1a1a" textLength="35.6" lengthAdjust="spacingAndGlyphs">Sub G1</text>
<text x="117.3" y="160" font-size="10.4" font-weight="bold" text-anchor="start" fill="#1a1a1a" textLength="12.5" lengthAdjust="spacingAndGlyphs">G1</text>
<text x="146.9" y="159.3" font-size="10.4" font-weight="bold" text-anchor="start" fill="#1a1a1a" textLength="25.4" lengthAdjust="spacingAndGlyphs">G2/M</text>
<text x="170.0" y="123.1" font-size="10.6" font-weight="bold" text-anchor="start" fill="#1a1a1a" textLength="33.6" lengthAdjust="spacingAndGlyphs">&gt;G2/M</text>
<line x1="85.8" y1="160.6" x2="85.8" y2="149.3" stroke="#111" stroke-width="2.1"/>
<path d="M85.80 141.30L90.30 151.30L85.80 149.30L81.30 151.30Z" fill="#111" stroke="none" stroke-width="1"/>
<line x1="114.8" y1="152" x2="110.17770876399966" y2="142.75541752799933" stroke="#111" stroke-width="2.1"/>
<path d="M106.60 135.60L114.92 142.62L110.18 142.76L107.23 146.47Z" fill="#111" stroke="none" stroke-width="1"/>
<line x1="144.4" y1="148" x2="137.78228581290784" y2="137.55736843871696" stroke="#111" stroke-width="2.1"/>
<path d="M133.50 130.80L142.48 136.94L137.78 137.56L135.22 141.55Z" fill="#111" stroke="none" stroke-width="1"/>
<line x1="36.1" y1="36" x2="36.1" y2="401.6" stroke="#111" stroke-width="2"/>
<line x1="35.1" y1="400.7" x2="222" y2="400.7" stroke="#111" stroke-width="2"/>
<path d="M36.1 27.4L41 38.7L36.1 37L31.2 38.7Z" fill="#111" stroke="none" stroke-width="1"/>
<path d="M231.2 400.8L219.3 395.9L221.4 400.8L219.3 405.9Z" fill="#111" stroke="none" stroke-width="1"/>
<text x="30.6" y="217.9" font-size="11" font-weight="normal" text-anchor="middle" fill="#222" textLength="21" lengthAdjust="spacingAndGlyphs" transform="rotate(-90 30.6 217.9)">BrdU</text>
<text x="94" y="413.8" font-size="11.3" font-weight="normal" text-anchor="start" fill="#222" textLength="71.6" lengthAdjust="spacingAndGlyphs">Propidium iodide</text>
<text x="8" y="19" font-size="13.2" font-weight="bold" text-anchor="start" fill="#111">A</text>
<text x="250.4" y="19" font-size="13.2" font-weight="bold" text-anchor="start" fill="#111" textLength="8.7" lengthAdjust="spacingAndGlyphs">B</text>
<line x1="294.5" y1="70" x2="294.5" y2="228.1" stroke="#111" stroke-width="1.2"/>
<line x1="293.9" y1="227.5" x2="511.8" y2="227.5" stroke="#111" stroke-width="1.2"/>
<line x1="291" y1="227.5" x2="294.5" y2="227.5" stroke="#111" stroke-width="1.2"/>
<text x="287.6" y="230.2" font-size="8.8" font-weight="normal" text-anchor="end" fill="#1a1a1a">0</text>
<line x1="291" y1="196.67" x2="294.5" y2="196.67" stroke="#111" stroke-width="1.2"/>
<text x="287.6" y="199.36999999999998" font-size="8.8" font-weight="normal" text-anchor="end" fill="#1a1a1a">10</text>
<line x1="291" y1="165.84" x2="294.5" y2="165.84" stroke="#111" stroke-width="1.2"/>
<text x="287.6" y="168.54" font-size="8.8" font-weight="normal" text-anchor="end" fill="#1a1a1a">20</text>
<line x1="291" y1="135.01" x2="294.5" y2="135.01" stroke="#111" stroke-width="1.2"/>
<text x="287.6" y="137.70999999999998" font-size="8.8" font-weight="normal" text-anchor="end" fill="#1a1a1a">30</text>
<line x1="291" y1="104.17999999999999" x2="294.5" y2="104.17999999999999" stroke="#111" stroke-width="1.2"/>
<text x="287.6" y="106.88" font-size="8.8" font-weight="normal" text-anchor="end" fill="#1a1a1a">40</text>
<line x1="291" y1="73.35" x2="294.5" y2="73.35" stroke="#111" stroke-width="1.2"/>
<text x="287.6" y="76.05" font-size="8.8" font-weight="normal" text-anchor="end" fill="#1a1a1a">50</text>
<text x="270.6" y="147.5" font-size="9.4" font-weight="normal" text-anchor="middle" fill="#222" textLength="63" lengthAdjust="spacingAndGlyphs" transform="rotate(-90 270.6 147.5)">% of total cells</text>
<rect x="299.10" y="210.60" width="7.2" height="16.90" fill="#a8042c"/>
<line x1="302.70000000000005" y1="206.2" x2="302.70000000000005" y2="210.6" stroke="#1a1a1a" stroke-width="1.2"/>
<line x1="300.90000000000003" y1="206.7" x2="304.50000000000006" y2="206.7" stroke="#1a1a1a" stroke-width="1.2"/>
<rect x="308.30" y="214.50" width="7.2" height="13.00" fill="#c6c5ca"/>
<line x1="311.90000000000003" y1="210.0" x2="311.90000000000003" y2="214.5" stroke="#1a1a1a" stroke-width="1.2"/>
<line x1="310.1" y1="210.5" x2="313.70000000000005" y2="210.5" stroke="#1a1a1a" stroke-width="1.2"/>
<rect x="317.60" y="194.50" width="7.2" height="33.00" fill="#2d4e83"/>
<line x1="321.20000000000005" y1="180.3" x2="321.20000000000005" y2="194.5" stroke="#1a1a1a" stroke-width="1.2"/>
<line x1="319.40000000000003" y1="180.8" x2="323.00000000000006" y2="180.8" stroke="#1a1a1a" stroke-width="1.2"/>
<rect x="326.90" y="184.00" width="7.2" height="43.50" fill="#68aa43"/>
<line x1="330.5" y1="155.4" x2="330.5" y2="184.0" stroke="#1a1a1a" stroke-width="1.2"/>
<line x1="328.7" y1="155.9" x2="332.3" y2="155.9" stroke="#1a1a1a" stroke-width="1.2"/>
<line x1="316.5" y1="227.5" x2="316.5" y2="230.7" stroke="#222" stroke-width="1.1"/>
<text x="316.5" y="241.9" font-size="8.6" font-weight="normal" text-anchor="middle" fill="#1a1a1a">Sub G1</text>
<rect x="342.80" y="164.70" width="7.2" height="62.80" fill="#a8042c"/>
<line x1="346.40000000000003" y1="156.9" x2="346.40000000000003" y2="164.7" stroke="#1a1a1a" stroke-width="1.2"/>
<line x1="344.6" y1="157.4" x2="348.20000000000005" y2="157.4" stroke="#1a1a1a" stroke-width="1.2"/>
<rect x="352.00" y="168.60" width="7.2" height="58.90" fill="#c6c5ca"/>
<line x1="355.6" y1="158.7" x2="355.6" y2="168.6" stroke="#1a1a1a" stroke-width="1.2"/>
<line x1="353.8" y1="159.2" x2="357.40000000000003" y2="159.2" stroke="#1a1a1a" stroke-width="1.2"/>
<rect x="361.30" y="208.80" width="7.2" height="18.70" fill="#2d4e83"/>
<line x1="364.90000000000003" y1="207.6" x2="364.90000000000003" y2="208.8" stroke="#1a1a1a" stroke-width="1.2"/>
<line x1="363.1" y1="208.1" x2="366.70000000000005" y2="208.1" stroke="#1a1a1a" stroke-width="1.2"/>
<rect x="370.60" y="208.00" width="7.2" height="19.50" fill="#68aa43"/>
<line x1="374.2" y1="202.9" x2="374.2" y2="208.0" stroke="#1a1a1a" stroke-width="1.2"/>
<line x1="372.4" y1="203.4" x2="376.0" y2="203.4" stroke="#1a1a1a" stroke-width="1.2"/>
<line x1="360.2" y1="227.5" x2="360.2" y2="230.7" stroke="#222" stroke-width="1.1"/>
<text x="360.2" y="241.9" font-size="8.6" font-weight="normal" text-anchor="middle" fill="#1a1a1a">G1</text>
<rect x="386.70" y="125.50" width="7.2" height="102.00" fill="#a8042c"/>
<line x1="390.30000000000007" y1="124.8" x2="390.30000000000007" y2="125.5" stroke="#1a1a1a" stroke-width="1.2"/>
<line x1="388.50000000000006" y1="125.3" x2="392.1000000000001" y2="125.3" stroke="#1a1a1a" stroke-width="1.2"/>
<rect x="395.90" y="132.10" width="7.2" height="95.40" fill="#c6c5ca"/>
<line x1="399.50000000000006" y1="126.5" x2="399.50000000000006" y2="132.1" stroke="#1a1a1a" stroke-width="1.2"/>
<line x1="397.70000000000005" y1="127.0" x2="401.30000000000007" y2="127.0" stroke="#1a1a1a" stroke-width="1.2"/>
<rect x="405.20" y="176.00" width="7.2" height="51.50" fill="#2d4e83"/>
<line x1="408.80000000000007" y1="159.5" x2="408.80000000000007" y2="176.0" stroke="#1a1a1a" stroke-width="1.2"/>
<line x1="407.00000000000006" y1="160.0" x2="410.6000000000001" y2="160.0" stroke="#1a1a1a" stroke-width="1.2"/>
<rect x="414.50" y="186.60" width="7.2" height="40.90" fill="#68aa43"/>
<line x1="418.1" y1="171.0" x2="418.1" y2="186.6" stroke="#1a1a1a" stroke-width="1.2"/>
<line x1="416.3" y1="171.5" x2="419.90000000000003" y2="171.5" stroke="#1a1a1a" stroke-width="1.2"/>
<line x1="404.1" y1="227.5" x2="404.1" y2="230.7" stroke="#222" stroke-width="1.1"/>
<text x="404.1" y="241.9" font-size="8.6" font-weight="normal" text-anchor="middle" fill="#1a1a1a">S</text>
<rect x="430.40" y="193.60" width="7.2" height="33.90" fill="#a8042c"/>
<line x1="434.00000000000006" y1="190.9" x2="434.00000000000006" y2="193.6" stroke="#1a1a1a" stroke-width="1.2"/>
<line x1="432.20000000000005" y1="191.4" x2="435.80000000000007" y2="191.4" stroke="#1a1a1a" stroke-width="1.2"/>
<rect x="439.60" y="192.20" width="7.2" height="35.30" fill="#c6c5ca"/>
<line x1="443.20000000000005" y1="191.4" x2="443.20000000000005" y2="192.2" stroke="#1a1a1a" stroke-width="1.2"/>
<line x1="441.40000000000003" y1="191.9" x2="445.00000000000006" y2="191.9" stroke="#1a1a1a" stroke-width="1.2"/>
<rect x="448.90" y="128.60" width="7.2" height="98.90" fill="#2d4e83"/>
<line x1="452.50000000000006" y1="119.5" x2="452.50000000000006" y2="128.6" stroke="#1a1a1a" stroke-width="1.2"/>
<line x1="450.70000000000005" y1="120.0" x2="454.30000000000007" y2="120.0" stroke="#1a1a1a" stroke-width="1.2"/>
<rect x="458.20" y="116.80" width="7.2" height="110.70" fill="#68aa43"/>
<line x1="461.8" y1="100.8" x2="461.8" y2="116.8" stroke="#1a1a1a" stroke-width="1.2"/>
<line x1="460.0" y1="101.3" x2="463.6" y2="101.3" stroke="#1a1a1a" stroke-width="1.2"/>
<line x1="447.8" y1="227.5" x2="447.8" y2="230.7" stroke="#222" stroke-width="1.1"/>
<text x="447.8" y="241.9" font-size="8.6" font-weight="normal" text-anchor="middle" fill="#1a1a1a">G2-M</text>
<rect x="474.10" y="149.00" width="7.2" height="78.50" fill="#a8042c"/>
<line x1="477.70000000000005" y1="147.3" x2="477.70000000000005" y2="149.0" stroke="#1a1a1a" stroke-width="1.2"/>
<line x1="475.90000000000003" y1="147.8" x2="479.50000000000006" y2="147.8" stroke="#1a1a1a" stroke-width="1.2"/>
<rect x="483.30" y="135.70" width="7.2" height="91.80" fill="#c6c5ca"/>
<line x1="486.90000000000003" y1="132.4" x2="486.90000000000003" y2="135.7" stroke="#1a1a1a" stroke-width="1.2"/>
<line x1="485.1" y1="132.9" x2="488.70000000000005" y2="132.9" stroke="#1a1a1a" stroke-width="1.2"/>
<rect x="492.60" y="139.70" width="7.2" height="87.80" fill="#2d4e83"/>
<line x1="496.20000000000005" y1="129.8" x2="496.20000000000005" y2="139.7" stroke="#1a1a1a" stroke-width="1.2"/>
<line x1="494.40000000000003" y1="130.3" x2="498.00000000000006" y2="130.3" stroke="#1a1a1a" stroke-width="1.2"/>
<rect x="501.90" y="153.60" width="7.2" height="73.90" fill="#68aa43"/>
<line x1="505.5" y1="137.0" x2="505.5" y2="153.6" stroke="#1a1a1a" stroke-width="1.2"/>
<line x1="503.7" y1="137.5" x2="507.3" y2="137.5" stroke="#1a1a1a" stroke-width="1.2"/>
<line x1="491.5" y1="227.5" x2="491.5" y2="230.7" stroke="#222" stroke-width="1.1"/>
<text x="491.5" y="241.9" font-size="8.6" font-weight="normal" text-anchor="middle" fill="#1a1a1a">&gt;G2</text>
<path d="M433.6 73L433.6 66.6L461.5 66.6L461.5 85.8" fill="none" stroke="#222" stroke-width="1.1"/>
<path d="M433.6 176.2L433.6 91.9L452.5 91.9L452.5 110.8" fill="none" stroke="#222" stroke-width="1.1"/>
<text x="447.4" y="61.4" font-size="8.2" font-weight="normal" text-anchor="middle" fill="#222" textLength="26.4" lengthAdjust="spacingAndGlyphs">p=0.02</text>
<text x="442.6" y="86.9" font-size="8.2" font-weight="normal" text-anchor="middle" fill="#222" textLength="25.7" lengthAdjust="spacingAndGlyphs">p=0.01</text>
<rect x="352" y="261.90" width="16.2" height="7.8" fill="#a8042c"/>
<text x="371.6" y="268.9" font-size="9" font-weight="normal" text-anchor="start" fill="#1a1a1a" textLength="36.3" lengthAdjust="spacingAndGlyphs">Untreated</text>
<rect x="352" y="279.35" width="16.2" height="7.8" fill="#c6c5ca"/>
<text x="371.6" y="286.34999999999997" font-size="9" font-weight="normal" text-anchor="start" fill="#1a1a1a" textLength="81.5" lengthAdjust="spacingAndGlyphs">Control ADC 10 ng/ml</text>
<rect x="352" y="296.80" width="16.2" height="7.8" fill="#2d4e83"/>
<text x="371.6" y="303.79999999999995" font-size="9" font-weight="normal" text-anchor="start" fill="#1a1a1a" textLength="82.7" lengthAdjust="spacingAndGlyphs">SGN-CD19B 10 ng/ml</text>
<rect x="352" y="314.25" width="16.2" height="7.8" fill="#68aa43"/>
<text x="371.6" y="321.25" font-size="9" font-weight="normal" text-anchor="start" fill="#1a1a1a" textLength="67.5" lengthAdjust="spacingAndGlyphs">SGD-1882 0.1 nM</text>
</svg>
<div class="frame"></div>
</body></html>
